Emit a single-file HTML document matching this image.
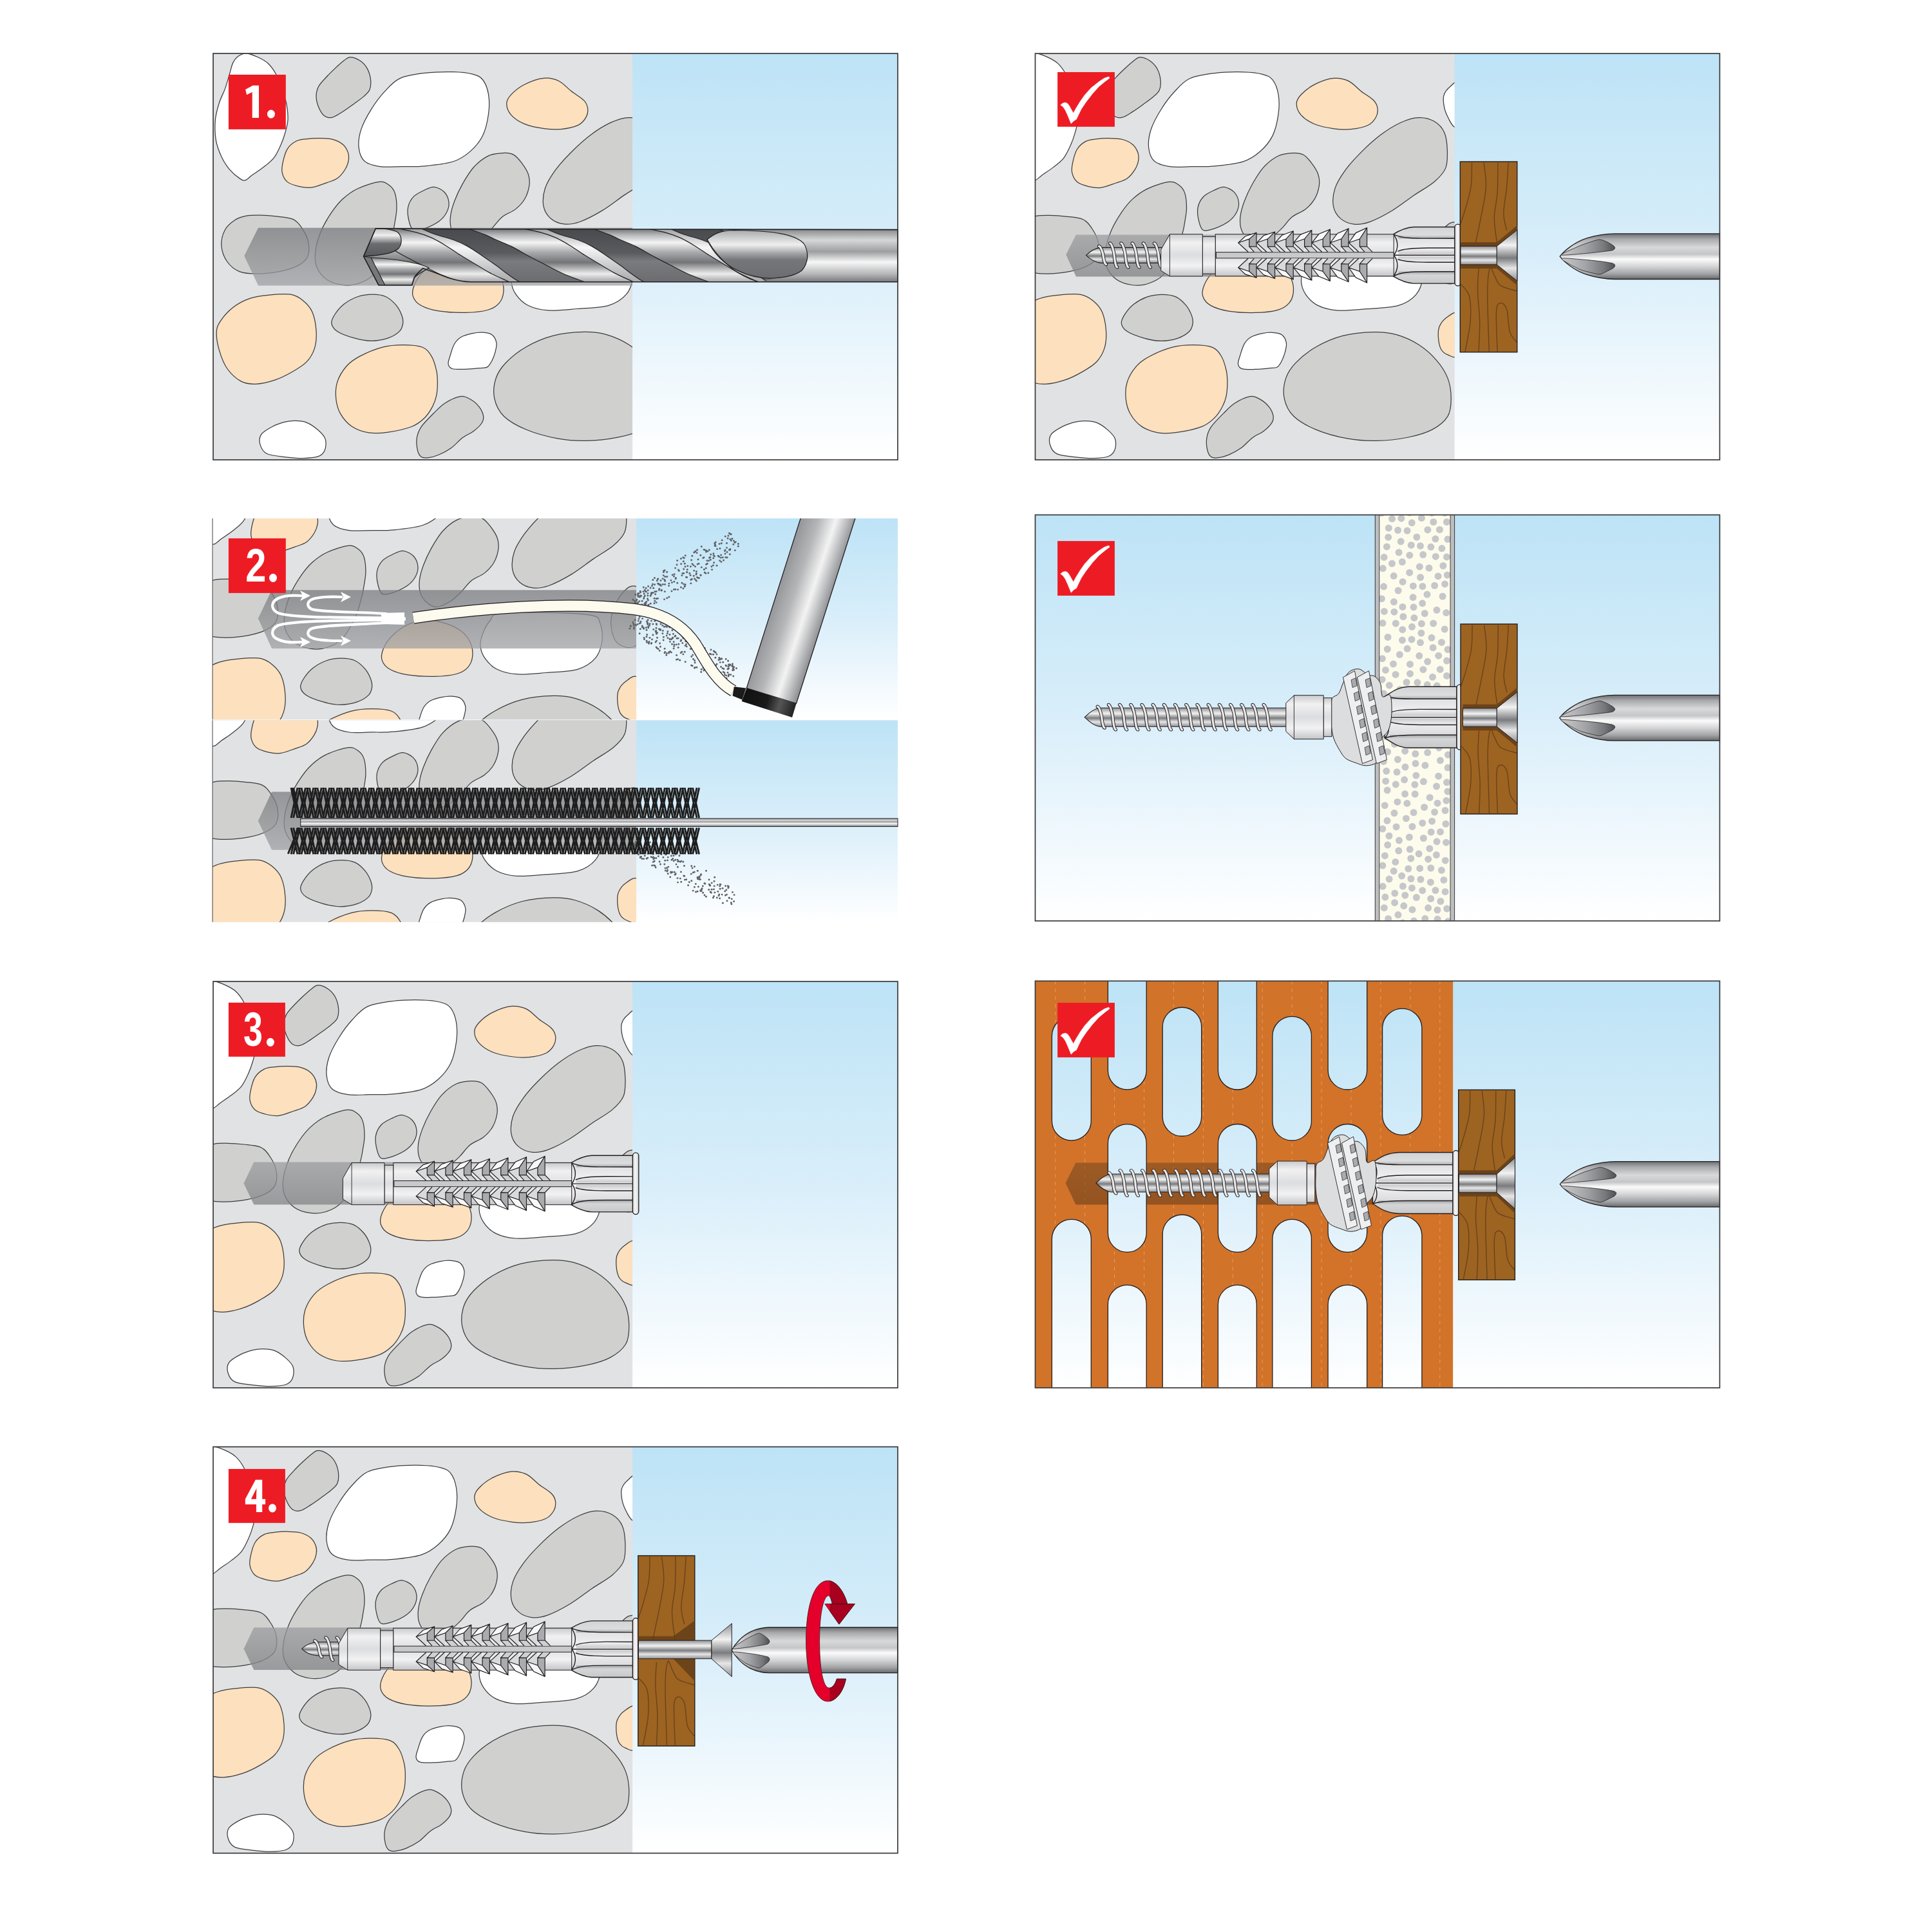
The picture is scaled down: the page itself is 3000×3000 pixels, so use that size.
<!DOCTYPE html><html><head><meta charset="utf-8"><style>html,body{margin:0;padding:0;background:#fff;width:3000px;height:3000px;overflow:hidden}svg{display:block}</style></head><body><svg width="3000" height="3000" viewBox="0 0 3000 3000"><defs><linearGradient id="sky" x1="0" y1="0" x2="0" y2="1">
<stop offset="0" stop-color="#bde3f6"/><stop offset="0.5" stop-color="#d9eefa"/><stop offset="1" stop-color="#ffffff"/></linearGradient>
<linearGradient id="hole" x1="0" y1="0" x2="0" y2="1">
<stop offset="0" stop-color="#7c7d81" stop-opacity="0.75"/><stop offset="1" stop-color="#a0a1a4" stop-opacity="0.75"/></linearGradient>
<linearGradient id="holeB" x1="0" y1="0" x2="0" y2="1">
<stop offset="0" stop-color="#9c9da0" stop-opacity="0.75"/><stop offset="1" stop-color="#828386" stop-opacity="0.75"/></linearGradient>
<linearGradient id="holeBr" x1="0" y1="0" x2="0" y2="1">
<stop offset="0" stop-color="#7a4a22" stop-opacity="0.6"/><stop offset="1" stop-color="#6a3e1a" stop-opacity="0.6"/></linearGradient>
<linearGradient id="metal" x1="0" y1="0" x2="0" y2="1">
<stop offset="0" stop-color="#6f7073"/><stop offset="0.12" stop-color="#b9babc"/><stop offset="0.25" stop-color="#f4f4f4"/><stop offset="0.42" stop-color="#a9aaac"/><stop offset="0.6" stop-color="#747578"/><stop offset="0.8" stop-color="#ececec"/><stop offset="1" stop-color="#88898b"/></linearGradient>
<linearGradient id="metal2" x1="0" y1="0" x2="0" y2="1">
<stop offset="0" stop-color="#8a8b8d"/><stop offset="0.2" stop-color="#d6d7d8"/><stop offset="0.42" stop-color="#9d9ea0"/><stop offset="0.62" stop-color="#f7f7f7"/><stop offset="0.85" stop-color="#b4b5b7"/><stop offset="1" stop-color="#77787b"/></linearGradient>
<linearGradient id="dark" x1="0" y1="0" x2="0" y2="1">
<stop offset="0" stop-color="#48494c"/><stop offset="0.45" stop-color="#5a5b5e"/><stop offset="0.6" stop-color="#7a7b7e"/><stop offset="1" stop-color="#6a6b6e"/></linearGradient>
<linearGradient id="hilite" x1="0" y1="0" x2="0" y2="1">
<stop offset="0" stop-color="#9c9da0"/><stop offset="0.35" stop-color="#f6f6f6"/><stop offset="0.6" stop-color="#d5d6d8"/><stop offset="1" stop-color="#a5a6a9"/></linearGradient>
<linearGradient id="tipg" x1="0" y1="0" x2="0" y2="1">
<stop offset="0" stop-color="#bdbec0"/><stop offset="0.25" stop-color="#eeeeee"/><stop offset="0.55" stop-color="#6b6c6f"/><stop offset="1" stop-color="#58595c"/></linearGradient>
<linearGradient id="shadeDn" x1="0" y1="0" x2="0" y2="1"><stop offset="0" stop-color="#9a9b9e" stop-opacity="0"/><stop offset="1" stop-color="#9a9b9e" stop-opacity="0.85"/></linearGradient>
<linearGradient id="shadeUp" x1="0" y1="0" x2="0" y2="1"><stop offset="0" stop-color="#9a9b9e" stop-opacity="0.85"/><stop offset="1" stop-color="#9a9b9e" stop-opacity="0"/></linearGradient>
<linearGradient id="flg" x1="0" y1="0" x2="1" y2="0"><stop offset="0" stop-color="#d8d9db"/><stop offset="0.5" stop-color="#f7f7f8"/><stop offset="1" stop-color="#c9cacc"/></linearGradient>
<linearGradient id="tongueg" x1="0" y1="0" x2="0" y2="1"><stop offset="0" stop-color="#a9aaac"/><stop offset="0.3" stop-color="#efefef"/><stop offset="0.5" stop-color="#9c9d9f"/><stop offset="0.62" stop-color="#757679"/><stop offset="1" stop-color="#6c6d70"/></linearGradient>
<linearGradient id="flute" x1="0" y1="0" x2="1" y2="0"><stop offset="0" stop-color="#c8c9cb"/><stop offset="0.45" stop-color="#a3a4a7"/><stop offset="0.8" stop-color="#77787b"/><stop offset="1" stop-color="#4e4f52"/></linearGradient>
<linearGradient id="plast" x1="0" y1="0" x2="0" y2="1">
<stop offset="0" stop-color="#c9cacc"/><stop offset="0.2" stop-color="#f1f1f2"/><stop offset="0.5" stop-color="#dcdde0"/><stop offset="0.75" stop-color="#f2f2f3"/><stop offset="1" stop-color="#c4c5c8"/></linearGradient>
<linearGradient id="plastH" x1="0" y1="0" x2="0" y2="1">
<stop offset="0" stop-color="#d2d3d5"/><stop offset="0.5" stop-color="#f6f6f7"/><stop offset="1" stop-color="#c7c8ca"/></linearGradient>
<linearGradient id="bitg" x1="0" y1="0" x2="0" y2="1">
<stop offset="0" stop-color="#6e6f72"/><stop offset="0.12" stop-color="#a9aaac"/><stop offset="0.3" stop-color="#d9d9db"/><stop offset="0.45" stop-color="#c5c6c8"/><stop offset="0.56" stop-color="#fbfbfb"/><stop offset="0.72" stop-color="#d4d5d7"/><stop offset="0.88" stop-color="#a3a4a6"/><stop offset="1" stop-color="#68696c"/></linearGradient>
<linearGradient id="screwg" x1="0" y1="0" x2="0" y2="1">
<stop offset="0" stop-color="#8e8f92"/><stop offset="0.3" stop-color="#f2f2f2"/><stop offset="0.55" stop-color="#7b7c7f"/><stop offset="0.75" stop-color="#e6e6e7"/><stop offset="1" stop-color="#909194"/></linearGradient>
<linearGradient id="pumpg" gradientUnits="userSpaceOnUse" x1="1246.3" y1="805.4" x2="1322.7" y2="830.7">
<stop offset="0" stop-color="#98999c"/><stop offset="0.3" stop-color="#b5b6b8"/><stop offset="0.62" stop-color="#f3f3f3"/><stop offset="0.8" stop-color="#c3c4c6"/><stop offset="1" stop-color="#8d8e91"/></linearGradient>
<linearGradient id="capg" gradientUnits="userSpaceOnUse" x1="1159.3" y1="1068.5" x2="1236.5" y2="1092.4">
<stop offset="0" stop-color="#111"/><stop offset="0.45" stop-color="#1a1a1a"/><stop offset="0.7" stop-color="#555"/><stop offset="1" stop-color="#222"/></linearGradient>
<g id="stones" stroke="#3d3d3f" stroke-width="3.6"><path d="M152.3,8.0 C166.7,8.8 186.9,17.9 203.0,25.4 C219.1,32.9 235.2,40.6 248.7,53.3 C262.2,66.0 274.0,82.5 284.2,101.5 C294.4,120.5 302.0,146.3 309.6,167.5 C317.2,188.7 325.2,205.6 329.9,228.4 C334.5,251.2 338.4,281.7 337.5,304.5 C336.6,327.3 330.3,345.9 324.8,365.4 C319.3,384.8 312.9,402.6 304.5,421.2 C296.1,439.8 286.8,461.0 274.1,477.1 C261.4,493.2 244.5,505.0 228.4,517.7 C212.3,530.4 191.1,543.5 177.6,553.2 C164.1,562.9 156.5,573.6 147.2,576.1 C137.9,578.6 133.7,576.5 121.8,568.4 C110.0,560.3 89.6,543.9 76.1,527.8 C62.6,511.7 50.8,494.0 40.6,472.0 C30.5,450.0 19.9,423.8 15.2,395.9 C10.5,368.0 10.1,332.4 12.7,304.5 C15.2,276.6 23.3,251.2 30.5,228.4 C37.7,205.6 48.2,188.7 55.8,167.5 C63.4,146.3 70.2,121.0 76.1,101.5 C82.0,82.0 84.6,64.3 91.4,50.8 C98.2,37.3 106.5,27.4 116.7,20.3 C126.9,13.2 137.9,7.2 152.3,8.0Z" fill="#ffffff"/><path d="M616.6,25.4 C628.5,25.4 647.1,32.2 659.8,40.6 C672.5,49.0 684.7,61.7 692.7,76.1 C700.7,90.5 706.3,110.8 708.0,126.9 C709.7,143.0 708.4,159.9 702.9,172.6 C697.4,185.3 686.4,192.8 675.0,203.0 C663.6,213.2 649.6,222.5 634.4,233.5 C619.2,244.5 599.7,258.9 583.6,269.0 C567.5,279.1 551.5,291.0 538.0,294.4 C524.5,297.8 512.5,296.1 502.4,289.3 C492.2,282.5 483.4,268.2 477.1,253.8 C470.8,239.4 464.8,219.1 464.4,203.0 C464.0,186.9 467.3,171.7 474.5,157.3 C481.7,142.9 495.2,130.2 507.5,116.7 C519.8,103.2 534.6,88.8 548.1,76.1 C561.6,63.4 577.3,49.0 588.7,40.6 C600.1,32.2 604.8,25.4 616.6,25.4Z" fill="#d0d0cf"/><path d="M951.6,96.4 C991.4,91.6 1043.0,90.6 1078.5,91.4 C1114.0,92.2 1142.8,95.6 1164.8,101.5 C1186.8,107.4 1198.6,111.7 1210.4,126.9 C1222.2,142.1 1231.6,167.5 1235.8,192.9 C1240.0,218.3 1240.0,248.7 1235.8,279.1 C1231.6,309.6 1223.9,347.7 1210.4,375.6 C1196.9,403.5 1176.6,427.2 1154.6,446.6 C1132.6,466.1 1112.3,481.3 1078.5,492.3 C1044.7,503.3 989.7,508.8 951.6,512.6 C913.5,516.4 883.6,514.6 850.0,515.0 C816.4,515.4 778.3,519.2 750.0,515.0 C721.7,510.8 695.8,504.2 680.0,490.0 C664.2,475.8 657.5,453.3 655.0,430.0 C652.5,406.7 655.8,378.3 665.0,350.0 C674.2,321.7 692.5,288.3 710.0,260.0 C727.5,231.7 748.3,203.3 770.0,180.0 C791.7,156.7 809.7,133.9 840.0,120.0 C870.3,106.1 911.9,101.2 951.6,96.4Z" fill="#ffffff"/><path d="M1484.5,119.3 C1509.9,116.8 1530.2,122.3 1550.5,132.0 C1570.8,141.7 1587.7,163.2 1606.3,177.6 C1624.9,192.0 1649.8,205.5 1662.1,218.2 C1674.4,230.9 1678.2,241.1 1679.9,253.8 C1681.6,266.5 1679.5,281.7 1672.3,294.4 C1665.1,307.1 1655.3,321.0 1636.7,329.9 C1618.1,338.8 1586.0,345.1 1560.6,347.6 C1535.2,350.1 1511.6,348.9 1484.5,345.1 C1457.4,341.3 1422.7,335.0 1398.2,324.8 C1373.7,314.6 1350.8,299.4 1337.3,284.2 C1323.8,269.0 1317.0,248.7 1317.0,233.5 C1317.0,218.3 1323.8,207.3 1337.3,192.9 C1350.8,178.5 1373.7,159.5 1398.2,147.2 C1422.7,134.9 1459.1,121.8 1484.5,119.3Z" fill="#fde0bd"/><path d="M477.1,388.2 C495.7,388.6 520.2,388.6 538.0,393.3 C555.8,398.0 572.2,406.5 583.6,416.2 C595.0,425.9 602.3,439.9 606.5,451.7 C610.7,463.5 611.1,474.5 609.0,487.2 C606.9,499.9 602.2,514.3 593.8,527.8 C585.3,541.3 572.7,558.2 558.3,568.4 C543.9,578.5 527.0,581.9 507.5,588.7 C488.0,595.5 461.8,606.5 441.5,609.0 C421.2,611.5 403.4,608.1 385.7,603.9 C367.9,599.7 347.3,593.8 335.0,583.6 C322.7,573.5 315.5,557.4 312.1,543.0 C308.7,528.6 310.9,515.1 314.7,497.4 C318.5,479.6 324.9,452.6 335.0,436.5 C345.1,420.4 360.4,408.5 375.6,400.9 C390.8,393.3 409.4,392.9 426.3,390.8 C443.2,388.7 458.5,387.8 477.1,388.2Z" fill="#fde0bd"/><path d="M1301.8,454.2 C1320.4,453.4 1334.0,454.6 1347.5,461.8 C1361.0,469.0 1372.0,483.0 1383.0,497.4 C1394.0,511.8 1407.5,531.2 1413.4,548.1 C1419.3,565.0 1421.0,580.3 1418.5,598.9 C1416.0,617.5 1408.4,642.0 1398.2,659.8 C1388.0,677.5 1374.5,691.9 1357.6,705.4 C1340.7,718.9 1314.5,726.6 1296.7,741.0 C1278.9,755.4 1267.1,776.0 1251.0,791.7 C1234.9,807.4 1218.5,824.0 1200.0,835.0 C1181.5,846.0 1157.5,858.0 1140.0,858.0 C1122.5,858.0 1107.0,846.0 1095.0,835.0 C1083.0,824.0 1073.2,808.2 1068.3,791.7 C1063.4,775.2 1063.3,756.2 1065.8,735.9 C1068.3,715.6 1074.6,693.6 1083.5,669.9 C1092.4,646.2 1104.7,619.2 1119.1,593.8 C1133.5,568.4 1150.3,538.9 1169.8,517.7 C1189.2,496.6 1213.8,477.5 1235.8,466.9 C1257.8,456.3 1283.2,455.0 1301.8,454.2Z" fill="#d0d0cf"/><path d="M1864.2,295.7 C1889.2,294.9 1915.0,301.5 1934.2,312.7 C1953.4,323.9 1969.5,341.0 1979.2,362.7 C1988.9,384.4 1991.4,416.0 1992.2,442.7 C1993.0,469.4 1993.9,499.4 1984.2,522.7 C1974.5,546.0 1957.5,562.7 1934.2,582.7 C1910.9,602.7 1875.9,621.0 1844.2,642.7 C1812.5,664.4 1777.5,692.7 1744.2,712.7 C1710.9,732.7 1672.5,752.7 1644.2,762.7 C1615.9,772.7 1595.9,775.2 1574.2,772.7 C1552.5,770.2 1529.5,761.0 1514.2,747.7 C1498.9,734.4 1486.4,715.2 1482.2,692.7 C1478.0,670.2 1480.5,639.4 1489.2,612.7 C1497.9,586.0 1515.0,559.4 1534.2,532.7 C1553.4,506.0 1577.5,479.4 1604.2,452.7 C1630.9,426.0 1664.2,395.2 1694.2,372.7 C1724.2,350.2 1755.9,330.5 1784.2,317.7 C1812.5,304.9 1839.2,296.5 1864.2,295.7Z" fill="#d0d0cf"/><path d="M746.0,583.6 C769.7,581.1 779.9,590.4 791.7,598.9 C803.5,607.4 811.5,617.5 817.0,634.4 C822.5,651.3 824.7,679.2 824.7,700.4 C824.7,721.5 820.0,742.7 817.0,761.3 C814.0,779.9 813.1,788.9 806.9,812.0 C800.7,835.1 794.5,868.7 780.0,900.0 C765.5,931.3 741.7,976.7 720.0,1000.0 C698.3,1023.3 673.3,1032.5 650.0,1040.0 C626.7,1047.5 603.3,1048.3 580.0,1045.0 C556.7,1041.7 529.2,1034.2 510.0,1020.0 C490.8,1005.8 473.0,982.0 465.0,960.0 C457.0,938.0 458.1,914.5 461.8,888.1 C465.5,861.8 475.4,829.8 487.2,801.9 C499.0,774.0 516.8,744.4 532.9,720.7 C549.0,697.0 564.1,677.6 583.6,659.8 C603.1,642.0 622.5,626.8 649.6,614.1 C676.7,601.4 722.3,586.1 746.0,583.6Z" fill="#d0d0cf"/><path d="M992.2,606.5 C1006.9,608.0 1026.9,617.9 1037.9,629.3 C1048.9,640.7 1056.5,659.8 1058.2,675.0 C1059.9,690.2 1055.6,706.3 1048.0,720.7 C1040.4,735.1 1028.6,749.5 1012.5,761.3 C996.4,773.1 970.4,785.2 951.6,791.7 C932.9,798.2 911.9,805.3 900.0,800.0 C888.1,794.7 884.2,776.7 880.0,760.0 C875.8,743.3 871.7,718.3 875.0,700.0 C878.3,681.7 887.5,663.3 900.0,650.0 C912.5,636.7 934.6,627.2 950.0,620.0 C965.4,612.8 977.6,605.0 992.2,606.5Z" fill="#d0d0cf"/><path d="M152.0,736.0 C170.8,732.3 191.0,732.7 213.0,733.0 C235.0,733.3 259.5,735.0 284.0,738.0 C308.5,741.0 340.5,742.0 360.0,751.0 C379.5,760.0 389.5,775.0 401.0,792.0 C412.5,809.0 425.0,831.7 429.0,853.0 C433.0,874.3 433.2,902.2 425.0,920.0 C416.8,937.8 400.8,949.2 380.0,960.0 C359.2,970.8 330.0,979.2 300.0,985.0 C270.0,990.8 230.0,995.0 200.0,995.0 C170.0,995.0 142.5,994.2 120.0,985.0 C97.5,975.8 78.3,959.2 65.0,940.0 C51.7,920.8 41.7,893.3 40.0,870.0 C38.3,846.7 45.0,819.2 55.0,800.0 C65.0,780.8 83.8,765.7 100.0,755.0 C116.2,744.3 133.2,739.7 152.0,736.0Z" fill="#d0d0cf"/><path d="M1093.0,917.0 C1121.3,916.2 1156.3,923.7 1183.0,932.0 C1209.7,940.3 1234.7,952.8 1253.0,967.0 C1271.3,981.2 1284.7,998.7 1293.0,1017.0 C1301.3,1035.3 1304.7,1058.7 1303.0,1077.0 C1301.3,1095.3 1294.7,1113.7 1283.0,1127.0 C1271.3,1140.3 1258.0,1150.0 1233.0,1157.0 C1208.0,1164.0 1169.7,1168.2 1133.0,1169.0 C1096.3,1169.8 1046.3,1167.3 1013.0,1162.0 C979.7,1156.7 952.2,1147.8 933.0,1137.0 C913.8,1126.2 903.0,1112.0 898.0,1097.0 C893.0,1082.0 895.5,1065.3 903.0,1047.0 C910.5,1028.7 924.7,1005.3 943.0,987.0 C961.3,968.7 988.0,948.7 1013.0,937.0 C1038.0,925.3 1064.7,917.8 1093.0,917.0Z" fill="#fde0bd"/><path d="M1423.0,887.0 C1464.7,881.3 1564.7,881.7 1633.0,883.0 C1701.3,884.3 1793.0,887.7 1833.0,895.0 C1873.0,902.3 1864.7,908.3 1873.0,927.0 C1881.3,945.7 1886.3,980.3 1883.0,1007.0 C1879.7,1033.7 1871.3,1065.3 1853.0,1087.0 C1834.7,1108.7 1809.7,1126.2 1773.0,1137.0 C1736.3,1147.8 1678.0,1148.3 1633.0,1152.0 C1588.0,1155.7 1539.7,1161.5 1503.0,1159.0 C1466.3,1156.5 1437.2,1149.0 1413.0,1137.0 C1388.8,1125.0 1370.5,1105.3 1358.0,1087.0 C1345.5,1068.7 1338.8,1047.0 1338.0,1027.0 C1337.2,1007.0 1345.5,985.3 1353.0,967.0 C1360.5,948.7 1371.3,930.3 1383.0,917.0 C1394.7,903.7 1381.3,892.7 1423.0,887.0Z" fill="#ffffff"/><path d="M350.2,1087.7 C375.6,1091.9 389.9,1102.6 406.0,1115.7 C422.1,1128.8 436.9,1143.6 446.6,1166.4 C456.3,1189.2 462.7,1225.6 464.4,1252.7 C466.1,1279.8 464.0,1306.0 456.8,1328.8 C449.6,1351.6 438.1,1371.9 421.2,1389.7 C404.3,1407.5 379.0,1421.9 355.3,1435.4 C331.6,1448.9 306.2,1462.0 279.1,1470.9 C252.0,1479.8 218.3,1487.9 192.9,1488.7 C167.5,1489.5 148.1,1487.4 126.9,1476.0 C105.8,1464.6 82.1,1443.0 66.0,1420.2 C49.9,1397.4 38.5,1366.1 30.5,1339.0 C22.5,1311.9 17.0,1279.8 17.8,1257.8 C18.6,1235.8 23.2,1225.6 35.5,1207.0 C47.8,1188.4 69.4,1163.0 91.4,1146.1 C113.4,1129.2 140.4,1114.8 167.5,1105.5 C194.6,1096.2 223.4,1093.3 253.8,1090.3 C284.2,1087.3 324.8,1083.5 350.2,1087.7Z" fill="#fde0bd"/><path d="M715.6,1087.7 C736.8,1087.7 758.7,1089.9 776.5,1097.9 C794.3,1106.0 810.4,1122.0 822.2,1136.0 C834.0,1150.0 842.4,1168.1 847.5,1181.6 C852.6,1195.1 854.3,1205.3 852.6,1217.2 C850.9,1229.1 848.4,1241.7 837.4,1252.7 C826.4,1263.7 807.8,1275.9 786.6,1283.1 C765.5,1290.3 735.9,1295.8 710.5,1295.8 C685.1,1295.8 659.8,1290.3 634.4,1283.1 C609.0,1275.9 575.2,1263.7 558.3,1252.7 C541.4,1241.7 534.6,1229.9 532.9,1217.2 C531.2,1204.5 538.8,1191.0 548.1,1176.6 C557.4,1162.2 571.8,1144.0 588.7,1130.9 C605.6,1117.8 628.5,1105.1 649.6,1097.9 C670.8,1090.7 694.5,1087.7 715.6,1087.7Z" fill="#d0d0cf"/><path d="M1210.4,1257.8 C1224.8,1258.8 1240.8,1260.3 1251.0,1267.9 C1261.2,1275.5 1268.8,1290.7 1271.3,1303.4 C1273.8,1316.1 1269.6,1330.5 1266.2,1344.0 C1262.8,1357.5 1256.9,1373.2 1251.0,1384.6 C1245.1,1396.0 1240.0,1407.0 1230.7,1412.5 C1221.4,1418.0 1212.1,1415.9 1195.2,1417.6 C1178.3,1419.3 1149.5,1422.3 1129.2,1422.7 C1108.9,1423.1 1085.7,1423.9 1073.4,1420.1 C1061.1,1416.3 1057.3,1409.2 1055.6,1399.9 C1053.9,1390.6 1058.6,1379.5 1063.3,1364.3 C1068.0,1349.1 1075.0,1322.9 1083.5,1308.5 C1092.0,1294.1 1100.5,1285.9 1114.0,1278.1 C1127.5,1270.3 1148.7,1265.2 1164.8,1261.8 C1180.9,1258.4 1196.0,1256.8 1210.4,1257.8Z" fill="#ffffff"/><path d="M852.6,1313.6 C882.2,1313.6 917.6,1315.2 938.9,1323.7 C960.2,1332.2 969.8,1346.6 980.5,1364.3 C991.2,1382.0 998.5,1409.9 1003.0,1430.0 C1007.5,1450.1 1007.5,1466.4 1007.4,1485.0 C1007.3,1503.6 1006.1,1524.3 1002.4,1541.8 C998.7,1559.3 993.7,1573.6 985.0,1590.0 C976.3,1606.4 965.3,1625.2 950.0,1640.0 C934.7,1654.8 920.4,1668.3 893.2,1679.0 C866.0,1689.7 818.7,1699.8 786.6,1704.4 C754.5,1709.1 727.5,1711.1 700.4,1706.9 C673.3,1702.7 645.4,1693.0 624.2,1679.0 C603.1,1665.0 585.3,1643.5 573.5,1623.2 C561.7,1602.9 555.7,1580.9 553.2,1557.2 C550.7,1533.5 550.7,1505.6 558.3,1481.1 C565.9,1456.6 582.0,1429.5 598.9,1410.0 C615.8,1390.5 632.7,1378.7 659.8,1364.3 C686.9,1349.9 729.2,1332.2 761.3,1323.7 C793.4,1315.2 823.0,1313.6 852.6,1313.6Z" fill="#fde0bd"/><path d="M1664.2,1255.7 C1704.2,1254.9 1730.9,1258.2 1764.2,1267.7 C1797.5,1277.2 1834.2,1293.5 1864.2,1312.7 C1894.2,1331.9 1922.5,1357.7 1944.2,1382.7 C1965.9,1407.7 1983.4,1434.4 1994.2,1462.7 C2005.0,1491.0 2009.2,1524.4 2009.2,1552.7 C2009.2,1581.0 2008.4,1609.4 1994.2,1632.7 C1980.0,1656.0 1954.2,1676.9 1924.2,1692.7 C1894.2,1708.5 1855.9,1719.4 1814.2,1727.7 C1772.5,1736.0 1719.2,1741.9 1674.2,1742.7 C1629.2,1743.5 1589.2,1741.0 1544.2,1732.7 C1499.2,1724.4 1444.2,1709.4 1404.2,1692.7 C1364.2,1676.0 1327.9,1656.0 1304.2,1632.7 C1280.5,1609.4 1268.0,1581.0 1262.2,1552.7 C1256.4,1524.4 1260.5,1489.4 1269.2,1462.7 C1277.9,1436.0 1291.7,1416.0 1314.2,1392.7 C1336.7,1369.4 1369.2,1342.7 1404.2,1322.7 C1439.2,1302.7 1480.9,1283.9 1524.2,1272.7 C1567.5,1261.5 1624.2,1256.5 1664.2,1255.7Z" fill="#d0d0cf"/><path d="M1108.9,1544.5 C1128.0,1541.5 1140.2,1549.2 1154.6,1557.2 C1169.0,1565.2 1185.5,1580.0 1195.2,1592.7 C1204.9,1605.4 1211.3,1621.5 1213.0,1633.3 C1214.7,1645.1 1212.5,1652.8 1205.3,1663.8 C1198.1,1674.8 1184.2,1688.3 1169.8,1699.3 C1155.4,1710.3 1136.0,1717.0 1119.1,1729.7 C1102.2,1742.4 1086.1,1762.7 1068.3,1775.4 C1050.5,1788.1 1029.4,1798.7 1012.5,1805.9 C995.6,1813.1 979.7,1817.0 966.8,1818.5 C953.9,1820.0 943.1,1820.6 935.0,1815.0 C926.9,1809.4 921.3,1799.2 918.0,1785.0 C914.7,1770.8 912.2,1747.5 915.0,1730.0 C917.8,1712.5 922.5,1698.3 935.0,1680.0 C947.5,1661.7 972.5,1637.5 990.0,1620.0 C1007.5,1602.5 1020.2,1587.6 1040.0,1575.0 C1059.8,1562.4 1089.8,1547.5 1108.9,1544.5Z" fill="#d0d0cf"/><path d="M370.5,1653.6 C386.6,1654.0 404.3,1654.4 421.2,1661.2 C438.1,1668.0 458.0,1681.9 472.0,1694.2 C486.0,1706.5 499.9,1719.6 505.0,1734.8 C510.1,1750.0 507.9,1772.4 502.4,1785.5 C496.9,1798.6 488.1,1807.6 472.0,1813.5 C455.9,1819.4 429.7,1820.7 406.0,1821.1 C382.3,1821.5 357.0,1819.4 329.9,1816.0 C302.8,1812.6 263.1,1810.1 243.6,1800.8 C224.2,1791.5 217.4,1774.6 213.2,1760.2 C209.0,1745.8 208.9,1728.0 218.2,1714.5 C227.5,1701.0 251.2,1688.3 269.0,1679.0 C286.8,1669.7 307.9,1662.9 324.8,1658.7 C341.7,1654.5 354.4,1653.2 370.5,1653.6Z" fill="#ffffff"/><path d="M2044.2,142.7 C2027.5,126.9 2015.5,148.5 2004.2,157.7 C1992.9,166.9 1980.4,181.9 1976.2,197.7 C1972.0,213.5 1975.4,235.2 1979.2,252.7 C1983.0,270.2 1991.7,288.5 1999.2,302.7 C2006.7,316.9 2013.4,331.0 2024.2,337.7 C2035.0,344.4 2050.9,356.9 2064.2,342.7 C2077.5,328.5 2107.5,286.0 2104.2,252.7 C2100.9,219.4 2060.9,158.5 2044.2,142.7Z" fill="#ffffff"/><path d="M2044.2,1172.7 C2025.0,1159.0 2003.9,1180.7 1989.2,1190.7 C1974.5,1200.7 1962.4,1217.4 1956.2,1232.7 C1950.0,1248.0 1950.9,1266.0 1952.2,1282.7 C1953.5,1299.4 1957.2,1320.2 1964.2,1332.7 C1971.2,1345.2 1980.9,1352.7 1994.2,1357.7 C2007.5,1362.7 2025.9,1376.9 2044.2,1362.7 C2062.5,1348.5 2104.2,1304.4 2104.2,1272.7 C2104.2,1241.0 2063.4,1186.4 2044.2,1172.7Z" fill="#fde0bd"/><path d="M2013.0,765.0 C2026.3,761.7 2039.7,763.3 2053.0,777.0 C2066.3,790.7 2088.0,818.7 2093.0,847.0 C2098.0,875.3 2092.2,917.0 2083.0,947.0 C2073.8,977.0 2053.0,1011.7 2038.0,1027.0 C2023.0,1042.3 2008.8,1042.0 1993.0,1039.0 C1977.2,1036.0 1954.7,1026.0 1943.0,1009.0 C1931.3,992.0 1924.7,960.7 1923.0,937.0 C1921.3,913.3 1924.7,890.3 1933.0,867.0 C1941.3,843.7 1959.7,814.0 1973.0,797.0 C1986.3,780.0 1999.7,768.3 2013.0,765.0Z" fill="#d0d0cf"/></g><clipPath id="c1"><rect x="331" y="83" width="651.1" height="631"/></clipPath><clipPath id="drillclip"><path d="M564.6,398 L583.3,354.7 L700,355.6 L1394,356.6 L1394,437.8 L730.8,437.8 C715,437.5 705,434 696.6,431.5 C685,427 673.9,422.4 656.8,416.7 C650,422.4 645,428 643.1,431.5 L639.7,442.7 L587.9,442.7 Z"/></clipPath><clipPath id="c20"><rect x="330" y="805" width="658" height="312.29999999999995"/></clipPath><clipPath id="c21"><rect x="330" y="1118.4" width="658" height="313.29999999999995"/></clipPath><clipPath id="p2top"><rect x="330" y="805" width="1064" height="320"/></clipPath><clipPath id="c3"><rect x="331" y="1524" width="651.1" height="631"/></clipPath><clipPath id="c4"><rect x="331" y="2246.6" width="651.1" height="631.0"/></clipPath><clipPath id="arrowR"><rect x="1288.5" y="2440" width="60" height="220"/></clipPath><clipPath id="cr1"><rect x="1607.5" y="83.1" width="651.0999999999999" height="630.9"/></clipPath><clipPath id="insclip"><rect x="2141.8" y="800" width="110.29999999999973" height="629.5"/></clipPath><clipPath id="brickclip"><rect x="1607.5" y="1523.3" width="648.9000000000001" height="631.7"/></clipPath></defs><rect x="331" y="83" width="1063" height="631" fill="url(#sky)"/><rect x="331" y="83" width="651.1" height="631" fill="#e1e2e4"/><g clip-path="url(#c1)"><use href="#stones" transform="translate(330,80) scale(0.346789)"/></g><path d="M379.3,397.3 L401.0,353.8 L982.1,353.8 L982.1,443.5 L401.0,443.5Z" fill="url(#hole)"/><path d="M564.6,398 L583.3,354.7 L700,355.6 L1394,356.6 L1394,437.8 L730.8,437.8 C715,437.5 705,434 696.6,431.5 C685,427 673.9,422.4 656.8,416.7 C650,422.4 645,428 643.1,431.5 L639.7,442.7 L587.9,442.7 Z" fill="url(#metal)"/><g clip-path="url(#drillclip)"><path d="M652.0,354.0 C655.9,355.6 666.6,360.8 675.2,363.8 C683.8,366.9 695.1,369.2 703.6,372.3 C712.1,375.4 718.8,378.4 726.4,382.6 C734.0,386.8 741.6,392.3 749.2,397.4 C756.8,402.5 765.7,408.8 772.0,413.3 C778.3,417.9 782.0,421.1 787.0,424.7 C792.0,428.3 797.8,432.4 802.0,435.0 C806.2,437.6 810.3,439.2 812.0,440.0 L915.0,440.0 C911.9,439.0 903.5,436.4 896.6,433.8 C889.8,431.2 881.5,428.1 873.9,424.7 C866.3,421.3 859.6,417.7 851.1,413.3 C842.6,408.9 832.1,403.6 822.6,398.5 C813.1,393.4 803.0,387.0 794.2,382.6 C785.4,378.2 776.9,375.3 770.0,372.3 C763.1,369.3 760.5,367.4 752.9,364.4 C745.3,361.3 729.1,355.7 724.4,354.0Z" fill="url(#dark)" /><path d="M615.0,354.0 C620.3,355.1 637.6,358.4 646.7,360.9 C655.8,363.4 661.9,365.5 669.5,368.9 C677.1,372.3 684.7,376.8 692.3,381.4 C699.9,385.9 707.4,391.4 715.0,396.2 C722.6,400.9 730.2,405.3 737.8,409.9 C745.4,414.5 752.4,419.2 760.6,423.6 C768.8,428.0 781.3,433.4 787.0,436.1 C792.7,438.8 793.7,439.4 795.0,440.0 L812.0,440.0 C810.3,439.2 806.2,437.6 802.0,435.0 C797.8,432.4 792.0,428.3 787.0,424.7 C782.0,421.1 778.3,417.9 772.0,413.3 C765.7,408.8 756.8,402.5 749.2,397.4 C741.6,392.3 734.0,386.8 726.4,382.6 C718.8,378.4 712.1,375.4 703.6,372.3 C695.1,369.2 683.8,366.9 675.2,363.8 C666.6,360.8 655.9,355.6 652.0,354.0Z" fill="url(#hilite)" /><path d="M845.0,354.0 C848.9,355.6 859.6,360.8 868.2,363.8 C876.8,366.9 888.1,369.2 896.6,372.3 C905.1,375.4 911.8,378.4 919.4,382.6 C927.0,386.8 934.6,392.3 942.2,397.4 C949.8,402.5 958.7,408.8 965.0,413.3 C971.3,417.9 975.0,421.1 980.0,424.7 C985.0,428.3 990.8,432.4 995.0,435.0 C999.2,437.6 1003.3,439.2 1005.0,440.0 L1108.0,440.0 C1104.9,439.0 1096.4,436.4 1089.6,433.8 C1082.8,431.2 1074.5,428.1 1066.9,424.7 C1059.3,421.3 1052.6,417.7 1044.1,413.3 C1035.5,408.9 1025.1,403.6 1015.6,398.5 C1006.1,393.4 996.0,387.0 987.2,382.6 C978.4,378.2 969.9,375.3 963.0,372.3 C956.1,369.3 953.5,367.4 945.9,364.4 C938.3,361.3 922.1,355.7 917.4,354.0Z" fill="url(#dark)" /><path d="M808.0,354.0 C813.3,355.1 830.6,358.4 839.7,360.9 C848.8,363.4 854.9,365.5 862.5,368.9 C870.1,372.3 877.7,376.8 885.3,381.4 C892.9,385.9 900.4,391.4 908.0,396.2 C915.6,400.9 923.2,405.3 930.8,409.9 C938.4,414.5 945.4,419.2 953.6,423.6 C961.8,428.0 974.3,433.4 980.0,436.1 C985.7,438.8 986.7,439.4 988.0,440.0 L1005.0,440.0 C1003.3,439.2 999.2,437.6 995.0,435.0 C990.8,432.4 985.0,428.3 980.0,424.7 C975.0,421.1 971.3,417.9 965.0,413.3 C958.7,408.8 949.8,402.5 942.2,397.4 C934.6,392.3 927.0,386.8 919.4,382.6 C911.8,378.4 905.1,375.4 896.6,372.3 C888.1,369.2 876.8,366.9 868.2,363.8 C859.6,360.8 848.9,355.6 845.0,354.0Z" fill="url(#hilite)" /><path d="M1038.0,354.0 C1041.9,355.6 1052.6,360.8 1061.2,363.8 C1069.8,366.9 1081.1,369.2 1089.6,372.3 C1098.1,375.4 1104.8,378.4 1112.4,382.6 C1120.0,386.8 1127.6,392.3 1135.2,397.4 C1142.8,402.5 1151.7,408.8 1158.0,413.3 C1164.3,417.9 1168.0,421.1 1173.0,424.7 C1178.0,428.3 1183.8,432.4 1188.0,435.0 C1192.2,437.6 1196.3,439.2 1198.0,440.0 L1301.0,440.0 C1297.9,439.0 1289.4,436.4 1282.6,433.8 C1275.8,431.2 1267.5,428.1 1259.9,424.7 C1252.3,421.3 1245.6,417.7 1237.1,413.3 C1228.5,408.9 1218.1,403.6 1208.6,398.5 C1199.1,393.4 1189.0,387.0 1180.2,382.6 C1171.4,378.2 1162.9,375.3 1156.0,372.3 C1149.1,369.3 1146.5,367.4 1138.9,364.4 C1131.3,361.3 1115.2,355.7 1110.4,354.0Z" fill="url(#dark)" /><path d="M1001.0,354.0 C1006.3,355.1 1023.6,358.4 1032.7,360.9 C1041.8,363.4 1047.9,365.5 1055.5,368.9 C1063.1,372.3 1070.7,376.8 1078.3,381.4 C1085.9,385.9 1093.4,391.4 1101.0,396.2 C1108.6,400.9 1116.2,405.3 1123.8,409.9 C1131.4,414.5 1138.4,419.2 1146.6,423.6 C1154.8,428.0 1167.3,433.4 1173.0,436.1 C1178.7,438.8 1179.7,439.4 1181.0,440.0 L1198.0,440.0 C1196.3,439.2 1192.2,437.6 1188.0,435.0 C1183.8,432.4 1178.0,428.3 1173.0,424.7 C1168.0,421.1 1164.3,417.9 1158.0,413.3 C1151.7,408.8 1142.8,402.5 1135.2,397.4 C1127.6,392.3 1120.0,386.8 1112.4,382.6 C1104.8,378.4 1098.1,375.4 1089.6,372.3 C1081.1,369.2 1069.8,366.9 1061.2,363.8 C1052.6,360.8 1041.9,355.6 1038.0,354.0Z" fill="url(#hilite)" /><path d="M531.4,354.0 C536.1,355.7 552.3,361.3 559.9,364.4 C567.5,367.4 570.1,369.3 577.0,372.3 C583.9,375.3 592.4,378.2 601.2,382.6 C610.0,387.0 620.1,393.4 629.6,398.5 C639.1,403.6 649.6,408.9 658.1,413.3 C666.6,417.7 673.3,421.3 680.9,424.7 C688.5,428.1 696.8,431.2 703.6,433.8 C710.5,436.4 718.9,439.0 722.0,440.0" fill="none" stroke="#231f20" stroke-width="1.2"/><path d="M615.0,354.0 C620.3,355.1 637.6,358.4 646.7,360.9 C655.8,363.4 661.9,365.5 669.5,368.9 C677.1,372.3 684.7,376.8 692.3,381.4 C699.9,385.9 707.4,391.4 715.0,396.2 C722.6,400.9 730.2,405.3 737.8,409.9 C745.4,414.5 752.4,419.2 760.6,423.6 C768.8,428.0 781.3,433.4 787.0,436.1 C792.7,438.8 793.7,439.4 795.0,440.0" fill="none" stroke="#231f20" stroke-width="1.2"/><path d="M652.0,354.0 C655.9,355.6 666.6,360.8 675.2,363.8 C683.8,366.9 695.1,369.2 703.6,372.3 C712.1,375.4 718.8,378.4 726.4,382.6 C734.0,386.8 741.6,392.3 749.2,397.4 C756.8,402.5 765.7,408.8 772.0,413.3 C778.3,417.9 782.0,421.1 787.0,424.7 C792.0,428.3 797.8,432.4 802.0,435.0 C806.2,437.6 810.3,439.2 812.0,440.0" fill="none" stroke="#231f20" stroke-width="1.2"/><path d="M724.4,354.0 C729.1,355.7 745.3,361.3 752.9,364.4 C760.5,367.4 763.1,369.3 770.0,372.3 C776.9,375.3 785.4,378.2 794.2,382.6 C803.0,387.0 813.1,393.4 822.6,398.5 C832.1,403.6 842.6,408.9 851.1,413.3 C859.6,417.7 866.3,421.3 873.9,424.7 C881.5,428.1 889.8,431.2 896.6,433.8 C903.5,436.4 911.9,439.0 915.0,440.0" fill="none" stroke="#231f20" stroke-width="1.2"/><path d="M808.0,354.0 C813.3,355.1 830.6,358.4 839.7,360.9 C848.8,363.4 854.9,365.5 862.5,368.9 C870.1,372.3 877.7,376.8 885.3,381.4 C892.9,385.9 900.4,391.4 908.0,396.2 C915.6,400.9 923.2,405.3 930.8,409.9 C938.4,414.5 945.4,419.2 953.6,423.6 C961.8,428.0 974.3,433.4 980.0,436.1 C985.7,438.8 986.7,439.4 988.0,440.0" fill="none" stroke="#231f20" stroke-width="1.2"/><path d="M845.0,354.0 C848.9,355.6 859.6,360.8 868.2,363.8 C876.8,366.9 888.1,369.2 896.6,372.3 C905.1,375.4 911.8,378.4 919.4,382.6 C927.0,386.8 934.6,392.3 942.2,397.4 C949.8,402.5 958.7,408.8 965.0,413.3 C971.3,417.9 975.0,421.1 980.0,424.7 C985.0,428.3 990.8,432.4 995.0,435.0 C999.2,437.6 1003.3,439.2 1005.0,440.0" fill="none" stroke="#231f20" stroke-width="1.2"/><path d="M917.4,354.0 C922.1,355.7 938.3,361.3 945.9,364.4 C953.5,367.4 956.1,369.3 963.0,372.3 C969.9,375.3 978.4,378.2 987.2,382.6 C996.0,387.0 1006.1,393.4 1015.6,398.5 C1025.1,403.6 1035.5,408.9 1044.1,413.3 C1052.6,417.7 1059.3,421.3 1066.9,424.7 C1074.5,428.1 1082.8,431.2 1089.6,433.8 C1096.4,436.4 1104.9,439.0 1108.0,440.0" fill="none" stroke="#231f20" stroke-width="1.2"/><path d="M1001.0,354.0 C1006.3,355.1 1023.6,358.4 1032.7,360.9 C1041.8,363.4 1047.9,365.5 1055.5,368.9 C1063.1,372.3 1070.7,376.8 1078.3,381.4 C1085.9,385.9 1093.4,391.4 1101.0,396.2 C1108.6,400.9 1116.2,405.3 1123.8,409.9 C1131.4,414.5 1138.4,419.2 1146.6,423.6 C1154.8,428.0 1167.3,433.4 1173.0,436.1 C1178.7,438.8 1179.7,439.4 1181.0,440.0" fill="none" stroke="#231f20" stroke-width="1.2"/><path d="M1038.0,354.0 C1041.9,355.6 1052.6,360.8 1061.2,363.8 C1069.8,366.9 1081.1,369.2 1089.6,372.3 C1098.1,375.4 1104.8,378.4 1112.4,382.6 C1120.0,386.8 1127.6,392.3 1135.2,397.4 C1142.8,402.5 1151.7,408.8 1158.0,413.3 C1164.3,417.9 1168.0,421.1 1173.0,424.7 C1178.0,428.3 1183.8,432.4 1188.0,435.0 C1192.2,437.6 1196.3,439.2 1198.0,440.0" fill="none" stroke="#231f20" stroke-width="1.2"/><path d="M1110.4,354.0 C1115.2,355.7 1131.3,361.3 1138.9,364.4 C1146.5,367.4 1149.1,369.3 1156.0,372.3 C1162.9,375.3 1171.4,378.2 1180.2,382.6 C1189.0,387.0 1199.1,393.4 1208.6,398.5 C1218.1,403.6 1228.5,408.9 1237.1,413.3 C1245.6,417.7 1252.3,421.3 1259.9,424.7 C1267.5,428.1 1275.8,431.2 1282.6,433.8 C1289.4,436.4 1297.9,439.0 1301.0,440.0" fill="none" stroke="#231f20" stroke-width="1.2"/><path d="M1178.6,437.9 L1394,437.9 L1394,356.6 L1120,356.6 C1135,357.5 1200,358 1230,366 C1250,375 1256,390 1254.8,398 C1253,415 1235,428 1211.8,431 C1195,434 1185,437 1178.6,437.9Z" fill="url(#metal2)"/><path d="M1098,372 C1110,362 1120,358 1140,357.5 C1200,358 1235,364 1248,378 C1256,390 1256,408 1245,420 C1235,428 1220,431 1200,432 C1170,433 1120,420 1098,372Z" fill="url(#tongueg)" stroke="#231f20" stroke-width="1.2"/><path d="M1178.6,437.9 C1150,430 1120,410 1098,372" fill="none" stroke="#231f20" stroke-width="1.2"/></g><path d="M564.6,398 L583.3,354.7 C600,355 612,357 618,361 C624,367 625,378 619.5,385 C612,393 595,396.5 564.6,398Z" fill="url(#tipg)" stroke="#231f20" stroke-width="1.2"/><path d="M576,400 C600,401 625,404 650,410 C660,413 665,415 666,416 C660,420 650,424 643.1,431.5 L639.7,442.7 L597.6,442.7 Z" fill="url(#metal)" stroke="#231f20" stroke-width="1.1"/><path d="M564.6,398 L576,400 L597.6,442.7 L587.9,442.7 Z" fill="#77787b" stroke="#231f20" stroke-width="1"/><path d="M564.6,398 L583.3,354.7 L700,355.6 L1394,356.6 L1394,437.8 L730.8,437.8 C715,437.5 705,434 696.6,431.5 C685,427 673.9,422.4 656.8,416.7 C650,422.4 645,428 643.1,431.5 L639.7,442.7 L587.9,442.7 Z" fill="none" stroke="#231f20" stroke-width="1.6"/><rect x="330" y="805" width="1064" height="312.29999999999995" fill="url(#sky)"/><rect x="330" y="805" width="658" height="312.29999999999995" fill="#e1e2e4"/><g clip-path="url(#c20)"><use href="#stones" transform="translate(281.9,645.0) scale(0.346789)"/></g><path d="M330,805 V1117.3" stroke="#444" stroke-width="1"/><rect x="330" y="1118.4" width="1064" height="313.29999999999995" fill="url(#sky)"/><rect x="330" y="1118.4" width="658" height="313.29999999999995" fill="#e1e2e4"/><g clip-path="url(#c21)"><use href="#stones" transform="translate(281.9,958.4) scale(0.346789)"/></g><path d="M330,1118.4 V1431.7" stroke="#444" stroke-width="1"/><path d="M400.8,960.2 L422.0,916.2 L988.0,916.2 L988.0,1007.0 L422.0,1007.0Z" fill="url(#hole)"/><path d="M400.8,1274.7 L422.0,1229.6 L988.0,1229.6 L988.0,1319.8 L422.0,1319.8Z" fill="url(#hole)"/><path d="M628,960 C560,958 460,961 432,952 C420,946 420,935 432,929 C440,925 455,924 468,925" fill="none" stroke="#fff" stroke-width="4.2" stroke-linecap="round"/><path d="M628,962 C560,964 460,962 432,971 C420,977 420,988 432,993 C440,997 455,998 468,997" fill="none" stroke="#fff" stroke-width="4.2" stroke-linecap="round"/><path d="M600,953 C560,950 500,951 484,946 C476,942 476,934 486,930 C495,927 515,926 530,927" fill="none" stroke="#fff" stroke-width="4.2" stroke-linecap="round"/><path d="M600,967 C560,970 500,970 484,976 C476,980 476,988 486,991 C495,995 515,995 530,995" fill="none" stroke="#fff" stroke-width="4.2" stroke-linecap="round"/><path d="M466,917 L482,925 L466,933 L470,925Z" fill="#fff"/><path d="M529,919 L545,927 L529,935 L533,927Z" fill="#fff"/><path d="M466,989 L482,997 L466,1005 L470,997Z" fill="#fff"/><path d="M529,987 L545,995 L529,1003 L533,995Z" fill="#fff"/><path d="M592,952 L628,951 L628,970 L592,969Z" fill="#fff"/><g fill="#606163"><circle cx="1030.2" cy="893.6" r="1.45"/><circle cx="1078.9" cy="857.0" r="1.45"/><circle cx="1067.8" cy="878.9" r="1.45"/><circle cx="997.1" cy="933.2" r="1.45"/><circle cx="992.8" cy="933.6" r="1.45"/><circle cx="992.0" cy="921.5" r="1.45"/><circle cx="1061.7" cy="907.1" r="1.45"/><circle cx="1002.1" cy="918.6" r="1.45"/><circle cx="1095.8" cy="890.3" r="1.45"/><circle cx="1075.0" cy="875.8" r="1.45"/><circle cx="1132.4" cy="828.0" r="1.45"/><circle cx="1117.1" cy="844.6" r="1.45"/><circle cx="1003.1" cy="913.3" r="1.45"/><circle cx="1043.0" cy="918.0" r="1.45"/><circle cx="1017.6" cy="922.8" r="1.45"/><circle cx="1084.0" cy="868.7" r="1.45"/><circle cx="1062.3" cy="866.6" r="1.45"/><circle cx="992.4" cy="925.6" r="1.45"/><circle cx="1091.8" cy="866.4" r="1.45"/><circle cx="1038.6" cy="909.6" r="1.45"/><circle cx="1053.4" cy="885.0" r="1.45"/><circle cx="1115.2" cy="863.3" r="1.45"/><circle cx="1027.4" cy="916.3" r="1.45"/><circle cx="1078.5" cy="898.6" r="1.45"/><circle cx="1096.4" cy="856.9" r="1.45"/><circle cx="1134.1" cy="829.3" r="1.45"/><circle cx="1059.0" cy="905.2" r="1.45"/><circle cx="1011.3" cy="923.0" r="1.45"/><circle cx="996.7" cy="939.0" r="1.45"/><circle cx="1108.1" cy="862.6" r="1.45"/><circle cx="1120.3" cy="843.7" r="1.45"/><circle cx="1097.9" cy="870.6" r="1.45"/><circle cx="1076.8" cy="877.7" r="1.45"/><circle cx="1126.8" cy="865.4" r="1.45"/><circle cx="1065.5" cy="896.2" r="1.45"/><circle cx="1000.7" cy="937.7" r="1.45"/><circle cx="1099.8" cy="889.7" r="1.45"/><circle cx="1111.1" cy="847.9" r="1.45"/><circle cx="1051.8" cy="905.3" r="1.45"/><circle cx="990.9" cy="935.8" r="1.45"/><circle cx="1006.6" cy="910.4" r="1.45"/><circle cx="1001.5" cy="939.5" r="1.45"/><circle cx="1003.4" cy="918.7" r="1.45"/><circle cx="1057.4" cy="912.0" r="1.45"/><circle cx="999.6" cy="929.4" r="1.45"/><circle cx="1082.5" cy="896.4" r="1.45"/><circle cx="1122.2" cy="865.5" r="1.45"/><circle cx="1029.3" cy="907.5" r="1.45"/><circle cx="1052.6" cy="915.6" r="1.45"/><circle cx="1130.9" cy="832.0" r="1.45"/><circle cx="1010.0" cy="912.9" r="1.45"/><circle cx="1023.8" cy="914.5" r="1.45"/><circle cx="1073.6" cy="869.8" r="1.45"/><circle cx="987.4" cy="936.8" r="1.45"/><circle cx="1046.8" cy="903.3" r="1.45"/><circle cx="1138.8" cy="845.4" r="1.45"/><circle cx="1070.8" cy="890.2" r="1.45"/><circle cx="1082.6" cy="854.0" r="1.45"/><circle cx="1132.4" cy="853.8" r="1.45"/><circle cx="1129.0" cy="857.2" r="1.45"/><circle cx="1046.4" cy="895.0" r="1.45"/><circle cx="1006.4" cy="931.9" r="1.45"/><circle cx="990.5" cy="921.8" r="1.45"/><circle cx="1013.4" cy="907.1" r="1.45"/><circle cx="1030.4" cy="888.4" r="1.45"/><circle cx="982.9" cy="931.3" r="1.45"/><circle cx="1001.3" cy="924.9" r="1.45"/><circle cx="997.7" cy="945.0" r="1.45"/><circle cx="1074.8" cy="863.2" r="1.45"/><circle cx="1023.8" cy="908.1" r="1.45"/><circle cx="1035.6" cy="888.2" r="1.45"/><circle cx="1129.0" cy="865.7" r="1.45"/><circle cx="1059.8" cy="890.4" r="1.45"/><circle cx="994.5" cy="919.9" r="1.45"/><circle cx="1035.7" cy="895.5" r="1.45"/><circle cx="1109.8" cy="843.6" r="1.45"/><circle cx="998.5" cy="947.0" r="1.45"/><circle cx="1061.3" cy="871.7" r="1.45"/><circle cx="1060.7" cy="865.8" r="1.45"/><circle cx="1081.5" cy="902.1" r="1.45"/><circle cx="1125.5" cy="855.6" r="1.45"/><circle cx="1025.6" cy="907.7" r="1.45"/><circle cx="1019.2" cy="929.8" r="1.45"/><circle cx="1077.3" cy="894.3" r="1.45"/><circle cx="1032.7" cy="895.5" r="1.45"/><circle cx="1123.5" cy="870.0" r="1.45"/><circle cx="1126.0" cy="859.9" r="1.45"/><circle cx="1119.6" cy="861.9" r="1.45"/><circle cx="1023.5" cy="916.2" r="1.45"/><circle cx="1032.1" cy="885.8" r="1.45"/><circle cx="988.9" cy="931.0" r="1.45"/><circle cx="1032.3" cy="918.6" r="1.45"/><circle cx="1135.4" cy="839.2" r="1.45"/><circle cx="1141.3" cy="854.6" r="1.45"/><circle cx="1133.9" cy="837.4" r="1.45"/><circle cx="1016.5" cy="907.7" r="1.45"/><circle cx="1012.5" cy="909.7" r="1.45"/><circle cx="1094.2" cy="889.0" r="1.45"/><circle cx="1117.9" cy="851.8" r="1.45"/><circle cx="1096.2" cy="882.2" r="1.45"/><circle cx="1003.9" cy="934.4" r="1.45"/><circle cx="1133.9" cy="852.7" r="1.45"/><circle cx="1103.8" cy="861.0" r="1.45"/><circle cx="1021.4" cy="929.2" r="1.45"/><circle cx="1046.5" cy="915.2" r="1.45"/><circle cx="1137.0" cy="836.5" r="1.45"/><circle cx="1060.9" cy="913.7" r="1.45"/><circle cx="1093.1" cy="853.4" r="1.45"/><circle cx="1001.3" cy="916.3" r="1.45"/><circle cx="1133.6" cy="853.9" r="1.45"/><circle cx="1016.8" cy="933.2" r="1.45"/><circle cx="1142.3" cy="841.6" r="1.45"/><circle cx="1043.4" cy="904.6" r="1.45"/><circle cx="999.3" cy="912.0" r="1.45"/><circle cx="1140.8" cy="842.5" r="1.45"/><circle cx="1080.2" cy="900.6" r="1.45"/><circle cx="1064.2" cy="907.8" r="1.45"/><circle cx="1110.4" cy="845.4" r="1.45"/><circle cx="1022.6" cy="906.4" r="1.45"/><circle cx="1027.1" cy="917.0" r="1.45"/><circle cx="1026.4" cy="909.6" r="1.45"/><circle cx="1015.9" cy="936.9" r="1.45"/><circle cx="1041.9" cy="901.1" r="1.45"/><circle cx="1088.1" cy="893.5" r="1.45"/><circle cx="1063.2" cy="910.8" r="1.45"/><circle cx="1066.5" cy="888.5" r="1.45"/><circle cx="1057.4" cy="867.5" r="1.45"/><circle cx="1048.6" cy="882.1" r="1.45"/><circle cx="993.0" cy="945.2" r="1.45"/><circle cx="1014.2" cy="920.5" r="1.45"/><circle cx="1101.6" cy="866.2" r="1.45"/><circle cx="1038.9" cy="906.1" r="1.45"/><circle cx="1081.0" cy="892.1" r="1.45"/><circle cx="1005.5" cy="929.7" r="1.45"/><circle cx="1021.7" cy="906.2" r="1.45"/><circle cx="1107.9" cy="859.7" r="1.45"/><circle cx="1081.4" cy="890.6" r="1.45"/><circle cx="1128.5" cy="843.5" r="1.45"/><circle cx="1083.1" cy="876.1" r="1.45"/><circle cx="1072.1" cy="893.3" r="1.45"/><circle cx="1058.9" cy="893.6" r="1.45"/><circle cx="1072.8" cy="905.9" r="1.45"/><circle cx="1104.9" cy="879.7" r="1.45"/><circle cx="1130.1" cy="836.0" r="1.45"/><circle cx="1085.4" cy="897.5" r="1.45"/><circle cx="1111.2" cy="841.9" r="1.45"/><circle cx="1005.8" cy="924.9" r="1.45"/><circle cx="994.9" cy="925.0" r="1.45"/><circle cx="1002.2" cy="935.8" r="1.45"/><circle cx="1117.7" cy="870.6" r="1.45"/><circle cx="1016.1" cy="929.3" r="1.45"/><circle cx="1082.1" cy="858.6" r="1.45"/><circle cx="1133.3" cy="860.8" r="1.45"/><circle cx="1031.5" cy="930.6" r="1.45"/><circle cx="1049.4" cy="897.5" r="1.45"/><circle cx="1146.4" cy="844.5" r="1.45"/><circle cx="1011.7" cy="920.4" r="1.45"/><circle cx="1064.0" cy="880.0" r="1.45"/><circle cx="1014.7" cy="913.3" r="1.45"/><circle cx="1089.3" cy="848.7" r="1.45"/><circle cx="1072.4" cy="879.8" r="1.45"/><circle cx="988.2" cy="933.3" r="1.45"/><circle cx="1085.0" cy="875.2" r="1.45"/><circle cx="1006.0" cy="944.5" r="1.45"/><circle cx="1119.9" cy="872.4" r="1.45"/><circle cx="1000.1" cy="921.9" r="1.45"/><circle cx="998.5" cy="941.6" r="1.45"/><circle cx="1021.8" cy="898.9" r="1.45"/><circle cx="1063.3" cy="910.4" r="1.45"/><circle cx="1110.1" cy="847.4" r="1.45"/><circle cx="1019.1" cy="935.6" r="1.45"/><circle cx="1081.3" cy="887.5" r="1.45"/><circle cx="994.2" cy="918.3" r="1.45"/><circle cx="1093.0" cy="865.6" r="1.45"/><circle cx="1006.6" cy="942.6" r="1.45"/><circle cx="1093.4" cy="884.3" r="1.45"/><circle cx="1007.1" cy="939.6" r="1.45"/><circle cx="1004.4" cy="941.2" r="1.45"/><circle cx="1054.4" cy="886.4" r="1.45"/><circle cx="1084.1" cy="897.6" r="1.45"/><circle cx="1021.4" cy="899.2" r="1.45"/><circle cx="1063.3" cy="875.2" r="1.45"/><circle cx="998.9" cy="918.6" r="1.45"/><circle cx="991.0" cy="926.6" r="1.45"/><circle cx="1031.9" cy="900.2" r="1.45"/><circle cx="1101.3" cy="854.0" r="1.45"/><circle cx="1057.7" cy="875.7" r="1.45"/><circle cx="1030.6" cy="886.4" r="1.45"/><circle cx="1016.4" cy="897.5" r="1.45"/><circle cx="1102.7" cy="865.2" r="1.45"/><circle cx="1016.9" cy="918.7" r="1.45"/><circle cx="1126.3" cy="832.9" r="1.45"/><circle cx="1113.6" cy="852.6" r="1.45"/><circle cx="1072.9" cy="900.3" r="1.45"/><circle cx="1049.1" cy="898.8" r="1.45"/><circle cx="1105.6" cy="884.6" r="1.45"/><circle cx="1048.8" cy="915.3" r="1.45"/><circle cx="1100.6" cy="870.8" r="1.45"/><circle cx="1047.1" cy="891.8" r="1.45"/><circle cx="990.4" cy="924.3" r="1.45"/><circle cx="1003.0" cy="937.8" r="1.45"/><circle cx="1020.3" cy="901.7" r="1.45"/><circle cx="1007.0" cy="939.1" r="1.45"/><circle cx="1126.1" cy="854.1" r="1.45"/><circle cx="1026.0" cy="901.4" r="1.45"/><circle cx="1032.5" cy="907.5" r="1.45"/><circle cx="1011.4" cy="921.2" r="1.45"/><circle cx="1038.9" cy="927.0" r="1.45"/><circle cx="1139.5" cy="839.9" r="1.45"/><circle cx="1035.8" cy="928.8" r="1.45"/><circle cx="1032.7" cy="902.2" r="1.45"/><circle cx="986.4" cy="936.3" r="1.45"/><circle cx="1061.6" cy="890.2" r="1.45"/><circle cx="1019.2" cy="918.4" r="1.45"/><circle cx="985.3" cy="933.3" r="1.45"/><circle cx="1000.2" cy="927.1" r="1.45"/><circle cx="986.9" cy="923.3" r="1.45"/><circle cx="1029.1" cy="898.6" r="1.45"/><circle cx="1079.5" cy="879.7" r="1.45"/><circle cx="1107.7" cy="866.8" r="1.45"/><circle cx="1107.4" cy="877.9" r="1.45"/><circle cx="1044.2" cy="892.7" r="1.45"/><circle cx="1135.3" cy="829.6" r="1.45"/><circle cx="1103.4" cy="869.2" r="1.45"/><circle cx="1000.1" cy="942.5" r="1.45"/><circle cx="1128.5" cy="850.6" r="1.45"/><circle cx="1108.6" cy="873.7" r="1.45"/><circle cx="1010.0" cy="925.3" r="1.45"/><circle cx="1074.3" cy="899.3" r="1.45"/><circle cx="1119.3" cy="866.1" r="1.45"/><circle cx="1088.0" cy="893.0" r="1.45"/><circle cx="1098.3" cy="875.3" r="1.45"/><circle cx="1013.8" cy="900.5" r="1.45"/><circle cx="1006.0" cy="921.4" r="1.45"/><circle cx="1010.2" cy="937.2" r="1.45"/><circle cx="1077.7" cy="886.1" r="1.45"/><circle cx="1089.3" cy="880.9" r="1.45"/><circle cx="1051.7" cy="870.4" r="1.45"/><circle cx="1116.7" cy="864.5" r="1.45"/><circle cx="1066.8" cy="888.5" r="1.45"/><circle cx="1080.1" cy="856.0" r="1.45"/><circle cx="1096.8" cy="855.0" r="1.45"/><circle cx="995.6" cy="925.4" r="1.45"/><circle cx="1094.6" cy="854.1" r="1.45"/><circle cx="1113.0" cy="878.3" r="1.45"/><circle cx="1061.7" cy="883.8" r="1.45"/><circle cx="1066.7" cy="896.4" r="1.45"/><circle cx="1109.4" cy="863.7" r="1.45"/><circle cx="1077.7" cy="857.9" r="1.45"/><circle cx="1006.2" cy="916.8" r="1.45"/><circle cx="1099.0" cy="856.1" r="1.45"/><circle cx="1064.2" cy="862.8" r="1.45"/><circle cx="993.6" cy="927.0" r="1.45"/><circle cx="1096.6" cy="876.4" r="1.45"/><circle cx="1087.9" cy="862.2" r="1.45"/><circle cx="1067.2" cy="884.5" r="1.45"/><circle cx="1051.0" cy="877.0" r="1.45"/><circle cx="1121.2" cy="838.9" r="1.45"/><circle cx="1146.3" cy="848.3" r="1.45"/><circle cx="990.1" cy="936.3" r="1.45"/></g><g fill="#606163"><circle cx="1103.8" cy="1048.1" r="1.45"/><circle cx="1057.7" cy="993.9" r="1.45"/><circle cx="1007.5" cy="997.9" r="1.45"/><circle cx="1013.9" cy="986.0" r="1.45"/><circle cx="1004.0" cy="978.3" r="1.45"/><circle cx="1137.4" cy="1034.7" r="1.45"/><circle cx="1111.5" cy="1033.5" r="1.45"/><circle cx="1119.1" cy="1044.6" r="1.45"/><circle cx="1011.6" cy="998.4" r="1.45"/><circle cx="1068.4" cy="987.3" r="1.45"/><circle cx="982.7" cy="966.1" r="1.45"/><circle cx="1057.2" cy="995.3" r="1.45"/><circle cx="1006.7" cy="972.8" r="1.45"/><circle cx="1025.5" cy="1004.3" r="1.45"/><circle cx="979.2" cy="972.0" r="1.45"/><circle cx="1120.7" cy="1023.0" r="1.45"/><circle cx="1125.4" cy="1047.7" r="1.45"/><circle cx="1127.5" cy="1034.0" r="1.45"/><circle cx="1042.9" cy="992.5" r="1.45"/><circle cx="1138.7" cy="1050.0" r="1.45"/><circle cx="1040.4" cy="992.9" r="1.45"/><circle cx="1033.8" cy="972.6" r="1.45"/><circle cx="993.1" cy="983.8" r="1.45"/><circle cx="1019.1" cy="1004.9" r="1.45"/><circle cx="1025.6" cy="978.4" r="1.45"/><circle cx="1069.0" cy="995.8" r="1.45"/><circle cx="1032.0" cy="1013.9" r="1.45"/><circle cx="1117.0" cy="1047.6" r="1.45"/><circle cx="1073.6" cy="1033.3" r="1.45"/><circle cx="1130.0" cy="1044.4" r="1.45"/><circle cx="1104.0" cy="1009.0" r="1.45"/><circle cx="1098.6" cy="1024.3" r="1.45"/><circle cx="1098.3" cy="1032.7" r="1.45"/><circle cx="1035.6" cy="973.4" r="1.45"/><circle cx="1133.7" cy="1031.9" r="1.45"/><circle cx="1059.8" cy="998.6" r="1.45"/><circle cx="1024.6" cy="999.0" r="1.45"/><circle cx="1139.3" cy="1040.2" r="1.45"/><circle cx="1089.5" cy="1012.4" r="1.45"/><circle cx="1072.2" cy="1007.6" r="1.45"/><circle cx="1013.9" cy="969.1" r="1.45"/><circle cx="1007.9" cy="996.4" r="1.45"/><circle cx="1066.2" cy="995.8" r="1.45"/><circle cx="1118.0" cy="1054.2" r="1.45"/><circle cx="1060.4" cy="988.9" r="1.45"/><circle cx="1019.3" cy="968.6" r="1.45"/><circle cx="1043.9" cy="978.8" r="1.45"/><circle cx="1024.1" cy="977.4" r="1.45"/><circle cx="1064.2" cy="1027.7" r="1.45"/><circle cx="1102.0" cy="1024.5" r="1.45"/><circle cx="1046.9" cy="1000.9" r="1.45"/><circle cx="1044.7" cy="990.8" r="1.45"/><circle cx="994.9" cy="965.2" r="1.45"/><circle cx="1139.8" cy="1036.0" r="1.45"/><circle cx="1058.9" cy="1012.3" r="1.45"/><circle cx="1122.7" cy="1028.2" r="1.45"/><circle cx="1029.4" cy="979.4" r="1.45"/><circle cx="1046.2" cy="996.7" r="1.45"/><circle cx="1128.1" cy="1053.2" r="1.45"/><circle cx="1127.2" cy="1023.5" r="1.45"/><circle cx="984.4" cy="973.9" r="1.45"/><circle cx="1123.9" cy="1038.7" r="1.45"/><circle cx="1084.8" cy="994.9" r="1.45"/><circle cx="1035.4" cy="1014.4" r="1.45"/><circle cx="1106.6" cy="1044.9" r="1.45"/><circle cx="1138.9" cy="1039.5" r="1.45"/><circle cx="1004.4" cy="965.0" r="1.45"/><circle cx="1060.8" cy="1015.9" r="1.45"/><circle cx="1127.7" cy="1049.0" r="1.45"/><circle cx="1079.1" cy="1029.0" r="1.45"/><circle cx="1053.2" cy="1005.5" r="1.45"/><circle cx="984.5" cy="976.4" r="1.45"/><circle cx="1011.4" cy="999.3" r="1.45"/><circle cx="1087.8" cy="1011.6" r="1.45"/><circle cx="1006.0" cy="969.2" r="1.45"/><circle cx="1078.7" cy="1025.7" r="1.45"/><circle cx="1006.1" cy="962.8" r="1.45"/><circle cx="1063.2" cy="1012.2" r="1.45"/><circle cx="1048.8" cy="987.3" r="1.45"/><circle cx="1086.7" cy="996.6" r="1.45"/><circle cx="1030.4" cy="989.3" r="1.45"/><circle cx="1131.6" cy="1048.3" r="1.45"/><circle cx="1122.0" cy="1037.8" r="1.45"/><circle cx="1023.5" cy="976.7" r="1.45"/><circle cx="1131.1" cy="1050.0" r="1.45"/><circle cx="1039.6" cy="973.9" r="1.45"/><circle cx="1057.2" cy="1013.7" r="1.45"/><circle cx="1053.2" cy="991.1" r="1.45"/><circle cx="1079.3" cy="1036.4" r="1.45"/><circle cx="1026.0" cy="968.9" r="1.45"/><circle cx="1036.9" cy="990.8" r="1.45"/><circle cx="1095.6" cy="1010.9" r="1.45"/><circle cx="1103.9" cy="1039.2" r="1.45"/><circle cx="1067.7" cy="995.9" r="1.45"/><circle cx="1137.7" cy="1040.8" r="1.45"/><circle cx="1116.0" cy="1024.7" r="1.45"/><circle cx="1012.5" cy="992.9" r="1.45"/><circle cx="1020.2" cy="1006.4" r="1.45"/><circle cx="1066.7" cy="994.4" r="1.45"/><circle cx="1018.7" cy="981.5" r="1.45"/><circle cx="1078.5" cy="1037.2" r="1.45"/><circle cx="1006.8" cy="974.8" r="1.45"/><circle cx="1007.5" cy="999.2" r="1.45"/><circle cx="1011.4" cy="964.1" r="1.45"/><circle cx="993.0" cy="968.1" r="1.45"/><circle cx="1118.3" cy="1050.5" r="1.45"/><circle cx="1088.7" cy="1043.5" r="1.45"/><circle cx="1131.6" cy="1037.8" r="1.45"/><circle cx="1004.1" cy="995.2" r="1.45"/><circle cx="1108.3" cy="1011.0" r="1.45"/><circle cx="1089.3" cy="1016.0" r="1.45"/><circle cx="1044.4" cy="990.3" r="1.45"/><circle cx="1016.8" cy="964.3" r="1.45"/><circle cx="1028.9" cy="983.7" r="1.45"/><circle cx="1138.0" cy="1034.7" r="1.45"/><circle cx="1138.2" cy="1037.7" r="1.45"/><circle cx="1032.1" cy="1007.3" r="1.45"/><circle cx="1113.0" cy="1031.3" r="1.45"/><circle cx="990.1" cy="969.4" r="1.45"/><circle cx="1032.7" cy="1012.4" r="1.45"/><circle cx="1014.8" cy="977.4" r="1.45"/><circle cx="1130.6" cy="1026.2" r="1.45"/><circle cx="1040.7" cy="1011.7" r="1.45"/><circle cx="1111.2" cy="1013.3" r="1.45"/><circle cx="993.2" cy="957.9" r="1.45"/><circle cx="1130.8" cy="1034.8" r="1.45"/><circle cx="1092.9" cy="1041.1" r="1.45"/><circle cx="1040.0" cy="985.4" r="1.45"/><circle cx="1131.8" cy="1047.5" r="1.45"/><circle cx="1019.5" cy="995.1" r="1.45"/><circle cx="1036.3" cy="983.8" r="1.45"/><circle cx="979.5" cy="972.3" r="1.45"/><circle cx="1124.9" cy="1044.8" r="1.45"/><circle cx="1137.5" cy="1030.9" r="1.45"/><circle cx="1019.4" cy="984.3" r="1.45"/><circle cx="1127.2" cy="1056.1" r="1.45"/><circle cx="1048.0" cy="988.2" r="1.45"/><circle cx="1050.1" cy="1001.0" r="1.45"/><circle cx="1133.1" cy="1033.6" r="1.45"/><circle cx="1104.8" cy="1039.6" r="1.45"/><circle cx="1107.5" cy="1042.1" r="1.45"/><circle cx="1081.4" cy="1009.2" r="1.45"/><circle cx="1035.1" cy="987.1" r="1.45"/><circle cx="1112.9" cy="1016.1" r="1.45"/><circle cx="1008.9" cy="990.4" r="1.45"/><circle cx="1028.8" cy="971.3" r="1.45"/><circle cx="986.7" cy="970.1" r="1.45"/><circle cx="1024.3" cy="1010.4" r="1.45"/><circle cx="1114.2" cy="1052.6" r="1.45"/><circle cx="1031.4" cy="973.2" r="1.45"/><circle cx="997.3" cy="973.9" r="1.45"/><circle cx="1095.1" cy="1022.3" r="1.45"/><circle cx="1020.5" cy="982.4" r="1.45"/><circle cx="1076.6" cy="1023.5" r="1.45"/><circle cx="1094.0" cy="1039.3" r="1.45"/><circle cx="1094.3" cy="1006.5" r="1.45"/><circle cx="1118.2" cy="1028.6" r="1.45"/><circle cx="1074.1" cy="1007.6" r="1.45"/><circle cx="1104.1" cy="1016.0" r="1.45"/><circle cx="1025.6" cy="977.5" r="1.45"/><circle cx="1000.1" cy="990.4" r="1.45"/><circle cx="1076.8" cy="1006.7" r="1.45"/><circle cx="1034.8" cy="1017.3" r="1.45"/><circle cx="1067.6" cy="997.1" r="1.45"/><circle cx="1107.2" cy="1037.2" r="1.45"/><circle cx="1143.5" cy="1037.8" r="1.45"/><circle cx="1050.6" cy="1017.4" r="1.45"/><circle cx="1108.2" cy="1047.7" r="1.45"/><circle cx="991.1" cy="964.1" r="1.45"/><circle cx="1005.5" cy="966.7" r="1.45"/><circle cx="1134.7" cy="1047.8" r="1.45"/><circle cx="1130.7" cy="1038.8" r="1.45"/><circle cx="1119.6" cy="1035.5" r="1.45"/><circle cx="1018.1" cy="997.0" r="1.45"/><circle cx="1136.8" cy="1033.3" r="1.45"/><circle cx="1073.8" cy="1019.5" r="1.45"/><circle cx="1018.7" cy="979.5" r="1.45"/><circle cx="1009.0" cy="968.7" r="1.45"/><circle cx="1020.5" cy="990.3" r="1.45"/><circle cx="1090.7" cy="1008.4" r="1.45"/><circle cx="985.9" cy="962.8" r="1.45"/><circle cx="1095.2" cy="1010.1" r="1.45"/><circle cx="1036.9" cy="980.8" r="1.45"/><circle cx="1106.8" cy="1032.8" r="1.45"/><circle cx="997.5" cy="960.6" r="1.45"/><circle cx="1043.5" cy="1000.3" r="1.45"/><circle cx="1091.0" cy="1003.0" r="1.45"/><circle cx="1004.7" cy="985.5" r="1.45"/><circle cx="1051.1" cy="991.3" r="1.45"/><circle cx="1022.1" cy="1007.7" r="1.45"/><circle cx="1030.1" cy="994.0" r="1.45"/><circle cx="1040.1" cy="992.2" r="1.45"/><circle cx="1110.8" cy="1051.7" r="1.45"/><circle cx="1045.4" cy="984.4" r="1.45"/><circle cx="1102.4" cy="1015.3" r="1.45"/><circle cx="978.0" cy="976.0" r="1.45"/><circle cx="1042.5" cy="1013.1" r="1.45"/><circle cx="1038.6" cy="1014.0" r="1.45"/><circle cx="1061.6" cy="990.7" r="1.45"/><circle cx="983.7" cy="968.5" r="1.45"/><circle cx="1075.2" cy="1033.9" r="1.45"/><circle cx="994.3" cy="976.7" r="1.45"/><circle cx="1040.5" cy="996.6" r="1.45"/><circle cx="1008.5" cy="971.4" r="1.45"/><circle cx="1055.7" cy="1025.3" r="1.45"/><circle cx="999.3" cy="974.6" r="1.45"/><circle cx="1101.3" cy="1047.1" r="1.45"/><circle cx="1019.5" cy="970.0" r="1.45"/><circle cx="1124.5" cy="1055.8" r="1.45"/><circle cx="1067.3" cy="988.2" r="1.45"/><circle cx="1129.9" cy="1038.9" r="1.45"/><circle cx="1123.1" cy="1043.5" r="1.45"/><circle cx="1117.9" cy="1022.9" r="1.45"/><circle cx="1110.9" cy="1021.2" r="1.45"/><circle cx="1039.0" cy="1012.5" r="1.45"/><circle cx="1118.2" cy="1024.0" r="1.45"/><circle cx="1018.2" cy="980.5" r="1.45"/><circle cx="1066.2" cy="1003.9" r="1.45"/><circle cx="1005.3" cy="968.7" r="1.45"/><circle cx="1089.2" cy="1039.5" r="1.45"/><circle cx="987.7" cy="971.0" r="1.45"/><circle cx="1109.9" cy="1012.3" r="1.45"/><circle cx="1120.6" cy="1022.9" r="1.45"/><circle cx="1075.7" cy="1017.1" r="1.45"/><circle cx="1084.9" cy="1010.1" r="1.45"/><circle cx="1046.7" cy="1003.6" r="1.45"/><circle cx="1046.1" cy="1007.0" r="1.45"/><circle cx="1053.8" cy="1000.2" r="1.45"/><circle cx="984.2" cy="970.8" r="1.45"/><circle cx="1064.7" cy="995.8" r="1.45"/><circle cx="1097.7" cy="1038.1" r="1.45"/><circle cx="1060.9" cy="991.1" r="1.45"/><circle cx="1064.7" cy="989.5" r="1.45"/><circle cx="1003.4" cy="974.5" r="1.45"/><circle cx="997.3" cy="971.9" r="1.45"/><circle cx="1071.9" cy="989.9" r="1.45"/><circle cx="1090.7" cy="1002.5" r="1.45"/><circle cx="1092.8" cy="1035.9" r="1.45"/><circle cx="1071.8" cy="990.5" r="1.45"/><circle cx="1064.1" cy="1002.6" r="1.45"/><circle cx="1137.1" cy="1034.6" r="1.45"/><circle cx="1109.6" cy="1051.3" r="1.45"/><circle cx="1091.9" cy="1037.1" r="1.45"/><circle cx="1004.5" cy="997.5" r="1.45"/><circle cx="1050.5" cy="1024.2" r="1.45"/><circle cx="1131.5" cy="1031.9" r="1.45"/><circle cx="1099.2" cy="1044.9" r="1.45"/><circle cx="994.4" cy="967.4" r="1.45"/><circle cx="1107.5" cy="1016.3" r="1.45"/><circle cx="1127.0" cy="1033.1" r="1.45"/><circle cx="1116.8" cy="1021.5" r="1.45"/><circle cx="1052.8" cy="1023.6" r="1.45"/><circle cx="1019.0" cy="975.3" r="1.45"/><circle cx="1065.6" cy="1000.4" r="1.45"/><circle cx="992.0" cy="961.0" r="1.45"/><circle cx="1000.5" cy="992.8" r="1.45"/><circle cx="1081.9" cy="1036.2" r="1.45"/><circle cx="1004.0" cy="988.8" r="1.45"/><circle cx="999.7" cy="976.3" r="1.45"/><circle cx="1085.3" cy="1012.9" r="1.45"/></g><path d="M641.8,959.5 C740,945 880,933 985,946 C1030,952 1060,970 1080,1000 C1097,1028 1112,1058 1138.7,1072.8" fill="none" stroke="#231f20" stroke-width="18.5"/><path d="M641.8,959.5 C740,945 880,933 985,946 C1030,952 1060,970 1080,1000 C1097,1028 1112,1058 1138.7,1072.8" fill="none" stroke="#fdfaee" stroke-width="16"/><g clip-path="url(#p2top)"><path d="M1246.3,795.0 L1331.1,795.0 L1236.5,1092.4 L1159.3,1068.5Z" fill="url(#pumpg)" stroke="#231f20" stroke-width="1.3"/></g><path d="M1159.3,1068.5 L1236.5,1092.4 L1230.0,1114.1 L1151.7,1089.1Z" fill="url(#capg)"/><path d="M1139.8,1066.3 L1158.5,1068.5 L1152.5,1086.5 L1137.6,1080.4Z" fill="#1b1b1b"/><g fill="#606163"><circle cx="1121.2" cy="1389.1" r="1.45"/><circle cx="1068.6" cy="1374.8" r="1.45"/><circle cx="994.3" cy="1331.8" r="1.45"/><circle cx="1085.9" cy="1362.5" r="1.45"/><circle cx="1114.1" cy="1374.1" r="1.45"/><circle cx="1139.6" cy="1399.8" r="1.45"/><circle cx="1036.5" cy="1350.9" r="1.45"/><circle cx="1060.8" cy="1338.2" r="1.45"/><circle cx="1109.7" cy="1362.2" r="1.45"/><circle cx="1117.7" cy="1376.0" r="1.45"/><circle cx="1076.2" cy="1383.1" r="1.45"/><circle cx="1073.8" cy="1367.8" r="1.45"/><circle cx="1043.3" cy="1321.7" r="1.45"/><circle cx="994.7" cy="1305.2" r="1.45"/><circle cx="1083.0" cy="1362.5" r="1.45"/><circle cx="1057.7" cy="1369.4" r="1.45"/><circle cx="1009.8" cy="1314.5" r="1.45"/><circle cx="1096.5" cy="1352.3" r="1.45"/><circle cx="987.1" cy="1307.2" r="1.45"/><circle cx="1003.8" cy="1315.8" r="1.45"/><circle cx="1018.8" cy="1332.5" r="1.45"/><circle cx="1083.2" cy="1352.3" r="1.45"/><circle cx="1083.4" cy="1364.7" r="1.45"/><circle cx="999.6" cy="1333.6" r="1.45"/><circle cx="1029.3" cy="1321.0" r="1.45"/><circle cx="998.1" cy="1322.0" r="1.45"/><circle cx="1117.6" cy="1395.0" r="1.45"/><circle cx="1052.7" cy="1337.7" r="1.45"/><circle cx="985.0" cy="1314.1" r="1.45"/><circle cx="1076.2" cy="1354.9" r="1.45"/><circle cx="1087.4" cy="1365.6" r="1.45"/><circle cx="1129.0" cy="1398.9" r="1.45"/><circle cx="1017.0" cy="1344.5" r="1.45"/><circle cx="991.5" cy="1314.6" r="1.45"/><circle cx="1053.8" cy="1337.2" r="1.45"/><circle cx="990.5" cy="1321.7" r="1.45"/><circle cx="986.3" cy="1312.2" r="1.45"/><circle cx="1137.5" cy="1385.4" r="1.45"/><circle cx="1014.5" cy="1330.9" r="1.45"/><circle cx="1061.8" cy="1360.0" r="1.45"/><circle cx="1118.0" cy="1373.1" r="1.45"/><circle cx="1037.2" cy="1331.1" r="1.45"/><circle cx="987.5" cy="1323.3" r="1.45"/><circle cx="1104.3" cy="1386.1" r="1.45"/><circle cx="981.9" cy="1317.9" r="1.45"/><circle cx="1102.6" cy="1375.2" r="1.45"/><circle cx="1102.3" cy="1374.5" r="1.45"/><circle cx="1027.2" cy="1318.3" r="1.45"/><circle cx="1029.4" cy="1316.8" r="1.45"/><circle cx="1033.0" cy="1348.1" r="1.45"/><circle cx="1087.8" cy="1383.0" r="1.45"/><circle cx="1101.0" cy="1365.9" r="1.45"/><circle cx="1073.2" cy="1357.1" r="1.45"/><circle cx="1108.4" cy="1380.9" r="1.45"/><circle cx="1024.1" cy="1338.0" r="1.45"/><circle cx="1140.1" cy="1389.6" r="1.45"/><circle cx="1130.3" cy="1375.7" r="1.45"/><circle cx="1030.5" cy="1325.0" r="1.45"/><circle cx="1094.0" cy="1390.0" r="1.45"/><circle cx="1105.2" cy="1371.1" r="1.45"/><circle cx="1125.7" cy="1383.9" r="1.45"/><circle cx="1015.5" cy="1343.7" r="1.45"/><circle cx="1080.3" cy="1372.6" r="1.45"/><circle cx="1080.5" cy="1385.0" r="1.45"/><circle cx="1052.0" cy="1363.6" r="1.45"/><circle cx="1088.0" cy="1383.6" r="1.45"/><circle cx="1049.2" cy="1356.7" r="1.45"/><circle cx="1078.3" cy="1354.1" r="1.45"/><circle cx="1016.2" cy="1332.5" r="1.45"/><circle cx="991.6" cy="1326.9" r="1.45"/><circle cx="1014.9" cy="1310.1" r="1.45"/><circle cx="995.6" cy="1330.4" r="1.45"/><circle cx="1045.9" cy="1328.8" r="1.45"/><circle cx="995.3" cy="1302.4" r="1.45"/><circle cx="1091.3" cy="1376.0" r="1.45"/><circle cx="1090.1" cy="1379.7" r="1.45"/><circle cx="994.1" cy="1318.0" r="1.45"/><circle cx="1036.0" cy="1353.0" r="1.45"/><circle cx="1107.4" cy="1394.0" r="1.45"/><circle cx="990.4" cy="1324.6" r="1.45"/><circle cx="1122.4" cy="1402.3" r="1.45"/><circle cx="1006.1" cy="1312.0" r="1.45"/><circle cx="1009.4" cy="1308.0" r="1.45"/><circle cx="1113.3" cy="1394.0" r="1.45"/><circle cx="1078.4" cy="1377.4" r="1.45"/><circle cx="1088.2" cy="1359.1" r="1.45"/><circle cx="1006.4" cy="1308.8" r="1.45"/><circle cx="1109.0" cy="1368.4" r="1.45"/><circle cx="1036.5" cy="1335.9" r="1.45"/><circle cx="991.3" cy="1306.6" r="1.45"/><circle cx="1025.5" cy="1342.0" r="1.45"/><circle cx="1046.2" cy="1336.7" r="1.45"/><circle cx="1136.3" cy="1395.9" r="1.45"/><circle cx="1116.8" cy="1389.0" r="1.45"/><circle cx="991.0" cy="1310.8" r="1.45"/><circle cx="1048.2" cy="1358.3" r="1.45"/><circle cx="1035.6" cy="1347.7" r="1.45"/><circle cx="1075.0" cy="1348.0" r="1.45"/><circle cx="1126.6" cy="1375.8" r="1.45"/><circle cx="1119.0" cy="1373.6" r="1.45"/><circle cx="988.7" cy="1303.9" r="1.45"/><circle cx="1096.4" cy="1392.3" r="1.45"/><circle cx="985.8" cy="1310.2" r="1.45"/><circle cx="1056.3" cy="1364.1" r="1.45"/><circle cx="1014.1" cy="1326.3" r="1.45"/><circle cx="1033.3" cy="1351.9" r="1.45"/><circle cx="1018.1" cy="1347.0" r="1.45"/><circle cx="1034.7" cy="1326.2" r="1.45"/><circle cx="1094.8" cy="1372.2" r="1.45"/><circle cx="1000.3" cy="1323.3" r="1.45"/><circle cx="993.7" cy="1324.2" r="1.45"/><circle cx="1089.2" cy="1381.3" r="1.45"/><circle cx="1086.3" cy="1361.0" r="1.45"/><circle cx="1050.0" cy="1342.1" r="1.45"/><circle cx="1130.8" cy="1378.7" r="1.45"/><circle cx="1131.4" cy="1376.9" r="1.45"/><circle cx="1021.3" cy="1321.4" r="1.45"/><circle cx="1126.5" cy="1390.2" r="1.45"/><circle cx="1037.2" cy="1356.7" r="1.45"/><circle cx="1022.3" cy="1329.6" r="1.45"/><circle cx="1063.4" cy="1366.1" r="1.45"/><circle cx="1100.7" cy="1381.5" r="1.45"/><circle cx="1043.0" cy="1335.3" r="1.45"/><circle cx="1004.1" cy="1333.2" r="1.45"/><circle cx="1084.4" cy="1376.9" r="1.45"/><circle cx="1012.6" cy="1323.4" r="1.45"/><circle cx="1105.1" cy="1381.2" r="1.45"/><circle cx="1005.4" cy="1320.2" r="1.45"/><circle cx="1127.8" cy="1382.0" r="1.45"/><circle cx="1018.3" cy="1321.3" r="1.45"/><circle cx="1089.2" cy="1383.6" r="1.45"/><circle cx="1014.6" cy="1314.3" r="1.45"/><circle cx="1026.9" cy="1326.7" r="1.45"/><circle cx="1073.7" cy="1344.7" r="1.45"/><circle cx="1042.3" cy="1329.0" r="1.45"/><circle cx="1135.3" cy="1401.8" r="1.45"/><circle cx="994.4" cy="1330.7" r="1.45"/><circle cx="1002.6" cy="1316.1" r="1.45"/><circle cx="1135.9" cy="1403.9" r="1.45"/><circle cx="1101.3" cy="1373.2" r="1.45"/><circle cx="1013.5" cy="1331.5" r="1.45"/><circle cx="1006.0" cy="1312.0" r="1.45"/><circle cx="1054.9" cy="1328.7" r="1.45"/><circle cx="1042.0" cy="1355.4" r="1.45"/><circle cx="1093.9" cy="1371.7" r="1.45"/><circle cx="1085.0" cy="1365.0" r="1.45"/><circle cx="1005.7" cy="1325.4" r="1.45"/><circle cx="1043.9" cy="1354.3" r="1.45"/><circle cx="1128.5" cy="1389.1" r="1.45"/><circle cx="1070.3" cy="1369.7" r="1.45"/><circle cx="1056.4" cy="1338.2" r="1.45"/><circle cx="1091.6" cy="1386.3" r="1.45"/><circle cx="1103.1" cy="1384.9" r="1.45"/><circle cx="1116.1" cy="1390.7" r="1.45"/><circle cx="1086.6" cy="1365.6" r="1.45"/><circle cx="1031.8" cy="1342.0" r="1.45"/><circle cx="1001.5" cy="1316.7" r="1.45"/><circle cx="1104.2" cy="1386.0" r="1.45"/><circle cx="1088.6" cy="1357.6" r="1.45"/><circle cx="1052.4" cy="1346.2" r="1.45"/><circle cx="1084.3" cy="1362.3" r="1.45"/><circle cx="1083.0" cy="1384.2" r="1.45"/><circle cx="1011.2" cy="1330.7" r="1.45"/><circle cx="1109.1" cy="1375.9" r="1.45"/><circle cx="1052.5" cy="1370.1" r="1.45"/><circle cx="990.4" cy="1314.4" r="1.45"/><circle cx="1005.8" cy="1332.1" r="1.45"/><circle cx="1132.4" cy="1394.2" r="1.45"/><circle cx="999.8" cy="1320.9" r="1.45"/><circle cx="1065.7" cy="1365.7" r="1.45"/><circle cx="1062.7" cy="1360.4" r="1.45"/><circle cx="1114.8" cy="1384.4" r="1.45"/><circle cx="1040.7" cy="1361.9" r="1.45"/><circle cx="1014.9" cy="1334.1" r="1.45"/><circle cx="1041.6" cy="1353.9" r="1.45"/><circle cx="997.0" cy="1333.5" r="1.45"/><circle cx="1049.2" cy="1326.8" r="1.45"/><circle cx="1029.9" cy="1331.3" r="1.45"/><circle cx="988.1" cy="1309.4" r="1.45"/><circle cx="1047.2" cy="1354.2" r="1.45"/><circle cx="1044.7" cy="1333.5" r="1.45"/><circle cx="1016.1" cy="1337.2" r="1.45"/><circle cx="1132.2" cy="1394.3" r="1.45"/><circle cx="1014.3" cy="1338.4" r="1.45"/><circle cx="1052.1" cy="1335.1" r="1.45"/><circle cx="1001.2" cy="1328.8" r="1.45"/><circle cx="1109.9" cy="1385.9" r="1.45"/><circle cx="1057.4" cy="1353.9" r="1.45"/><circle cx="1012.6" cy="1344.0" r="1.45"/><circle cx="1037.8" cy="1346.1" r="1.45"/><circle cx="1108.5" cy="1391.8" r="1.45"/><circle cx="1062.5" cy="1344.5" r="1.45"/><circle cx="1078.4" cy="1345.8" r="1.45"/><circle cx="1118.2" cy="1380.2" r="1.45"/><circle cx="1122.1" cy="1379.4" r="1.45"/><circle cx="1048.8" cy="1335.2" r="1.45"/><circle cx="1058.0" cy="1337.1" r="1.45"/><circle cx="982.8" cy="1314.9" r="1.45"/><circle cx="1033.7" cy="1327.0" r="1.45"/><circle cx="1032.8" cy="1336.2" r="1.45"/></g><path d="M452.0,1223.3 L462.0,1270 M462.0,1223.3 L452.0,1270 M455.6,1223.3 L465.6,1270 M465.6,1223.3 L455.6,1270 M452.0,1285.4 L462.0,1326.3 M462.0,1285.4 L452.0,1326.3 M455.6,1285.4 L465.6,1326.3 M465.6,1285.4 L455.6,1326.3 M464.4,1223.3 L474.4,1270 M474.4,1223.3 L464.4,1270 M468.0,1223.3 L478.0,1270 M478.0,1223.3 L468.0,1270 M464.4,1285.4 L474.4,1326.3 M474.4,1285.4 L464.4,1326.3 M468.0,1285.4 L478.0,1326.3 M478.0,1285.4 L468.0,1326.3 M476.8,1223.3 L486.8,1270 M486.8,1223.3 L476.8,1270 M480.4,1223.3 L490.4,1270 M490.4,1223.3 L480.4,1270 M476.8,1285.4 L486.8,1326.3 M486.8,1285.4 L476.8,1326.3 M480.4,1285.4 L490.4,1326.3 M490.4,1285.4 L480.4,1326.3 M489.2,1223.3 L499.2,1270 M499.2,1223.3 L489.2,1270 M492.8,1223.3 L502.8,1270 M502.8,1223.3 L492.8,1270 M489.2,1285.4 L499.2,1326.3 M499.2,1285.4 L489.2,1326.3 M492.8,1285.4 L502.8,1326.3 M502.8,1285.4 L492.8,1326.3 M501.6,1223.3 L511.6,1270 M511.6,1223.3 L501.6,1270 M505.2,1223.3 L515.2,1270 M515.2,1223.3 L505.2,1270 M501.6,1285.4 L511.6,1326.3 M511.6,1285.4 L501.6,1326.3 M505.2,1285.4 L515.2,1326.3 M515.2,1285.4 L505.2,1326.3 M514.0,1223.3 L524.0,1270 M524.0,1223.3 L514.0,1270 M517.6,1223.3 L527.6,1270 M527.6,1223.3 L517.6,1270 M514.0,1285.4 L524.0,1326.3 M524.0,1285.4 L514.0,1326.3 M517.6,1285.4 L527.6,1326.3 M527.6,1285.4 L517.6,1326.3 M526.4,1223.3 L536.4,1270 M536.4,1223.3 L526.4,1270 M530.0,1223.3 L540.0,1270 M540.0,1223.3 L530.0,1270 M526.4,1285.4 L536.4,1326.3 M536.4,1285.4 L526.4,1326.3 M530.0,1285.4 L540.0,1326.3 M540.0,1285.4 L530.0,1326.3 M538.8,1223.3 L548.8,1270 M548.8,1223.3 L538.8,1270 M542.4,1223.3 L552.4,1270 M552.4,1223.3 L542.4,1270 M538.8,1285.4 L548.8,1326.3 M548.8,1285.4 L538.8,1326.3 M542.4,1285.4 L552.4,1326.3 M552.4,1285.4 L542.4,1326.3 M551.2,1223.3 L561.2,1270 M561.2,1223.3 L551.2,1270 M554.8,1223.3 L564.8,1270 M564.8,1223.3 L554.8,1270 M551.2,1285.4 L561.2,1326.3 M561.2,1285.4 L551.2,1326.3 M554.8,1285.4 L564.8,1326.3 M564.8,1285.4 L554.8,1326.3 M563.6,1223.3 L573.6,1270 M573.6,1223.3 L563.6,1270 M567.2,1223.3 L577.2,1270 M577.2,1223.3 L567.2,1270 M563.6,1285.4 L573.6,1326.3 M573.6,1285.4 L563.6,1326.3 M567.2,1285.4 L577.2,1326.3 M577.2,1285.4 L567.2,1326.3 M576.0,1223.3 L586.0,1270 M586.0,1223.3 L576.0,1270 M579.6,1223.3 L589.6,1270 M589.6,1223.3 L579.6,1270 M576.0,1285.4 L586.0,1326.3 M586.0,1285.4 L576.0,1326.3 M579.6,1285.4 L589.6,1326.3 M589.6,1285.4 L579.6,1326.3 M588.4,1223.3 L598.4,1270 M598.4,1223.3 L588.4,1270 M592.0,1223.3 L602.0,1270 M602.0,1223.3 L592.0,1270 M588.4,1285.4 L598.4,1326.3 M598.4,1285.4 L588.4,1326.3 M592.0,1285.4 L602.0,1326.3 M602.0,1285.4 L592.0,1326.3 M600.8,1223.3 L610.8,1270 M610.8,1223.3 L600.8,1270 M604.4,1223.3 L614.4,1270 M614.4,1223.3 L604.4,1270 M600.8,1285.4 L610.8,1326.3 M610.8,1285.4 L600.8,1326.3 M604.4,1285.4 L614.4,1326.3 M614.4,1285.4 L604.4,1326.3 M613.2,1223.3 L623.2,1270 M623.2,1223.3 L613.2,1270 M616.8,1223.3 L626.8,1270 M626.8,1223.3 L616.8,1270 M613.2,1285.4 L623.2,1326.3 M623.2,1285.4 L613.2,1326.3 M616.8,1285.4 L626.8,1326.3 M626.8,1285.4 L616.8,1326.3 M625.6,1223.3 L635.6,1270 M635.6,1223.3 L625.6,1270 M629.2,1223.3 L639.2,1270 M639.2,1223.3 L629.2,1270 M625.6,1285.4 L635.6,1326.3 M635.6,1285.4 L625.6,1326.3 M629.2,1285.4 L639.2,1326.3 M639.2,1285.4 L629.2,1326.3 M638.0,1223.3 L648.0,1270 M648.0,1223.3 L638.0,1270 M641.6,1223.3 L651.6,1270 M651.6,1223.3 L641.6,1270 M638.0,1285.4 L648.0,1326.3 M648.0,1285.4 L638.0,1326.3 M641.6,1285.4 L651.6,1326.3 M651.6,1285.4 L641.6,1326.3 M650.4,1223.3 L660.4,1270 M660.4,1223.3 L650.4,1270 M654.0,1223.3 L664.0,1270 M664.0,1223.3 L654.0,1270 M650.4,1285.4 L660.4,1326.3 M660.4,1285.4 L650.4,1326.3 M654.0,1285.4 L664.0,1326.3 M664.0,1285.4 L654.0,1326.3 M662.8,1223.3 L672.8,1270 M672.8,1223.3 L662.8,1270 M666.4,1223.3 L676.4,1270 M676.4,1223.3 L666.4,1270 M662.8,1285.4 L672.8,1326.3 M672.8,1285.4 L662.8,1326.3 M666.4,1285.4 L676.4,1326.3 M676.4,1285.4 L666.4,1326.3 M675.2,1223.3 L685.2,1270 M685.2,1223.3 L675.2,1270 M678.8,1223.3 L688.8,1270 M688.8,1223.3 L678.8,1270 M675.2,1285.4 L685.2,1326.3 M685.2,1285.4 L675.2,1326.3 M678.8,1285.4 L688.8,1326.3 M688.8,1285.4 L678.8,1326.3 M687.6,1223.3 L697.6,1270 M697.6,1223.3 L687.6,1270 M691.2,1223.3 L701.2,1270 M701.2,1223.3 L691.2,1270 M687.6,1285.4 L697.6,1326.3 M697.6,1285.4 L687.6,1326.3 M691.2,1285.4 L701.2,1326.3 M701.2,1285.4 L691.2,1326.3 M700.0,1223.3 L710.0,1270 M710.0,1223.3 L700.0,1270 M703.6,1223.3 L713.6,1270 M713.6,1223.3 L703.6,1270 M700.0,1285.4 L710.0,1326.3 M710.0,1285.4 L700.0,1326.3 M703.6,1285.4 L713.6,1326.3 M713.6,1285.4 L703.6,1326.3 M712.4,1223.3 L722.4,1270 M722.4,1223.3 L712.4,1270 M716.0,1223.3 L726.0,1270 M726.0,1223.3 L716.0,1270 M712.4,1285.4 L722.4,1326.3 M722.4,1285.4 L712.4,1326.3 M716.0,1285.4 L726.0,1326.3 M726.0,1285.4 L716.0,1326.3 M724.8,1223.3 L734.8,1270 M734.8,1223.3 L724.8,1270 M728.4,1223.3 L738.4,1270 M738.4,1223.3 L728.4,1270 M724.8,1285.4 L734.8,1326.3 M734.8,1285.4 L724.8,1326.3 M728.4,1285.4 L738.4,1326.3 M738.4,1285.4 L728.4,1326.3 M737.2,1223.3 L747.2,1270 M747.2,1223.3 L737.2,1270 M740.8,1223.3 L750.8,1270 M750.8,1223.3 L740.8,1270 M737.2,1285.4 L747.2,1326.3 M747.2,1285.4 L737.2,1326.3 M740.8,1285.4 L750.8,1326.3 M750.8,1285.4 L740.8,1326.3 M749.6,1223.3 L759.6,1270 M759.6,1223.3 L749.6,1270 M753.2,1223.3 L763.2,1270 M763.2,1223.3 L753.2,1270 M749.6,1285.4 L759.6,1326.3 M759.6,1285.4 L749.6,1326.3 M753.2,1285.4 L763.2,1326.3 M763.2,1285.4 L753.2,1326.3 M762.0,1223.3 L772.0,1270 M772.0,1223.3 L762.0,1270 M765.6,1223.3 L775.6,1270 M775.6,1223.3 L765.6,1270 M762.0,1285.4 L772.0,1326.3 M772.0,1285.4 L762.0,1326.3 M765.6,1285.4 L775.6,1326.3 M775.6,1285.4 L765.6,1326.3 M774.4,1223.3 L784.4,1270 M784.4,1223.3 L774.4,1270 M778.0,1223.3 L788.0,1270 M788.0,1223.3 L778.0,1270 M774.4,1285.4 L784.4,1326.3 M784.4,1285.4 L774.4,1326.3 M778.0,1285.4 L788.0,1326.3 M788.0,1285.4 L778.0,1326.3 M786.8,1223.3 L796.8,1270 M796.8,1223.3 L786.8,1270 M790.4,1223.3 L800.4,1270 M800.4,1223.3 L790.4,1270 M786.8,1285.4 L796.8,1326.3 M796.8,1285.4 L786.8,1326.3 M790.4,1285.4 L800.4,1326.3 M800.4,1285.4 L790.4,1326.3 M799.2,1223.3 L809.2,1270 M809.2,1223.3 L799.2,1270 M802.8,1223.3 L812.8,1270 M812.8,1223.3 L802.8,1270 M799.2,1285.4 L809.2,1326.3 M809.2,1285.4 L799.2,1326.3 M802.8,1285.4 L812.8,1326.3 M812.8,1285.4 L802.8,1326.3 M811.6,1223.3 L821.6,1270 M821.6,1223.3 L811.6,1270 M815.2,1223.3 L825.2,1270 M825.2,1223.3 L815.2,1270 M811.6,1285.4 L821.6,1326.3 M821.6,1285.4 L811.6,1326.3 M815.2,1285.4 L825.2,1326.3 M825.2,1285.4 L815.2,1326.3 M824.0,1223.3 L834.0,1270 M834.0,1223.3 L824.0,1270 M827.6,1223.3 L837.6,1270 M837.6,1223.3 L827.6,1270 M824.0,1285.4 L834.0,1326.3 M834.0,1285.4 L824.0,1326.3 M827.6,1285.4 L837.6,1326.3 M837.6,1285.4 L827.6,1326.3 M836.4,1223.3 L846.4,1270 M846.4,1223.3 L836.4,1270 M840.0,1223.3 L850.0,1270 M850.0,1223.3 L840.0,1270 M836.4,1285.4 L846.4,1326.3 M846.4,1285.4 L836.4,1326.3 M840.0,1285.4 L850.0,1326.3 M850.0,1285.4 L840.0,1326.3 M848.8,1223.3 L858.8,1270 M858.8,1223.3 L848.8,1270 M852.4,1223.3 L862.4,1270 M862.4,1223.3 L852.4,1270 M848.8,1285.4 L858.8,1326.3 M858.8,1285.4 L848.8,1326.3 M852.4,1285.4 L862.4,1326.3 M862.4,1285.4 L852.4,1326.3 M861.2,1223.3 L871.2,1270 M871.2,1223.3 L861.2,1270 M864.8,1223.3 L874.8,1270 M874.8,1223.3 L864.8,1270 M861.2,1285.4 L871.2,1326.3 M871.2,1285.4 L861.2,1326.3 M864.8,1285.4 L874.8,1326.3 M874.8,1285.4 L864.8,1326.3 M873.6,1223.3 L883.6,1270 M883.6,1223.3 L873.6,1270 M877.2,1223.3 L887.2,1270 M887.2,1223.3 L877.2,1270 M873.6,1285.4 L883.6,1326.3 M883.6,1285.4 L873.6,1326.3 M877.2,1285.4 L887.2,1326.3 M887.2,1285.4 L877.2,1326.3 M886.0,1223.3 L896.0,1270 M896.0,1223.3 L886.0,1270 M889.6,1223.3 L899.6,1270 M899.6,1223.3 L889.6,1270 M886.0,1285.4 L896.0,1326.3 M896.0,1285.4 L886.0,1326.3 M889.6,1285.4 L899.6,1326.3 M899.6,1285.4 L889.6,1326.3 M898.4,1223.3 L908.4,1270 M908.4,1223.3 L898.4,1270 M902.0,1223.3 L912.0,1270 M912.0,1223.3 L902.0,1270 M898.4,1285.4 L908.4,1326.3 M908.4,1285.4 L898.4,1326.3 M902.0,1285.4 L912.0,1326.3 M912.0,1285.4 L902.0,1326.3 M910.8,1223.3 L920.8,1270 M920.8,1223.3 L910.8,1270 M914.4,1223.3 L924.4,1270 M924.4,1223.3 L914.4,1270 M910.8,1285.4 L920.8,1326.3 M920.8,1285.4 L910.8,1326.3 M914.4,1285.4 L924.4,1326.3 M924.4,1285.4 L914.4,1326.3 M923.2,1223.3 L933.2,1270 M933.2,1223.3 L923.2,1270 M926.8,1223.3 L936.8,1270 M936.8,1223.3 L926.8,1270 M923.2,1285.4 L933.2,1326.3 M933.2,1285.4 L923.2,1326.3 M926.8,1285.4 L936.8,1326.3 M936.8,1285.4 L926.8,1326.3 M935.6,1223.3 L945.6,1270 M945.6,1223.3 L935.6,1270 M939.2,1223.3 L949.2,1270 M949.2,1223.3 L939.2,1270 M935.6,1285.4 L945.6,1326.3 M945.6,1285.4 L935.6,1326.3 M939.2,1285.4 L949.2,1326.3 M949.2,1285.4 L939.2,1326.3 M948.0,1223.3 L958.0,1270 M958.0,1223.3 L948.0,1270 M951.6,1223.3 L961.6,1270 M961.6,1223.3 L951.6,1270 M948.0,1285.4 L958.0,1326.3 M958.0,1285.4 L948.0,1326.3 M951.6,1285.4 L961.6,1326.3 M961.6,1285.4 L951.6,1326.3 M960.4,1223.3 L970.4,1270 M970.4,1223.3 L960.4,1270 M964.0,1223.3 L974.0,1270 M974.0,1223.3 L964.0,1270 M960.4,1285.4 L970.4,1326.3 M970.4,1285.4 L960.4,1326.3 M964.0,1285.4 L974.0,1326.3 M974.0,1285.4 L964.0,1326.3 M972.8,1223.3 L982.8,1270 M982.8,1223.3 L972.8,1270 M976.4,1223.3 L986.4,1270 M986.4,1223.3 L976.4,1270 M972.8,1285.4 L982.8,1326.3 M982.8,1285.4 L972.8,1326.3 M976.4,1285.4 L986.4,1326.3 M986.4,1285.4 L976.4,1326.3 M985.2,1223.3 L995.2,1270 M995.2,1223.3 L985.2,1270 M988.8,1223.3 L998.8,1270 M998.8,1223.3 L988.8,1270 M985.2,1285.4 L995.2,1326.3 M995.2,1285.4 L985.2,1326.3 M988.8,1285.4 L998.8,1326.3 M998.8,1285.4 L988.8,1326.3 M997.6,1223.3 L1007.6,1270 M1007.6,1223.3 L997.6,1270 M1001.2,1223.3 L1011.2,1270 M1011.2,1223.3 L1001.2,1270 M997.6,1285.4 L1007.6,1326.3 M1007.6,1285.4 L997.6,1326.3 M1001.2,1285.4 L1011.2,1326.3 M1011.2,1285.4 L1001.2,1326.3 M1010.0,1223.3 L1020.0,1270 M1020.0,1223.3 L1010.0,1270 M1013.6,1223.3 L1023.6,1270 M1023.6,1223.3 L1013.6,1270 M1010.0,1285.4 L1020.0,1326.3 M1020.0,1285.4 L1010.0,1326.3 M1013.6,1285.4 L1023.6,1326.3 M1023.6,1285.4 L1013.6,1326.3 M1022.4,1223.3 L1032.4,1270 M1032.4,1223.3 L1022.4,1270 M1026.0,1223.3 L1036.0,1270 M1036.0,1223.3 L1026.0,1270 M1022.4,1285.4 L1032.4,1326.3 M1032.4,1285.4 L1022.4,1326.3 M1026.0,1285.4 L1036.0,1326.3 M1036.0,1285.4 L1026.0,1326.3 M1034.8,1223.3 L1044.8,1270 M1044.8,1223.3 L1034.8,1270 M1038.4,1223.3 L1048.4,1270 M1048.4,1223.3 L1038.4,1270 M1034.8,1285.4 L1044.8,1326.3 M1044.8,1285.4 L1034.8,1326.3 M1038.4,1285.4 L1048.4,1326.3 M1048.4,1285.4 L1038.4,1326.3 M1047.2,1223.3 L1057.2,1270 M1057.2,1223.3 L1047.2,1270 M1050.8,1223.3 L1060.8,1270 M1060.8,1223.3 L1050.8,1270 M1047.2,1285.4 L1057.2,1326.3 M1057.2,1285.4 L1047.2,1326.3 M1050.8,1285.4 L1060.8,1326.3 M1060.8,1285.4 L1050.8,1326.3 M1059.6,1223.3 L1069.6,1270 M1069.6,1223.3 L1059.6,1270 M1063.2,1223.3 L1073.2,1270 M1073.2,1223.3 L1063.2,1270 M1059.6,1285.4 L1069.6,1326.3 M1069.6,1285.4 L1059.6,1326.3 M1063.2,1285.4 L1073.2,1326.3 M1073.2,1285.4 L1063.2,1326.3 M1072.0,1223.3 L1082.0,1270 M1082.0,1223.3 L1072.0,1270 M1075.6,1223.3 L1085.6,1270 M1085.6,1223.3 L1075.6,1270 M1072.0,1285.4 L1082.0,1326.3 M1082.0,1285.4 L1072.0,1326.3 M1075.6,1285.4 L1085.6,1326.3 M1085.6,1285.4 L1075.6,1326.3 M453.5,1223.3 L466,1270 M447.3,1325.7 L464,1285.4" stroke="#1e1e1e" stroke-width="2.9" fill="none"/><rect x="466.7" y="1271" width="927.3" height="12.4" fill="url(#metal2)" stroke="#231f20" stroke-width="1"/><rect x="331" y="1524" width="1063" height="631" fill="url(#sky)"/><rect x="331" y="1524" width="651.1" height="631" fill="#e1e2e4"/><g clip-path="url(#c3)"><use href="#stones" transform="translate(280,1521.07) scale(0.346789)"/></g><g transform="translate(331,1524)"><path d="M47.5,313.6 L63.2,280.6 L651.1,280.6 L651.1,346.5 L63.2,346.5Z" fill="url(#holeB)"/><path d="M555.8,281.6 C564.8,276.1 574.8,271.1 587.5,270.3 L651.5,270.3 L651.5,357.9 L587.5,357.9 C574.8,357.1 564.8,352.1 555.8,346.6 Z" fill="url(#plastH)"/><rect x="563.8" y="282.6" width="87.7" height="5.7" fill="url(#shadeDn)"/><rect x="563.8" y="339.6" width="87.7" height="5.7" fill="url(#shadeUp)"/><rect x="563.8" y="304.5" width="87.7" height="7.9" fill="url(#shadeDn)" opacity="0.6"/><rect x="563.8" y="315.9" width="87.7" height="7.9" fill="url(#shadeUp)" opacity="0.6"/><path d="M556.8,281.6 C564.8,286.1 579.8,287.9 599.8,287.9 L651.5,288.0 M562.8,308.1 C569.8,304.6 584.8,302.9 609.8,302.8 L651.5,302.9 M556.8,314.1 L651.5,314.1 M562.8,320.1 C569.8,323.6 584.8,324.9 609.8,325.0 L651.5,325.0 M556.8,346.6 C564.8,341.1 579.8,339.5 609.8,339.5 L651.5,339.5 M555.8,281.6 C563.8,290.1 564.8,304.1 556.8,314.1 C564.8,324.1 563.8,338.1 555.8,346.6" fill="none" stroke="#231f20" stroke-width="1.4"/><path d="M555.8,281.6 C564.8,276.1 574.8,271.1 587.5,270.3 L651.5,270.3 L651.5,357.9 L587.5,357.9 C574.8,357.1 564.8,352.1 555.8,346.6 Z" fill="none" stroke="#231f20" stroke-width="1.4"/><rect x="279.7" y="281.6" width="277.0" height="65.1" fill="url(#plast)" stroke="#231f20" stroke-width="1"/><rect x="280.9" y="309.5" width="275.8" height="9.2" fill="#c8c9cb" stroke="#231f20" stroke-width="1"/><path d="M315.2,294.8 L332.3,288.9 L332.3,300.7 L330.7,309.1Z" fill="#d9dadc"/><path d="M315.2,294.8 L326.2,284.6 L343.5,279.2 L332.3,288.9Z" fill="#f7f7f7"/><path d="M332.3,288.9 L343.5,279.2 L343.5,300.4 L332.3,300.7Z" fill="#a9abae"/><path d="M332.3,300.7 L343.5,300.4 L352.0,309.1 L340.0,309.1Z" fill="#cfd0d2"/><path d="M330.7,309.1 L315.2,294.8 L326.2,284.6 L343.5,279.2 L343.5,300.4 L352.0,309.1 M315.2,294.8 L332.3,288.9 L343.5,279.2 M332.3,288.9 L332.3,300.7 L343.5,300.4 M332.3,300.7 L340.0,309.1" fill="none" stroke="#231f20" stroke-width="1.2"/><path d="M315.2,333.4 L332.3,339.3 L332.3,327.6 L330.7,319.1Z" fill="#d9dadc"/><path d="M315.2,333.4 L326.2,343.7 L343.5,349.1 L332.3,339.3Z" fill="#f7f7f7"/><path d="M332.3,339.3 L343.5,349.1 L343.5,327.8 L332.3,327.6Z" fill="#a9abae"/><path d="M332.3,327.6 L343.5,327.8 L352.0,319.1 L340.0,319.1Z" fill="#cfd0d2"/><path d="M330.7,319.1 L315.2,333.4 L326.2,343.7 L343.5,349.1 L343.5,327.8 L352.0,319.1 M315.2,333.4 L332.3,339.3 L343.5,349.1 M332.3,339.3 L332.3,327.6 L343.5,327.8 M332.3,327.6 L340.0,319.1" fill="none" stroke="#231f20" stroke-width="1.2"/><path d="M343.8,294.8 L360.9,288.9 L360.9,300.7 L359.3,309.1Z" fill="#d9dadc"/><path d="M343.8,294.8 L354.8,283.7 L372.1,277.9 L360.9,288.9Z" fill="#f7f7f7"/><path d="M360.9,288.9 L372.1,277.9 L372.1,300.4 L360.9,300.7Z" fill="#a9abae"/><path d="M360.9,300.7 L372.1,300.4 L380.6,309.1 L368.6,309.1Z" fill="#cfd0d2"/><path d="M359.3,309.1 L343.8,294.8 L354.8,283.7 L372.1,277.9 L372.1,300.4 L380.6,309.1 M343.8,294.8 L360.9,288.9 L372.1,277.9 M360.9,288.9 L360.9,300.7 L372.1,300.4 M360.9,300.7 L368.6,309.1" fill="none" stroke="#231f20" stroke-width="1.2"/><path d="M343.8,333.4 L360.9,339.3 L360.9,327.6 L359.3,319.1Z" fill="#d9dadc"/><path d="M343.8,333.4 L354.8,344.6 L372.1,350.3 L360.9,339.3Z" fill="#f7f7f7"/><path d="M360.9,339.3 L372.1,350.3 L372.1,327.8 L360.9,327.6Z" fill="#a9abae"/><path d="M360.9,327.6 L372.1,327.8 L380.6,319.1 L368.6,319.1Z" fill="#cfd0d2"/><path d="M359.3,319.1 L343.8,333.4 L354.8,344.6 L372.1,350.3 L372.1,327.8 L380.6,319.1 M343.8,333.4 L360.9,339.3 L372.1,350.3 M360.9,339.3 L360.9,327.6 L372.1,327.8 M360.9,327.6 L368.6,319.1" fill="none" stroke="#231f20" stroke-width="1.2"/><path d="M372.4,294.8 L389.5,288.9 L389.5,300.7 L387.9,309.1Z" fill="#d9dadc"/><path d="M372.4,294.8 L383.4,282.8 L400.7,276.6 L389.5,288.9Z" fill="#f7f7f7"/><path d="M389.5,288.9 L400.7,276.6 L400.7,300.4 L389.5,300.7Z" fill="#a9abae"/><path d="M389.5,300.7 L400.7,300.4 L409.2,309.1 L397.2,309.1Z" fill="#cfd0d2"/><path d="M387.9,309.1 L372.4,294.8 L383.4,282.8 L400.7,276.6 L400.7,300.4 L409.2,309.1 M372.4,294.8 L389.5,288.9 L400.7,276.6 M389.5,288.9 L389.5,300.7 L400.7,300.4 M389.5,300.7 L397.2,309.1" fill="none" stroke="#231f20" stroke-width="1.2"/><path d="M372.4,333.4 L389.5,339.3 L389.5,327.6 L387.9,319.1Z" fill="#d9dadc"/><path d="M372.4,333.4 L383.4,345.5 L400.7,351.6 L389.5,339.3Z" fill="#f7f7f7"/><path d="M389.5,339.3 L400.7,351.6 L400.7,327.8 L389.5,327.6Z" fill="#a9abae"/><path d="M389.5,327.6 L400.7,327.8 L409.2,319.1 L397.2,319.1Z" fill="#cfd0d2"/><path d="M387.9,319.1 L372.4,333.4 L383.4,345.5 L400.7,351.6 L400.7,327.8 L409.2,319.1 M372.4,333.4 L389.5,339.3 L400.7,351.6 M389.5,339.3 L389.5,327.6 L400.7,327.8 M389.5,327.6 L397.2,319.1" fill="none" stroke="#231f20" stroke-width="1.2"/><path d="M401.0,294.8 L418.1,288.9 L418.1,300.7 L416.5,309.1Z" fill="#d9dadc"/><path d="M401.0,294.8 L412.0,282.0 L429.3,275.3 L418.1,288.9Z" fill="#f7f7f7"/><path d="M418.1,288.9 L429.3,275.3 L429.3,300.4 L418.1,300.7Z" fill="#a9abae"/><path d="M418.1,300.7 L429.3,300.4 L437.8,309.1 L425.8,309.1Z" fill="#cfd0d2"/><path d="M416.5,309.1 L401.0,294.8 L412.0,282.0 L429.3,275.3 L429.3,300.4 L437.8,309.1 M401.0,294.8 L418.1,288.9 L429.3,275.3 M418.1,288.9 L418.1,300.7 L429.3,300.4 M418.1,300.7 L425.8,309.1" fill="none" stroke="#231f20" stroke-width="1.2"/><path d="M401.0,333.4 L418.1,339.3 L418.1,327.6 L416.5,319.1Z" fill="#d9dadc"/><path d="M401.0,333.4 L412.0,346.3 L429.3,352.9 L418.1,339.3Z" fill="#f7f7f7"/><path d="M418.1,339.3 L429.3,352.9 L429.3,327.8 L418.1,327.6Z" fill="#a9abae"/><path d="M418.1,327.6 L429.3,327.8 L437.8,319.1 L425.8,319.1Z" fill="#cfd0d2"/><path d="M416.5,319.1 L401.0,333.4 L412.0,346.3 L429.3,352.9 L429.3,327.8 L437.8,319.1 M401.0,333.4 L418.1,339.3 L429.3,352.9 M418.1,339.3 L418.1,327.6 L429.3,327.8 M418.1,327.6 L425.8,319.1" fill="none" stroke="#231f20" stroke-width="1.2"/><path d="M429.6,294.8 L446.7,288.9 L446.7,300.7 L445.1,309.1Z" fill="#d9dadc"/><path d="M429.6,294.8 L440.6,281.1 L457.9,274.0 L446.7,288.9Z" fill="#f7f7f7"/><path d="M446.7,288.9 L457.9,274.0 L457.9,300.4 L446.7,300.7Z" fill="#a9abae"/><path d="M446.7,300.7 L457.9,300.4 L466.4,309.1 L454.4,309.1Z" fill="#cfd0d2"/><path d="M445.1,309.1 L429.6,294.8 L440.6,281.1 L457.9,274.0 L457.9,300.4 L466.4,309.1 M429.6,294.8 L446.7,288.9 L457.9,274.0 M446.7,288.9 L446.7,300.7 L457.9,300.4 M446.7,300.7 L454.4,309.1" fill="none" stroke="#231f20" stroke-width="1.2"/><path d="M429.6,333.4 L446.7,339.3 L446.7,327.6 L445.1,319.1Z" fill="#d9dadc"/><path d="M429.6,333.4 L440.6,347.2 L457.9,354.2 L446.7,339.3Z" fill="#f7f7f7"/><path d="M446.7,339.3 L457.9,354.2 L457.9,327.8 L446.7,327.6Z" fill="#a9abae"/><path d="M446.7,327.6 L457.9,327.8 L466.4,319.1 L454.4,319.1Z" fill="#cfd0d2"/><path d="M445.1,319.1 L429.6,333.4 L440.6,347.2 L457.9,354.2 L457.9,327.8 L466.4,319.1 M429.6,333.4 L446.7,339.3 L457.9,354.2 M446.7,339.3 L446.7,327.6 L457.9,327.8 M446.7,327.6 L454.4,319.1" fill="none" stroke="#231f20" stroke-width="1.2"/><path d="M458.2,294.8 L475.3,288.9 L475.3,300.7 L473.7,309.1Z" fill="#d9dadc"/><path d="M458.2,294.8 L469.2,280.3 L486.5,272.7 L475.3,288.9Z" fill="#f7f7f7"/><path d="M475.3,288.9 L486.5,272.7 L486.5,300.4 L475.3,300.7Z" fill="#a9abae"/><path d="M475.3,300.7 L486.5,300.4 L495.0,309.1 L483.0,309.1Z" fill="#cfd0d2"/><path d="M473.7,309.1 L458.2,294.8 L469.2,280.3 L486.5,272.7 L486.5,300.4 L495.0,309.1 M458.2,294.8 L475.3,288.9 L486.5,272.7 M475.3,288.9 L475.3,300.7 L486.5,300.4 M475.3,300.7 L483.0,309.1" fill="none" stroke="#231f20" stroke-width="1.2"/><path d="M458.2,333.4 L475.3,339.3 L475.3,327.6 L473.7,319.1Z" fill="#d9dadc"/><path d="M458.2,333.4 L469.2,348.0 L486.5,355.6 L475.3,339.3Z" fill="#f7f7f7"/><path d="M475.3,339.3 L486.5,355.6 L486.5,327.8 L475.3,327.6Z" fill="#a9abae"/><path d="M475.3,327.6 L486.5,327.8 L495.0,319.1 L483.0,319.1Z" fill="#cfd0d2"/><path d="M473.7,319.1 L458.2,333.4 L469.2,348.0 L486.5,355.6 L486.5,327.8 L495.0,319.1 M458.2,333.4 L475.3,339.3 L486.5,355.6 M475.3,339.3 L475.3,327.6 L486.5,327.8 M475.3,327.6 L483.0,319.1" fill="none" stroke="#231f20" stroke-width="1.2"/><path d="M486.8,294.8 L503.9,288.9 L503.9,300.7 L502.3,309.1Z" fill="#d9dadc"/><path d="M486.8,294.8 L497.8,279.4 L515.1,271.4 L503.9,288.9Z" fill="#f7f7f7"/><path d="M503.9,288.9 L515.1,271.4 L515.1,300.4 L503.9,300.7Z" fill="#a9abae"/><path d="M503.9,300.7 L515.1,300.4 L523.6,309.1 L511.6,309.1Z" fill="#cfd0d2"/><path d="M502.3,309.1 L486.8,294.8 L497.8,279.4 L515.1,271.4 L515.1,300.4 L523.6,309.1 M486.8,294.8 L503.9,288.9 L515.1,271.4 M503.9,288.9 L503.9,300.7 L515.1,300.4 M503.9,300.7 L511.6,309.1" fill="none" stroke="#231f20" stroke-width="1.2"/><path d="M486.8,333.4 L503.9,339.3 L503.9,327.6 L502.3,319.1Z" fill="#d9dadc"/><path d="M486.8,333.4 L497.8,348.9 L515.1,356.8 L503.9,339.3Z" fill="#f7f7f7"/><path d="M503.9,339.3 L515.1,356.8 L515.1,327.8 L503.9,327.6Z" fill="#a9abae"/><path d="M503.9,327.6 L515.1,327.8 L523.6,319.1 L511.6,319.1Z" fill="#cfd0d2"/><path d="M502.3,319.1 L486.8,333.4 L497.8,348.9 L515.1,356.8 L515.1,327.8 L523.6,319.1 M486.8,333.4 L503.9,339.3 L515.1,356.8 M503.9,339.3 L503.9,327.6 L515.1,327.8 M503.9,327.6 L511.6,319.1" fill="none" stroke="#231f20" stroke-width="1.2"/><rect x="266.0" y="285.3" width="13.7" height="57.7" fill="url(#plast)" stroke="#231f20" stroke-width="1"/><path d="M201.4,305.6 L215.1,281.6 L266.0,281.6 L266.0,346.7 L215.1,346.7 L201.4,338.1Z" fill="url(#plast)" stroke="#231f20" stroke-width="1"/><path d="M215.1,281.6 L215.1,346.7" stroke="#231f20" stroke-width="0.9"/><rect x="651.5" y="265.9" width="9.3" height="95.7" rx="4.6" fill="url(#flg)" stroke="#231f20" stroke-width="1.3"/></g><rect x="331" y="2246.6" width="1063" height="631.0" fill="url(#sky)"/><rect x="331" y="2246.6" width="651.1" height="631.0" fill="#e1e2e4"/><g clip-path="url(#c4)"><use href="#stones" transform="translate(280,2243.6) scale(0.346789)"/></g><g transform="translate(331,2246.6)"><path d="M47.5,313.6 L63.2,280.6 L651.1,280.6 L651.1,346.5 L63.2,346.5Z" fill="url(#holeB)"/><path d="M137.7,313.7 C143.7,307.7 152.7,304.2 160.7,303.2 L200.0,303.2 L200.0,324.2 L160.7,324.2 C152.7,323.2 143.7,319.7 137.7,313.7Z" fill="url(#screwg)" stroke="#231f20" stroke-width="1.1"/><path d="M157.7,301.2 C160.2,301.2 163.7,309.9 164.2,313.7 C164.7,318.7 166.7,326.2 168.7,326.2" fill="none" stroke="#231f20" stroke-width="5.2" stroke-linecap="round"/><path d="M157.7,301.2 C160.2,301.2 163.7,309.9 164.2,313.7 C164.7,318.7 166.7,326.2 168.7,326.2" fill="none" stroke="#e9e9ea" stroke-width="3.3" stroke-linecap="round"/><path d="M174.9,296.2 C177.4,296.2 180.9,308.4 181.4,313.7 C181.9,320.7 183.9,331.2 185.9,331.2" fill="none" stroke="#231f20" stroke-width="5.2" stroke-linecap="round"/><path d="M174.9,296.2 C177.4,296.2 180.9,308.4 181.4,313.7 C181.9,320.7 183.9,331.2 185.9,331.2" fill="none" stroke="#e9e9ea" stroke-width="3.3" stroke-linecap="round"/><path d="M192.1,296.2 C194.6,296.2 198.1,308.4 198.6,313.7 C199.1,320.7 201.1,331.2 203.1,331.2" fill="none" stroke="#231f20" stroke-width="5.2" stroke-linecap="round"/><path d="M192.1,296.2 C194.6,296.2 198.1,308.4 198.6,313.7 C199.1,320.7 201.1,331.2 203.1,331.2" fill="none" stroke="#e9e9ea" stroke-width="3.3" stroke-linecap="round"/><path d="M555.8,281.6 C564.8,276.1 574.8,271.1 587.5,270.3 L651.5,270.3 L651.5,357.9 L587.5,357.9 C574.8,357.1 564.8,352.1 555.8,346.6 Z" fill="url(#plastH)"/><rect x="563.8" y="282.6" width="87.7" height="5.7" fill="url(#shadeDn)"/><rect x="563.8" y="339.6" width="87.7" height="5.7" fill="url(#shadeUp)"/><rect x="563.8" y="304.5" width="87.7" height="7.9" fill="url(#shadeDn)" opacity="0.6"/><rect x="563.8" y="315.9" width="87.7" height="7.9" fill="url(#shadeUp)" opacity="0.6"/><path d="M556.8,281.6 C564.8,286.1 579.8,287.9 599.8,287.9 L651.5,288.0 M562.8,308.1 C569.8,304.6 584.8,302.9 609.8,302.8 L651.5,302.9 M556.8,314.1 L651.5,314.1 M562.8,320.1 C569.8,323.6 584.8,324.9 609.8,325.0 L651.5,325.0 M556.8,346.6 C564.8,341.1 579.8,339.5 609.8,339.5 L651.5,339.5 M555.8,281.6 C563.8,290.1 564.8,304.1 556.8,314.1 C564.8,324.1 563.8,338.1 555.8,346.6" fill="none" stroke="#231f20" stroke-width="1.4"/><path d="M555.8,281.6 C564.8,276.1 574.8,271.1 587.5,270.3 L651.5,270.3 L651.5,357.9 L587.5,357.9 C574.8,357.1 564.8,352.1 555.8,346.6 Z" fill="none" stroke="#231f20" stroke-width="1.4"/><rect x="279.7" y="281.6" width="277.0" height="65.1" fill="url(#plast)" stroke="#231f20" stroke-width="1"/><rect x="280.9" y="309.5" width="275.8" height="9.2" fill="#c8c9cb" stroke="#231f20" stroke-width="1"/><path d="M315.2,294.8 L332.3,288.9 L332.3,300.7 L330.7,309.1Z" fill="#d9dadc"/><path d="M315.2,294.8 L326.2,284.6 L343.5,279.2 L332.3,288.9Z" fill="#f7f7f7"/><path d="M332.3,288.9 L343.5,279.2 L343.5,300.4 L332.3,300.7Z" fill="#a9abae"/><path d="M332.3,300.7 L343.5,300.4 L352.0,309.1 L340.0,309.1Z" fill="#cfd0d2"/><path d="M330.7,309.1 L315.2,294.8 L326.2,284.6 L343.5,279.2 L343.5,300.4 L352.0,309.1 M315.2,294.8 L332.3,288.9 L343.5,279.2 M332.3,288.9 L332.3,300.7 L343.5,300.4 M332.3,300.7 L340.0,309.1" fill="none" stroke="#231f20" stroke-width="1.2"/><path d="M315.2,333.4 L332.3,339.3 L332.3,327.6 L330.7,319.1Z" fill="#d9dadc"/><path d="M315.2,333.4 L326.2,343.7 L343.5,349.1 L332.3,339.3Z" fill="#f7f7f7"/><path d="M332.3,339.3 L343.5,349.1 L343.5,327.8 L332.3,327.6Z" fill="#a9abae"/><path d="M332.3,327.6 L343.5,327.8 L352.0,319.1 L340.0,319.1Z" fill="#cfd0d2"/><path d="M330.7,319.1 L315.2,333.4 L326.2,343.7 L343.5,349.1 L343.5,327.8 L352.0,319.1 M315.2,333.4 L332.3,339.3 L343.5,349.1 M332.3,339.3 L332.3,327.6 L343.5,327.8 M332.3,327.6 L340.0,319.1" fill="none" stroke="#231f20" stroke-width="1.2"/><path d="M343.8,294.8 L360.9,288.9 L360.9,300.7 L359.3,309.1Z" fill="#d9dadc"/><path d="M343.8,294.8 L354.8,283.7 L372.1,277.9 L360.9,288.9Z" fill="#f7f7f7"/><path d="M360.9,288.9 L372.1,277.9 L372.1,300.4 L360.9,300.7Z" fill="#a9abae"/><path d="M360.9,300.7 L372.1,300.4 L380.6,309.1 L368.6,309.1Z" fill="#cfd0d2"/><path d="M359.3,309.1 L343.8,294.8 L354.8,283.7 L372.1,277.9 L372.1,300.4 L380.6,309.1 M343.8,294.8 L360.9,288.9 L372.1,277.9 M360.9,288.9 L360.9,300.7 L372.1,300.4 M360.9,300.7 L368.6,309.1" fill="none" stroke="#231f20" stroke-width="1.2"/><path d="M343.8,333.4 L360.9,339.3 L360.9,327.6 L359.3,319.1Z" fill="#d9dadc"/><path d="M343.8,333.4 L354.8,344.6 L372.1,350.3 L360.9,339.3Z" fill="#f7f7f7"/><path d="M360.9,339.3 L372.1,350.3 L372.1,327.8 L360.9,327.6Z" fill="#a9abae"/><path d="M360.9,327.6 L372.1,327.8 L380.6,319.1 L368.6,319.1Z" fill="#cfd0d2"/><path d="M359.3,319.1 L343.8,333.4 L354.8,344.6 L372.1,350.3 L372.1,327.8 L380.6,319.1 M343.8,333.4 L360.9,339.3 L372.1,350.3 M360.9,339.3 L360.9,327.6 L372.1,327.8 M360.9,327.6 L368.6,319.1" fill="none" stroke="#231f20" stroke-width="1.2"/><path d="M372.4,294.8 L389.5,288.9 L389.5,300.7 L387.9,309.1Z" fill="#d9dadc"/><path d="M372.4,294.8 L383.4,282.8 L400.7,276.6 L389.5,288.9Z" fill="#f7f7f7"/><path d="M389.5,288.9 L400.7,276.6 L400.7,300.4 L389.5,300.7Z" fill="#a9abae"/><path d="M389.5,300.7 L400.7,300.4 L409.2,309.1 L397.2,309.1Z" fill="#cfd0d2"/><path d="M387.9,309.1 L372.4,294.8 L383.4,282.8 L400.7,276.6 L400.7,300.4 L409.2,309.1 M372.4,294.8 L389.5,288.9 L400.7,276.6 M389.5,288.9 L389.5,300.7 L400.7,300.4 M389.5,300.7 L397.2,309.1" fill="none" stroke="#231f20" stroke-width="1.2"/><path d="M372.4,333.4 L389.5,339.3 L389.5,327.6 L387.9,319.1Z" fill="#d9dadc"/><path d="M372.4,333.4 L383.4,345.5 L400.7,351.6 L389.5,339.3Z" fill="#f7f7f7"/><path d="M389.5,339.3 L400.7,351.6 L400.7,327.8 L389.5,327.6Z" fill="#a9abae"/><path d="M389.5,327.6 L400.7,327.8 L409.2,319.1 L397.2,319.1Z" fill="#cfd0d2"/><path d="M387.9,319.1 L372.4,333.4 L383.4,345.5 L400.7,351.6 L400.7,327.8 L409.2,319.1 M372.4,333.4 L389.5,339.3 L400.7,351.6 M389.5,339.3 L389.5,327.6 L400.7,327.8 M389.5,327.6 L397.2,319.1" fill="none" stroke="#231f20" stroke-width="1.2"/><path d="M401.0,294.8 L418.1,288.9 L418.1,300.7 L416.5,309.1Z" fill="#d9dadc"/><path d="M401.0,294.8 L412.0,282.0 L429.3,275.3 L418.1,288.9Z" fill="#f7f7f7"/><path d="M418.1,288.9 L429.3,275.3 L429.3,300.4 L418.1,300.7Z" fill="#a9abae"/><path d="M418.1,300.7 L429.3,300.4 L437.8,309.1 L425.8,309.1Z" fill="#cfd0d2"/><path d="M416.5,309.1 L401.0,294.8 L412.0,282.0 L429.3,275.3 L429.3,300.4 L437.8,309.1 M401.0,294.8 L418.1,288.9 L429.3,275.3 M418.1,288.9 L418.1,300.7 L429.3,300.4 M418.1,300.7 L425.8,309.1" fill="none" stroke="#231f20" stroke-width="1.2"/><path d="M401.0,333.4 L418.1,339.3 L418.1,327.6 L416.5,319.1Z" fill="#d9dadc"/><path d="M401.0,333.4 L412.0,346.3 L429.3,352.9 L418.1,339.3Z" fill="#f7f7f7"/><path d="M418.1,339.3 L429.3,352.9 L429.3,327.8 L418.1,327.6Z" fill="#a9abae"/><path d="M418.1,327.6 L429.3,327.8 L437.8,319.1 L425.8,319.1Z" fill="#cfd0d2"/><path d="M416.5,319.1 L401.0,333.4 L412.0,346.3 L429.3,352.9 L429.3,327.8 L437.8,319.1 M401.0,333.4 L418.1,339.3 L429.3,352.9 M418.1,339.3 L418.1,327.6 L429.3,327.8 M418.1,327.6 L425.8,319.1" fill="none" stroke="#231f20" stroke-width="1.2"/><path d="M429.6,294.8 L446.7,288.9 L446.7,300.7 L445.1,309.1Z" fill="#d9dadc"/><path d="M429.6,294.8 L440.6,281.1 L457.9,274.0 L446.7,288.9Z" fill="#f7f7f7"/><path d="M446.7,288.9 L457.9,274.0 L457.9,300.4 L446.7,300.7Z" fill="#a9abae"/><path d="M446.7,300.7 L457.9,300.4 L466.4,309.1 L454.4,309.1Z" fill="#cfd0d2"/><path d="M445.1,309.1 L429.6,294.8 L440.6,281.1 L457.9,274.0 L457.9,300.4 L466.4,309.1 M429.6,294.8 L446.7,288.9 L457.9,274.0 M446.7,288.9 L446.7,300.7 L457.9,300.4 M446.7,300.7 L454.4,309.1" fill="none" stroke="#231f20" stroke-width="1.2"/><path d="M429.6,333.4 L446.7,339.3 L446.7,327.6 L445.1,319.1Z" fill="#d9dadc"/><path d="M429.6,333.4 L440.6,347.2 L457.9,354.2 L446.7,339.3Z" fill="#f7f7f7"/><path d="M446.7,339.3 L457.9,354.2 L457.9,327.8 L446.7,327.6Z" fill="#a9abae"/><path d="M446.7,327.6 L457.9,327.8 L466.4,319.1 L454.4,319.1Z" fill="#cfd0d2"/><path d="M445.1,319.1 L429.6,333.4 L440.6,347.2 L457.9,354.2 L457.9,327.8 L466.4,319.1 M429.6,333.4 L446.7,339.3 L457.9,354.2 M446.7,339.3 L446.7,327.6 L457.9,327.8 M446.7,327.6 L454.4,319.1" fill="none" stroke="#231f20" stroke-width="1.2"/><path d="M458.2,294.8 L475.3,288.9 L475.3,300.7 L473.7,309.1Z" fill="#d9dadc"/><path d="M458.2,294.8 L469.2,280.3 L486.5,272.7 L475.3,288.9Z" fill="#f7f7f7"/><path d="M475.3,288.9 L486.5,272.7 L486.5,300.4 L475.3,300.7Z" fill="#a9abae"/><path d="M475.3,300.7 L486.5,300.4 L495.0,309.1 L483.0,309.1Z" fill="#cfd0d2"/><path d="M473.7,309.1 L458.2,294.8 L469.2,280.3 L486.5,272.7 L486.5,300.4 L495.0,309.1 M458.2,294.8 L475.3,288.9 L486.5,272.7 M475.3,288.9 L475.3,300.7 L486.5,300.4 M475.3,300.7 L483.0,309.1" fill="none" stroke="#231f20" stroke-width="1.2"/><path d="M458.2,333.4 L475.3,339.3 L475.3,327.6 L473.7,319.1Z" fill="#d9dadc"/><path d="M458.2,333.4 L469.2,348.0 L486.5,355.6 L475.3,339.3Z" fill="#f7f7f7"/><path d="M475.3,339.3 L486.5,355.6 L486.5,327.8 L475.3,327.6Z" fill="#a9abae"/><path d="M475.3,327.6 L486.5,327.8 L495.0,319.1 L483.0,319.1Z" fill="#cfd0d2"/><path d="M473.7,319.1 L458.2,333.4 L469.2,348.0 L486.5,355.6 L486.5,327.8 L495.0,319.1 M458.2,333.4 L475.3,339.3 L486.5,355.6 M475.3,339.3 L475.3,327.6 L486.5,327.8 M475.3,327.6 L483.0,319.1" fill="none" stroke="#231f20" stroke-width="1.2"/><path d="M486.8,294.8 L503.9,288.9 L503.9,300.7 L502.3,309.1Z" fill="#d9dadc"/><path d="M486.8,294.8 L497.8,279.4 L515.1,271.4 L503.9,288.9Z" fill="#f7f7f7"/><path d="M503.9,288.9 L515.1,271.4 L515.1,300.4 L503.9,300.7Z" fill="#a9abae"/><path d="M503.9,300.7 L515.1,300.4 L523.6,309.1 L511.6,309.1Z" fill="#cfd0d2"/><path d="M502.3,309.1 L486.8,294.8 L497.8,279.4 L515.1,271.4 L515.1,300.4 L523.6,309.1 M486.8,294.8 L503.9,288.9 L515.1,271.4 M503.9,288.9 L503.9,300.7 L515.1,300.4 M503.9,300.7 L511.6,309.1" fill="none" stroke="#231f20" stroke-width="1.2"/><path d="M486.8,333.4 L503.9,339.3 L503.9,327.6 L502.3,319.1Z" fill="#d9dadc"/><path d="M486.8,333.4 L497.8,348.9 L515.1,356.8 L503.9,339.3Z" fill="#f7f7f7"/><path d="M503.9,339.3 L515.1,356.8 L515.1,327.8 L503.9,327.6Z" fill="#a9abae"/><path d="M503.9,327.6 L515.1,327.8 L523.6,319.1 L511.6,319.1Z" fill="#cfd0d2"/><path d="M502.3,319.1 L486.8,333.4 L497.8,348.9 L515.1,356.8 L515.1,327.8 L523.6,319.1 M486.8,333.4 L503.9,339.3 L515.1,356.8 M503.9,339.3 L503.9,327.6 L515.1,327.8 M503.9,327.6 L511.6,319.1" fill="none" stroke="#231f20" stroke-width="1.2"/><rect x="259.6" y="285.3" width="20.1" height="57.7" fill="url(#plast)" stroke="#231f20" stroke-width="1"/><path d="M195.0,305.6 L208.7,281.6 L259.6,281.6 L259.6,346.7 L208.7,346.7 L195.0,338.1Z" fill="url(#plast)" stroke="#231f20" stroke-width="1"/><path d="M208.7,281.6 L208.7,346.7" stroke="#231f20" stroke-width="0.9"/><rect x="651.5" y="265.9" width="9.3" height="95.7" rx="4.6" fill="url(#flg)" stroke="#231f20" stroke-width="1.3"/><rect x="659.8" y="169" width="88.0" height="295.6" fill="#9d6321"/><path d="M677.9,170.5 C677.7,176.9 678.4,195.8 676.3,208.9 C674.3,222.0 668.6,239.5 665.9,249.1 C663.1,258.7 660.8,263.6 659.8,266.5" fill="none" stroke="#6a431c" stroke-width="1.4"/><path d="M696.4,170.5 C697.0,176.9 700.5,194.5 699.7,208.9 C698.9,223.3 694.4,242.1 691.6,257.1 C688.8,272.1 684.2,292.1 682.8,299.1" fill="none" stroke="#6a431c" stroke-width="1.4"/><path d="M718.1,170.5 C717.9,178.3 718.2,202.7 717.3,217.2 C716.3,231.6 712.5,243.4 712.5,257.1 C712.5,270.7 716.5,292.1 717.3,299.1" fill="none" stroke="#6a431c" stroke-width="1.4"/><path d="M734.2,170.5 C733.7,176.9 732.9,195.8 731.7,208.9 C730.5,222.0 726.9,238.0 726.9,249.1 C726.9,260.2 730.9,271.0 731.7,275.4" fill="none" stroke="#6a431c" stroke-width="1.4"/><path d="M659.8,358.2 C662.1,361.4 671.2,367.5 673.8,377.4 C676.4,387.3 676.5,402.9 675.5,417.3 C674.4,431.7 668.9,456.0 667.5,463.7" fill="none" stroke="#6a431c" stroke-width="1.4"/><path d="M688.4,334.5 C688.1,340.3 686.6,355.3 686.8,369.1 C687.1,382.9 689.7,401.5 690.0,417.3 C690.2,433.1 688.7,456.0 688.4,463.7" fill="none" stroke="#6a431c" stroke-width="1.4"/><path d="M704.4,463.7 C704.0,448.0 701.8,391.1 702.0,369.4 C702.3,347.7 704.3,337.4 706.1,333.4 C707.8,329.3 709.8,340.5 712.5,345.2 C715.2,349.8 716.2,357.0 722.1,361.1 C728.0,365.3 743.5,368.5 747.8,370.0" fill="none" stroke="#6a431c" stroke-width="1.4"/><path d="M717.3,463.7 C717.0,453.3 714.9,413.9 715.7,401.3 C716.5,388.8 719.4,388.9 722.1,388.3 C724.8,387.8 729.4,390.6 731.8,398.1 C734.2,405.6 733.9,424.6 736.5,433.3 C739.2,441.9 745.9,447.1 747.8,449.8" fill="none" stroke="#6a431c" stroke-width="1.4"/><rect x="659.8" y="169" width="88.0" height="295.6" fill="none" stroke="#231f20" stroke-width="1.4"/><path d="M659.8,294.1 L714.5,294.1 L747.8,269.7 L747.8,364.0 L714.5,329.1 L659.8,329.1Z" fill="#5e3a17" opacity="0.75"/><rect x="660.5" y="300.6" width="113.4" height="28.5" fill="url(#screwg)" stroke="#231f20" stroke-width="1"/><path d="M773.9,300.6 L805.3,274.3 L805.3,357.0 L773.9,329.1Z" fill="url(#screwg)" stroke="#231f20" stroke-width="1"/><path d="M805.3,315.7 C809.4,307.7 820.5,293.7 834.4,287.2 C845.3,282.2 855.0,280.4 863.6,280.4 L1063.0,280.4 L1063.0,351.0 L863.6,351.0 C855.0,351.0 845.3,349.2 834.4,344.2 C820.5,337.7 809.4,323.7 805.3,315.7Z" fill="url(#bitg)" stroke="#231f20" stroke-width="1.3"/><path d="M807.0,313.2 C806.4,311.8 821.5,302.2 825.9,299.5 C830.2,296.8 840.2,292.0 843.0,290.8 C845.7,289.6 847.0,289.3 848.6,289.6 C850.1,289.9 854.2,292.2 855.8,293.3 C857.5,294.4 861.3,297.8 862.3,298.9 C863.3,300.0 864.1,301.7 863.9,302.6 C863.8,303.5 863.0,305.6 861.0,306.3 C859.0,307.0 850.9,308.2 847.2,308.8 C843.5,309.4 835.0,310.8 830.1,311.3 C825.3,311.8 807.5,314.6 807.0,313.2Z" fill="url(#flute)" stroke="#231f20" stroke-width="0.8"/><path d="M807.0,319.1 C807.5,317.3 825.3,320.1 830.1,320.6 C835.0,321.1 843.5,322.4 847.2,323.1 C850.9,323.8 859.0,325.5 861.0,326.2 C863.0,326.9 863.8,328.4 863.9,329.3 C864.1,330.2 863.3,332.6 862.3,333.7 C861.3,334.8 857.5,337.4 855.8,338.6 C854.2,339.8 850.1,342.8 848.6,343.3 C847.0,343.8 845.7,343.3 843.0,342.4 C840.2,341.5 830.2,338.3 825.9,335.5 C821.5,332.7 806.4,320.9 807.0,319.1Z" fill="url(#flute)" stroke="#231f20" stroke-width="0.8"/></g><path d="M1315.7,2490.6 C1312,2475 1300,2454.5 1285.4,2454.5 C1262,2454.5 1251.6,2500 1251.6,2547.7 C1251.6,2600 1265,2642 1285.4,2642 C1296,2642 1309,2630 1313.4,2607.1 L1299.4,2607.1 C1297,2615 1293,2621.1 1287.7,2621.1 C1278,2621.1 1272.6,2590 1272.6,2547.7 C1272.6,2505 1279,2477.8 1286.6,2477.8 C1289,2477.8 1291,2484 1292.4,2490.6 Z M1280.8,2490.6 L1327.3,2490.6 L1302.9,2522.1 Z" fill="#e4002b" stroke="#3a1a1a" stroke-width="0.8"/><g clip-path="url(#arrowR)"><path d="M1315.7,2490.6 C1312,2475 1300,2454.5 1285.4,2454.5 C1262,2454.5 1251.6,2500 1251.6,2547.7 C1251.6,2600 1265,2642 1285.4,2642 C1296,2642 1309,2630 1313.4,2607.1 L1299.4,2607.1 C1297,2615 1293,2621.1 1287.7,2621.1 C1278,2621.1 1272.6,2590 1272.6,2547.7 C1272.6,2505 1279,2477.8 1286.6,2477.8 C1289,2477.8 1291,2484 1292.4,2490.6 Z M1280.8,2490.6 L1327.3,2490.6 L1302.9,2522.1 Z" fill="#a8001f" stroke="#3a1a1a" stroke-width="0.8"/></g><rect x="1607.5" y="83.1" width="1062.9" height="630.9" fill="url(#sky)"/><rect x="1607.5" y="83.1" width="651.0999999999999" height="630.9" fill="#e1e2e4"/><g clip-path="url(#cr1)"><use href="#stones" transform="translate(1556.5,80.1) scale(0.346789)"/></g><g transform="translate(1607.5,83.1)"><path d="M47.8,312.5 L63.4,281.3 L651.1,281.3 L651.1,346.5 L63.4,346.5Z" fill="url(#holeB)"/><path d="M79.0,313.3 C85.0,307.3 94.0,302.3 102.0,301.3 L200.0,301.3 L200.0,325.3 L102.0,325.3 C94.0,324.3 85.0,319.3 79.0,313.3Z" fill="url(#screwg)" stroke="#231f20" stroke-width="1.1"/><path d="M99.0,299.3 C101.5,299.3 105.0,309.1 105.5,313.3 C106.0,318.9 108.0,327.3 110.0,327.3" fill="none" stroke="#231f20" stroke-width="5.2" stroke-linecap="round"/><path d="M99.0,299.3 C101.5,299.3 105.0,309.1 105.5,313.3 C106.0,318.9 108.0,327.3 110.0,327.3" fill="none" stroke="#e9e9ea" stroke-width="3.3" stroke-linecap="round"/><path d="M116.2,294.8 C118.7,294.8 122.2,307.8 122.7,313.3 C123.2,320.7 125.2,331.8 127.2,331.8" fill="none" stroke="#231f20" stroke-width="5.2" stroke-linecap="round"/><path d="M116.2,294.8 C118.7,294.8 122.2,307.8 122.7,313.3 C123.2,320.7 125.2,331.8 127.2,331.8" fill="none" stroke="#e9e9ea" stroke-width="3.3" stroke-linecap="round"/><path d="M133.4,294.8 C135.9,294.8 139.4,307.8 139.9,313.3 C140.4,320.7 142.4,331.8 144.4,331.8" fill="none" stroke="#231f20" stroke-width="5.2" stroke-linecap="round"/><path d="M133.4,294.8 C135.9,294.8 139.4,307.8 139.9,313.3 C140.4,320.7 142.4,331.8 144.4,331.8" fill="none" stroke="#e9e9ea" stroke-width="3.3" stroke-linecap="round"/><path d="M150.6,294.8 C153.1,294.8 156.6,307.8 157.1,313.3 C157.6,320.7 159.6,331.8 161.6,331.8" fill="none" stroke="#231f20" stroke-width="5.2" stroke-linecap="round"/><path d="M150.6,294.8 C153.1,294.8 156.6,307.8 157.1,313.3 C157.6,320.7 159.6,331.8 161.6,331.8" fill="none" stroke="#e9e9ea" stroke-width="3.3" stroke-linecap="round"/><path d="M167.8,294.8 C170.3,294.8 173.8,307.8 174.3,313.3 C174.8,320.7 176.8,331.8 178.8,331.8" fill="none" stroke="#231f20" stroke-width="5.2" stroke-linecap="round"/><path d="M167.8,294.8 C170.3,294.8 173.8,307.8 174.3,313.3 C174.8,320.7 176.8,331.8 178.8,331.8" fill="none" stroke="#e9e9ea" stroke-width="3.3" stroke-linecap="round"/><path d="M185.0,294.8 C187.5,294.8 191.0,307.8 191.5,313.3 C192.0,320.7 194.0,331.8 196.0,331.8" fill="none" stroke="#231f20" stroke-width="5.2" stroke-linecap="round"/><path d="M185.0,294.8 C187.5,294.8 191.0,307.8 191.5,313.3 C192.0,320.7 194.0,331.8 196.0,331.8" fill="none" stroke="#e9e9ea" stroke-width="3.3" stroke-linecap="round"/><path d="M555.8,280.7 C564.8,275.2 574.8,270.2 587.5,269.4 L651.5,269.4 L651.5,357.0 L587.5,357.0 C574.8,356.2 564.8,351.2 555.8,345.7 Z" fill="url(#plastH)"/><rect x="563.8" y="281.7" width="87.7" height="5.7" fill="url(#shadeDn)"/><rect x="563.8" y="338.6" width="87.7" height="5.7" fill="url(#shadeUp)"/><rect x="563.8" y="303.6" width="87.7" height="7.9" fill="url(#shadeDn)" opacity="0.6"/><rect x="563.8" y="315.0" width="87.7" height="7.9" fill="url(#shadeUp)" opacity="0.6"/><path d="M556.8,280.7 C564.8,285.2 579.8,287.0 599.8,287.0 L651.5,287.1 M562.8,307.2 C569.8,303.7 584.8,302.0 609.8,301.9 L651.5,301.9 M556.8,313.2 L651.5,313.2 M562.8,319.2 C569.8,322.7 584.8,324.0 609.8,324.1 L651.5,324.1 M556.8,345.7 C564.8,340.2 579.8,338.6 609.8,338.6 L651.5,338.6 M555.8,280.7 C563.8,289.2 564.8,303.2 556.8,313.2 C564.8,323.2 563.8,337.2 555.8,345.7" fill="none" stroke="#231f20" stroke-width="1.4"/><path d="M555.8,280.7 C564.8,275.2 574.8,270.2 587.5,269.4 L651.5,269.4 L651.5,357.0 L587.5,357.0 C574.8,356.2 564.8,351.2 555.8,345.7 Z" fill="none" stroke="#231f20" stroke-width="1.4"/><rect x="279.7" y="280.6" width="277.0" height="65.1" fill="url(#plast)" stroke="#231f20" stroke-width="1"/><rect x="280.9" y="308.6" width="275.8" height="9.2" fill="#c8c9cb" stroke="#231f20" stroke-width="1"/><path d="M315.2,293.9 L332.3,288.0 L332.3,299.8 L330.7,308.2Z" fill="#d9dadc"/><path d="M315.2,293.9 L326.2,283.6 L343.5,278.3 L332.3,288.0Z" fill="#f7f7f7"/><path d="M332.3,288.0 L343.5,278.3 L343.5,299.5 L332.3,299.8Z" fill="#a9abae"/><path d="M332.3,299.8 L343.5,299.5 L352.0,308.2 L340.0,308.2Z" fill="#cfd0d2"/><path d="M330.7,308.2 L315.2,293.9 L326.2,283.6 L343.5,278.3 L343.5,299.5 L352.0,308.2 M315.2,293.9 L332.3,288.0 L343.5,278.3 M332.3,288.0 L332.3,299.8 L343.5,299.5 M332.3,299.8 L340.0,308.2" fill="none" stroke="#231f20" stroke-width="1.2"/><path d="M315.2,332.5 L332.3,338.4 L332.3,326.6 L330.7,318.2Z" fill="#d9dadc"/><path d="M315.2,332.5 L326.2,342.8 L343.5,348.1 L332.3,338.4Z" fill="#f7f7f7"/><path d="M332.3,338.4 L343.5,348.1 L343.5,326.9 L332.3,326.6Z" fill="#a9abae"/><path d="M332.3,326.6 L343.5,326.9 L352.0,318.2 L340.0,318.2Z" fill="#cfd0d2"/><path d="M330.7,318.2 L315.2,332.5 L326.2,342.8 L343.5,348.1 L343.5,326.9 L352.0,318.2 M315.2,332.5 L332.3,338.4 L343.5,348.1 M332.3,338.4 L332.3,326.6 L343.5,326.9 M332.3,326.6 L340.0,318.2" fill="none" stroke="#231f20" stroke-width="1.2"/><path d="M343.8,293.9 L360.9,288.0 L360.9,299.8 L359.3,308.2Z" fill="#d9dadc"/><path d="M343.8,293.9 L354.8,282.7 L372.1,277.0 L360.9,288.0Z" fill="#f7f7f7"/><path d="M360.9,288.0 L372.1,277.0 L372.1,299.5 L360.9,299.8Z" fill="#a9abae"/><path d="M360.9,299.8 L372.1,299.5 L380.6,308.2 L368.6,308.2Z" fill="#cfd0d2"/><path d="M359.3,308.2 L343.8,293.9 L354.8,282.7 L372.1,277.0 L372.1,299.5 L380.6,308.2 M343.8,293.9 L360.9,288.0 L372.1,277.0 M360.9,288.0 L360.9,299.8 L372.1,299.5 M360.9,299.8 L368.6,308.2" fill="none" stroke="#231f20" stroke-width="1.2"/><path d="M343.8,332.5 L360.9,338.4 L360.9,326.6 L359.3,318.2Z" fill="#d9dadc"/><path d="M343.8,332.5 L354.8,343.7 L372.1,349.4 L360.9,338.4Z" fill="#f7f7f7"/><path d="M360.9,338.4 L372.1,349.4 L372.1,326.9 L360.9,326.6Z" fill="#a9abae"/><path d="M360.9,326.6 L372.1,326.9 L380.6,318.2 L368.6,318.2Z" fill="#cfd0d2"/><path d="M359.3,318.2 L343.8,332.5 L354.8,343.7 L372.1,349.4 L372.1,326.9 L380.6,318.2 M343.8,332.5 L360.9,338.4 L372.1,349.4 M360.9,338.4 L360.9,326.6 L372.1,326.9 M360.9,326.6 L368.6,318.2" fill="none" stroke="#231f20" stroke-width="1.2"/><path d="M372.4,293.9 L389.5,288.0 L389.5,299.8 L387.9,308.2Z" fill="#d9dadc"/><path d="M372.4,293.9 L383.4,281.9 L400.7,275.7 L389.5,288.0Z" fill="#f7f7f7"/><path d="M389.5,288.0 L400.7,275.7 L400.7,299.5 L389.5,299.8Z" fill="#a9abae"/><path d="M389.5,299.8 L400.7,299.5 L409.2,308.2 L397.2,308.2Z" fill="#cfd0d2"/><path d="M387.9,308.2 L372.4,293.9 L383.4,281.9 L400.7,275.7 L400.7,299.5 L409.2,308.2 M372.4,293.9 L389.5,288.0 L400.7,275.7 M389.5,288.0 L389.5,299.8 L400.7,299.5 M389.5,299.8 L397.2,308.2" fill="none" stroke="#231f20" stroke-width="1.2"/><path d="M372.4,332.5 L389.5,338.4 L389.5,326.6 L387.9,318.2Z" fill="#d9dadc"/><path d="M372.4,332.5 L383.4,344.5 L400.7,350.7 L389.5,338.4Z" fill="#f7f7f7"/><path d="M389.5,338.4 L400.7,350.7 L400.7,326.9 L389.5,326.6Z" fill="#a9abae"/><path d="M389.5,326.6 L400.7,326.9 L409.2,318.2 L397.2,318.2Z" fill="#cfd0d2"/><path d="M387.9,318.2 L372.4,332.5 L383.4,344.5 L400.7,350.7 L400.7,326.9 L409.2,318.2 M372.4,332.5 L389.5,338.4 L400.7,350.7 M389.5,338.4 L389.5,326.6 L400.7,326.9 M389.5,326.6 L397.2,318.2" fill="none" stroke="#231f20" stroke-width="1.2"/><path d="M401.0,293.9 L418.1,288.0 L418.1,299.8 L416.5,308.2Z" fill="#d9dadc"/><path d="M401.0,293.9 L412.0,281.0 L429.3,274.4 L418.1,288.0Z" fill="#f7f7f7"/><path d="M418.1,288.0 L429.3,274.4 L429.3,299.5 L418.1,299.8Z" fill="#a9abae"/><path d="M418.1,299.8 L429.3,299.5 L437.8,308.2 L425.8,308.2Z" fill="#cfd0d2"/><path d="M416.5,308.2 L401.0,293.9 L412.0,281.0 L429.3,274.4 L429.3,299.5 L437.8,308.2 M401.0,293.9 L418.1,288.0 L429.3,274.4 M418.1,288.0 L418.1,299.8 L429.3,299.5 M418.1,299.8 L425.8,308.2" fill="none" stroke="#231f20" stroke-width="1.2"/><path d="M401.0,332.5 L418.1,338.4 L418.1,326.6 L416.5,318.2Z" fill="#d9dadc"/><path d="M401.0,332.5 L412.0,345.4 L429.3,352.0 L418.1,338.4Z" fill="#f7f7f7"/><path d="M418.1,338.4 L429.3,352.0 L429.3,326.9 L418.1,326.6Z" fill="#a9abae"/><path d="M418.1,326.6 L429.3,326.9 L437.8,318.2 L425.8,318.2Z" fill="#cfd0d2"/><path d="M416.5,318.2 L401.0,332.5 L412.0,345.4 L429.3,352.0 L429.3,326.9 L437.8,318.2 M401.0,332.5 L418.1,338.4 L429.3,352.0 M418.1,338.4 L418.1,326.6 L429.3,326.9 M418.1,326.6 L425.8,318.2" fill="none" stroke="#231f20" stroke-width="1.2"/><path d="M429.6,293.9 L446.7,288.0 L446.7,299.8 L445.1,308.2Z" fill="#d9dadc"/><path d="M429.6,293.9 L440.6,280.2 L457.9,273.1 L446.7,288.0Z" fill="#f7f7f7"/><path d="M446.7,288.0 L457.9,273.1 L457.9,299.5 L446.7,299.8Z" fill="#a9abae"/><path d="M446.7,299.8 L457.9,299.5 L466.4,308.2 L454.4,308.2Z" fill="#cfd0d2"/><path d="M445.1,308.2 L429.6,293.9 L440.6,280.2 L457.9,273.1 L457.9,299.5 L466.4,308.2 M429.6,293.9 L446.7,288.0 L457.9,273.1 M446.7,288.0 L446.7,299.8 L457.9,299.5 M446.7,299.8 L454.4,308.2" fill="none" stroke="#231f20" stroke-width="1.2"/><path d="M429.6,332.5 L446.7,338.4 L446.7,326.6 L445.1,318.2Z" fill="#d9dadc"/><path d="M429.6,332.5 L440.6,346.2 L457.9,353.3 L446.7,338.4Z" fill="#f7f7f7"/><path d="M446.7,338.4 L457.9,353.3 L457.9,326.9 L446.7,326.6Z" fill="#a9abae"/><path d="M446.7,326.6 L457.9,326.9 L466.4,318.2 L454.4,318.2Z" fill="#cfd0d2"/><path d="M445.1,318.2 L429.6,332.5 L440.6,346.2 L457.9,353.3 L457.9,326.9 L466.4,318.2 M429.6,332.5 L446.7,338.4 L457.9,353.3 M446.7,338.4 L446.7,326.6 L457.9,326.9 M446.7,326.6 L454.4,318.2" fill="none" stroke="#231f20" stroke-width="1.2"/><path d="M458.2,293.9 L475.3,288.0 L475.3,299.8 L473.7,308.2Z" fill="#d9dadc"/><path d="M458.2,293.9 L469.2,279.3 L486.5,271.8 L475.3,288.0Z" fill="#f7f7f7"/><path d="M475.3,288.0 L486.5,271.8 L486.5,299.5 L475.3,299.8Z" fill="#a9abae"/><path d="M475.3,299.8 L486.5,299.5 L495.0,308.2 L483.0,308.2Z" fill="#cfd0d2"/><path d="M473.7,308.2 L458.2,293.9 L469.2,279.3 L486.5,271.8 L486.5,299.5 L495.0,308.2 M458.2,293.9 L475.3,288.0 L486.5,271.8 M475.3,288.0 L475.3,299.8 L486.5,299.5 M475.3,299.8 L483.0,308.2" fill="none" stroke="#231f20" stroke-width="1.2"/><path d="M458.2,332.5 L475.3,338.4 L475.3,326.6 L473.7,318.2Z" fill="#d9dadc"/><path d="M458.2,332.5 L469.2,347.1 L486.5,354.6 L475.3,338.4Z" fill="#f7f7f7"/><path d="M475.3,338.4 L486.5,354.6 L486.5,326.9 L475.3,326.6Z" fill="#a9abae"/><path d="M475.3,326.6 L486.5,326.9 L495.0,318.2 L483.0,318.2Z" fill="#cfd0d2"/><path d="M473.7,318.2 L458.2,332.5 L469.2,347.1 L486.5,354.6 L486.5,326.9 L495.0,318.2 M458.2,332.5 L475.3,338.4 L486.5,354.6 M475.3,338.4 L475.3,326.6 L486.5,326.9 M475.3,326.6 L483.0,318.2" fill="none" stroke="#231f20" stroke-width="1.2"/><path d="M486.8,293.9 L503.9,288.0 L503.9,299.8 L502.3,308.2Z" fill="#d9dadc"/><path d="M486.8,293.9 L497.8,278.5 L515.1,270.5 L503.9,288.0Z" fill="#f7f7f7"/><path d="M503.9,288.0 L515.1,270.5 L515.1,299.5 L503.9,299.8Z" fill="#a9abae"/><path d="M503.9,299.8 L515.1,299.5 L523.6,308.2 L511.6,308.2Z" fill="#cfd0d2"/><path d="M502.3,308.2 L486.8,293.9 L497.8,278.5 L515.1,270.5 L515.1,299.5 L523.6,308.2 M486.8,293.9 L503.9,288.0 L515.1,270.5 M503.9,288.0 L503.9,299.8 L515.1,299.5 M503.9,299.8 L511.6,308.2" fill="none" stroke="#231f20" stroke-width="1.2"/><path d="M486.8,332.5 L503.9,338.4 L503.9,326.6 L502.3,318.2Z" fill="#d9dadc"/><path d="M486.8,332.5 L497.8,347.9 L515.1,355.9 L503.9,338.4Z" fill="#f7f7f7"/><path d="M503.9,338.4 L515.1,355.9 L515.1,326.9 L503.9,326.6Z" fill="#a9abae"/><path d="M503.9,326.6 L515.1,326.9 L523.6,318.2 L511.6,318.2Z" fill="#cfd0d2"/><path d="M502.3,318.2 L486.8,332.5 L497.8,347.9 L515.1,355.9 L515.1,326.9 L523.6,318.2 M486.8,332.5 L503.9,338.4 L515.1,355.9 M503.9,338.4 L503.9,326.6 L515.1,326.9 M503.9,326.6 L511.6,318.2" fill="none" stroke="#231f20" stroke-width="1.2"/><rect x="259.8" y="284.3" width="19.9" height="57.7" fill="url(#plast)" stroke="#231f20" stroke-width="1"/><path d="M195.2,304.7 L208.9,280.6 L259.8,280.6 L259.8,345.8 L208.9,345.8 L195.2,337.2Z" fill="url(#plast)" stroke="#231f20" stroke-width="1"/><path d="M208.9,280.6 L208.9,345.8" stroke="#231f20" stroke-width="0.9"/><rect x="651.5" y="265.0" width="9.3" height="95.7" rx="4.6" fill="url(#flg)" stroke="#231f20" stroke-width="1.3"/><rect x="659.8" y="167.9" width="88.5" height="295.79999999999995" fill="#9d6321"/><path d="M678.0,169.4 C677.8,175.8 678.5,194.7 676.4,207.8 C674.4,220.9 668.7,238.4 665.9,248.1 C663.1,257.7 660.8,262.6 659.8,265.5" fill="none" stroke="#6a431c" stroke-width="1.4"/><path d="M696.6,169.4 C697.2,175.8 700.7,193.4 699.9,207.8 C699.1,222.3 694.6,241.0 691.7,256.0 C688.9,271.1 684.4,291.1 682.9,298.1" fill="none" stroke="#6a431c" stroke-width="1.4"/><path d="M718.4,169.4 C718.3,177.2 718.5,201.7 717.6,216.1 C716.7,230.6 712.8,242.4 712.8,256.0 C712.8,269.7 716.8,291.1 717.6,298.1" fill="none" stroke="#6a431c" stroke-width="1.4"/><path d="M734.6,169.4 C734.2,175.8 733.3,194.7 732.1,207.8 C730.9,220.9 727.3,237.0 727.3,248.1 C727.3,259.2 731.3,270.0 732.1,274.4" fill="none" stroke="#6a431c" stroke-width="1.4"/><path d="M659.8,357.2 C662.1,360.4 671.2,366.6 673.9,376.4 C676.5,386.3 676.6,402.0 675.6,416.4 C674.5,430.8 668.9,455.1 667.6,462.8" fill="none" stroke="#6a431c" stroke-width="1.4"/><path d="M688.6,333.5 C688.3,339.3 686.7,354.4 687.0,368.2 C687.2,382.0 689.9,400.6 690.2,416.4 C690.4,432.1 688.8,455.1 688.6,462.8" fill="none" stroke="#6a431c" stroke-width="1.4"/><path d="M704.7,462.8 C704.3,447.1 702.0,390.2 702.3,368.5 C702.6,346.7 704.6,336.4 706.4,332.4 C708.1,328.3 710.1,339.6 712.8,344.2 C715.5,348.8 716.5,356.0 722.5,360.2 C728.4,364.3 744.0,367.6 748.3,369.0" fill="none" stroke="#6a431c" stroke-width="1.4"/><path d="M717.6,462.8 C717.3,452.4 715.2,413.0 716.0,400.4 C716.8,387.8 719.8,387.9 722.5,387.4 C725.2,386.8 729.8,389.7 732.2,397.1 C734.6,404.6 734.3,423.7 737.0,432.3 C739.7,441.0 746.4,446.1 748.3,448.9" fill="none" stroke="#6a431c" stroke-width="1.4"/><rect x="659.8" y="167.9" width="88.5" height="295.79999999999995" fill="none" stroke="#231f20" stroke-width="1.4"/><path d="M660.5,293.2 L716.8,293.2 L748.3,266.9 L748.3,360.1 L716.8,333.8 L660.5,333.8Z" fill="#6b431a"/><rect x="660.5" y="299.2" width="56.3" height="28.6" fill="url(#screwg)" stroke="#231f20" stroke-width="1"/><path d="M716.8,299.2 L748.3,273.9 L748.3,353.1 L716.8,327.8Z" fill="url(#screwg)" stroke="#231f20" stroke-width="1"/><path d="M814.7,315.1 C820.7,307.1 836.8,293.1 857.1,286.6 C873.0,281.6 887.1,279.8 899.7,279.8 L1062.9,279.8 L1062.9,350.4 L899.7,350.4 C887.1,350.4 873.0,348.6 857.1,343.6 C836.8,337.1 820.7,323.1 814.7,315.1Z" fill="url(#bitg)" stroke="#231f20" stroke-width="1.3"/><path d="M817.1,312.6 C816.4,311.2 838.4,301.6 844.7,298.9 C851.0,296.2 865.7,291.4 869.6,290.2 C873.6,289.0 875.5,288.7 877.8,289.0 C880.0,289.3 885.9,291.6 888.3,292.7 C890.7,293.8 896.4,297.2 897.8,298.3 C899.2,299.4 900.4,301.1 900.2,302.0 C900.0,302.9 898.8,305.0 895.9,305.7 C893.0,306.4 881.3,307.6 875.9,308.2 C870.5,308.8 858.0,310.2 850.9,310.7 C843.9,311.2 817.9,314.0 817.1,312.6Z" fill="url(#flute)" stroke="#231f20" stroke-width="0.8"/><path d="M817.1,318.5 C817.9,316.7 843.9,319.5 850.9,320.0 C858.0,320.5 870.5,321.8 875.9,322.5 C881.3,323.2 893.0,324.9 895.9,325.6 C898.8,326.3 900.0,327.8 900.2,328.7 C900.4,329.6 899.2,332.0 897.8,333.1 C896.4,334.2 890.7,336.8 888.3,338.0 C885.9,339.2 880.0,342.2 877.8,342.7 C875.5,343.2 873.6,342.7 869.6,341.8 C865.7,340.9 851.0,337.7 844.7,334.9 C838.4,332.1 816.4,320.3 817.1,318.5Z" fill="url(#flute)" stroke="#231f20" stroke-width="0.8"/></g><rect x="1607.5" y="799.5" width="1062.9" height="630.5" fill="url(#sky)"/><rect x="2135.3" y="800" width="123.29999999999973" height="629.5" fill="#fdfcec"/><g fill="#c6c7ca" clip-path="url(#insclip)"><circle cx="2192.0" cy="1152.9" r="5.5"/><circle cx="2240.8" cy="1092.9" r="5.5"/><circle cx="2197.8" cy="1170.5" r="5.5"/><circle cx="2164.4" cy="1122.3" r="5.5"/><circle cx="2210.4" cy="1301.5" r="5.5"/><circle cx="2155.0" cy="989.4" r="5.5"/><circle cx="2154.7" cy="1312.1" r="5.5"/><circle cx="2216.9" cy="822.7" r="5.5"/><circle cx="2246.8" cy="1411.0" r="5.5"/><circle cx="2212.9" cy="1188.4" r="5.5"/><circle cx="2161.6" cy="805.6" r="5.5"/><circle cx="2199.9" cy="834.0" r="5.5"/><circle cx="2164.9" cy="950.2" r="5.5"/><circle cx="2148.4" cy="1091.8" r="5.5"/><circle cx="2190.8" cy="1333.0" r="5.5"/><circle cx="2198.9" cy="1204.2" r="5.5"/><circle cx="2196.9" cy="1218.3" r="5.5"/><circle cx="2192.5" cy="973.3" r="5.5"/><circle cx="2248.4" cy="1430.8" r="5.5"/><circle cx="2232.1" cy="1247.2" r="5.5"/><circle cx="2177.9" cy="942.4" r="5.5"/><circle cx="2175.2" cy="840.8" r="5.5"/><circle cx="2224.5" cy="1051.3" r="5.5"/><circle cx="2244.3" cy="1336.2" r="5.5"/><circle cx="2145.4" cy="929.7" r="5.5"/><circle cx="2246.6" cy="1049.4" r="5.5"/><circle cx="2152.8" cy="1197.3" r="5.5"/><circle cx="2225.7" cy="968.0" r="5.5"/><circle cx="2154.3" cy="1008.0" r="5.5"/><circle cx="2244.9" cy="1279.3" r="5.5"/><circle cx="2155.7" cy="834.2" r="5.5"/><circle cx="2227.6" cy="909.3" r="5.5"/><circle cx="2203.1" cy="1081.2" r="5.5"/><circle cx="2165.0" cy="1262.6" r="5.5"/><circle cx="2157.3" cy="1064.2" r="5.5"/><circle cx="2167.3" cy="968.0" r="5.5"/><circle cx="2245.6" cy="1308.2" r="5.5"/><circle cx="2176.7" cy="1360.1" r="5.5"/><circle cx="2167.1" cy="1047.4" r="5.5"/><circle cx="2233.6" cy="1205.2" r="5.5"/><circle cx="2155.7" cy="1426.7" r="5.5"/><circle cx="2225.1" cy="1005.7" r="5.5"/><circle cx="2154.6" cy="1167.5" r="5.5"/><circle cx="2170.4" cy="1179.3" r="5.5"/><circle cx="2183.7" cy="1084.9" r="5.5"/><circle cx="2204.7" cy="1348.4" r="5.5"/><circle cx="2164.2" cy="894.3" r="5.5"/><circle cx="2171.1" cy="917.0" r="5.5"/><circle cx="2221.7" cy="1395.5" r="5.5"/><circle cx="2165.6" cy="1401.7" r="5.5"/><circle cx="2236.4" cy="1180.8" r="5.5"/><circle cx="2188.8" cy="862.2" r="5.5"/><circle cx="2149.3" cy="1409.7" r="5.5"/><circle cx="2169.9" cy="1245.2" r="5.5"/><circle cx="2171.8" cy="1321.1" r="5.5"/><circle cx="2206.9" cy="983.1" r="5.5"/><circle cx="2240.1" cy="926.0" r="5.5"/><circle cx="2147.0" cy="967.6" r="5.5"/><circle cx="2163.5" cy="1031.1" r="5.5"/><circle cx="2204.4" cy="879.9" r="5.5"/><circle cx="2246.6" cy="1214.8" r="5.5"/><circle cx="2216.7" cy="1168.6" r="5.5"/><circle cx="2147.1" cy="1376.3" r="5.5"/><circle cx="2217.7" cy="1409.8" r="5.5"/><circle cx="2195.1" cy="1261.7" r="5.5"/><circle cx="2178.2" cy="1433.1" r="5.5"/><circle cx="2153.1" cy="1144.1" r="5.5"/><circle cx="2221.4" cy="1369.9" r="5.5"/><circle cx="2181.6" cy="1232.8" r="5.5"/><circle cx="2238.4" cy="1351.3" r="5.5"/><circle cx="2188.4" cy="1300.0" r="5.5"/><circle cx="2234.5" cy="1161.2" r="5.5"/><circle cx="2209.9" cy="1039.7" r="5.5"/><circle cx="2154.0" cy="1274.3" r="5.5"/><circle cx="2195.0" cy="942.8" r="5.5"/><circle cx="2217.4" cy="1113.0" r="5.5"/><circle cx="2208.8" cy="1382.8" r="5.5"/><circle cx="2191.0" cy="1364.5" r="5.5"/><circle cx="2205.5" cy="997.8" r="5.5"/><circle cx="2235.5" cy="822.4" r="5.5"/><circle cx="2147.3" cy="882.6" r="5.5"/><circle cx="2192.3" cy="811.8" r="5.5"/><circle cx="2231.0" cy="947.3" r="5.5"/><circle cx="2210.4" cy="1213.6" r="5.5"/><circle cx="2216.0" cy="923.1" r="5.5"/><circle cx="2194.4" cy="909.9" r="5.5"/><circle cx="2173.4" cy="1016.4" r="5.5"/><circle cx="2217.3" cy="1127.8" r="5.5"/><circle cx="2208.8" cy="1278.1" r="5.5"/><circle cx="2238.9" cy="851.6" r="5.5"/><circle cx="2219.9" cy="1317.7" r="5.5"/><circle cx="2211.6" cy="1253.5" r="5.5"/><circle cx="2178.4" cy="1376.1" r="5.5"/><circle cx="2233.7" cy="1018.2" r="5.5"/><circle cx="2228.9" cy="836.8" r="5.5"/><circle cx="2243.0" cy="1110.0" r="5.5"/><circle cx="2166.8" cy="1338.4" r="5.5"/><circle cx="2245.3" cy="1130.2" r="5.5"/><circle cx="2200.7" cy="1116.8" r="5.5"/><circle cx="2200.9" cy="1059.8" r="5.5"/><circle cx="2244.1" cy="1384.7" r="5.5"/><circle cx="2173.1" cy="1097.6" r="5.5"/><circle cx="2240.9" cy="878.5" r="5.5"/><circle cx="2225.8" cy="810.5" r="5.5"/><circle cx="2182.0" cy="1191.1" r="5.5"/><circle cx="2184.1" cy="1059.5" r="5.5"/><circle cx="2238.5" cy="997.4" r="5.5"/><circle cx="2172.1" cy="857.8" r="5.5"/><circle cx="2231.3" cy="1064.8" r="5.5"/><circle cx="2197.2" cy="1233.1" r="5.5"/><circle cx="2156.3" cy="819.9" r="5.5"/><circle cx="2232.1" cy="1427.3" r="5.5"/><circle cx="2193.0" cy="1283.5" r="5.5"/><circle cx="2207.4" cy="804.4" r="5.5"/><circle cx="2217.7" cy="1334.2" r="5.5"/><circle cx="2164.0" cy="1085.4" r="5.5"/><circle cx="2222.2" cy="1292.0" r="5.5"/><circle cx="2146.4" cy="1022.7" r="5.5"/><circle cx="2246.5" cy="810.5" r="5.5"/><circle cx="2213.0" cy="1153.4" r="5.5"/><circle cx="2175.9" cy="804.9" r="5.5"/><circle cx="2170.6" cy="823.3" r="5.5"/><circle cx="2189.7" cy="1100.5" r="5.5"/><circle cx="2245.8" cy="951.4" r="5.5"/><circle cx="2199.4" cy="1393.5" r="5.5"/><circle cx="2220.0" cy="1094.6" r="5.5"/><circle cx="2157.1" cy="1365.1" r="5.5"/><circle cx="2171.0" cy="1420.6" r="5.5"/><circle cx="2209.7" cy="861.3" r="5.5"/><circle cx="2154.2" cy="1227.1" r="5.5"/><circle cx="2212.8" cy="1426.6" r="5.5"/><circle cx="2178.9" cy="1145.7" r="5.5"/><circle cx="2189.5" cy="1031.4" r="5.5"/><circle cx="2153.4" cy="848.9" r="5.5"/><circle cx="2167.3" cy="1218.1" r="5.5"/><circle cx="2220.2" cy="1238.4" r="5.5"/><circle cx="2241.9" cy="1366.4" r="5.5"/><circle cx="2165.4" cy="1155.4" r="5.5"/><circle cx="2227.6" cy="1140.6" r="5.5"/><circle cx="2147.6" cy="1124.7" r="5.5"/><circle cx="2212.3" cy="952.5" r="5.5"/><circle cx="2168.1" cy="1283.9" r="5.5"/><circle cx="2196.3" cy="1138.6" r="5.5"/><circle cx="2230.6" cy="1221.0" r="5.5"/><circle cx="2188.7" cy="889.2" r="5.5"/><circle cx="2149.1" cy="865.3" r="5.5"/><circle cx="2164.4" cy="934.6" r="5.5"/><circle cx="2177.5" cy="994.1" r="5.5"/><circle cx="2193.0" cy="1412.4" r="5.5"/><circle cx="2161.5" cy="875.1" r="5.5"/><circle cx="2185.2" cy="1007.3" r="5.5"/><circle cx="2180.7" cy="1210.8" r="5.5"/><circle cx="2181.7" cy="1115.0" r="5.5"/><circle cx="2148.6" cy="910.8" r="5.5"/><circle cx="2223.6" cy="1275.2" r="5.5"/><circle cx="2195.5" cy="1430.1" r="5.5"/><circle cx="2223.0" cy="990.3" r="5.5"/><circle cx="2243.5" cy="796.4" r="5.5"/><circle cx="2194.1" cy="927.6" r="5.5"/><circle cx="2219.0" cy="882.0" r="5.5"/><circle cx="2191.3" cy="846.4" r="5.5"/><circle cx="2243.6" cy="906.9" r="5.5"/><circle cx="2172.5" cy="1305.1" r="5.5"/><circle cx="2149.4" cy="949.4" r="5.5"/><circle cx="2247.9" cy="1229.0" r="5.5"/><circle cx="2216.7" cy="1027.3" r="5.5"/><circle cx="2189.5" cy="1046.2" r="5.5"/><circle cx="2151.5" cy="1040.4" r="5.5"/><circle cx="2178.9" cy="957.5" r="5.5"/><circle cx="2236.2" cy="1039.4" r="5.5"/><circle cx="2203.2" cy="1325.8" r="5.5"/><circle cx="2231.1" cy="1306.8" r="5.5"/><circle cx="2216.3" cy="1063.3" r="5.5"/><circle cx="2150.3" cy="1250.7" r="5.5"/><circle cx="2186.8" cy="1349.0" r="5.5"/><circle cx="2247.9" cy="837.3" r="5.5"/><circle cx="2189.2" cy="1318.8" r="5.5"/><circle cx="2221.9" cy="849.3" r="5.5"/><circle cx="2146.9" cy="1344.1" r="5.5"/><circle cx="2233.1" cy="894.7" r="5.5"/><circle cx="2150.4" cy="1328.7" r="5.5"/><circle cx="2146.2" cy="1055.2" r="5.5"/><circle cx="2205.6" cy="1102.3" r="5.5"/><circle cx="2165.9" cy="1137.0" r="5.5"/><circle cx="2158.9" cy="1105.1" r="5.5"/><circle cx="2150.9" cy="1393.1" r="5.5"/><circle cx="2203.8" cy="1018.3" r="5.5"/><circle cx="2146.8" cy="1287.0" r="5.5"/><circle cx="2205.6" cy="896.5" r="5.5"/><circle cx="2243.2" cy="977.1" r="5.5"/><circle cx="2208.7" cy="936.8" r="5.5"/><circle cx="2179.8" cy="1406.6" r="5.5"/><circle cx="2184.9" cy="1247.4" r="5.5"/><circle cx="2221.8" cy="1348.0" r="5.5"/><circle cx="2145.4" cy="796.6" r="5.5"/><circle cx="2178.1" cy="903.4" r="5.5"/><circle cx="2229.0" cy="1382.5" r="5.5"/><circle cx="2236.9" cy="1399.5" r="5.5"/><circle cx="2248.1" cy="1192.1" r="5.5"/><circle cx="2207.4" cy="968.4" r="5.5"/><circle cx="2248.1" cy="1008.5" r="5.5"/><circle cx="2224.5" cy="1080.6" r="5.5"/><circle cx="2230.4" cy="1327.5" r="5.5"/><circle cx="2181.7" cy="1166.2" r="5.5"/><circle cx="2148.3" cy="1182.4" r="5.5"/><circle cx="2181.8" cy="1390.2" r="5.5"/><circle cx="2205.9" cy="1365.5" r="5.5"/><circle cx="2244.1" cy="1258.5" r="5.5"/><circle cx="2246.6" cy="1026.1" r="5.5"/><circle cx="2169.1" cy="1198.8" r="5.5"/><circle cx="2248.5" cy="1172.1" r="5.5"/><circle cx="2183.4" cy="1270.9" r="5.5"/><circle cx="2243.6" cy="1149.6" r="5.5"/><circle cx="2229.3" cy="864.2" r="5.5"/><circle cx="2248.3" cy="1075.2" r="5.5"/><circle cx="2205.5" cy="847.7" r="5.5"/><circle cx="2177.4" cy="872.5" r="5.5"/><circle cx="2173.6" cy="1070.7" r="5.5"/><circle cx="2198.0" cy="1185.6" r="5.5"/><circle cx="2157.0" cy="1298.0" r="5.5"/><circle cx="2148.6" cy="1077.1" r="5.5"/><circle cx="2245.9" cy="1243.2" r="5.5"/><circle cx="2232.7" cy="1122.5" r="5.5"/><circle cx="2192.0" cy="992.9" r="5.5"/><circle cx="2165.8" cy="1387.1" r="5.5"/><circle cx="2223.2" cy="796.4" r="5.5"/><circle cx="2177.8" cy="977.7" r="5.5"/><circle cx="2246.5" cy="864.8" r="5.5"/><circle cx="2185.1" cy="824.1" r="5.5"/><circle cx="2208.9" cy="910.4" r="5.5"/><circle cx="2231.9" cy="1413.1" r="5.5"/><circle cx="2192.5" cy="1378.9" r="5.5"/><circle cx="2188.7" cy="796.1" r="5.5"/><circle cx="2151.7" cy="1212.9" r="5.5"/><circle cx="2184.5" cy="1130.0" r="5.5"/><circle cx="2227.6" cy="1261.1" r="5.5"/><circle cx="2195.9" cy="959.4" r="5.5"/><circle cx="2236.5" cy="1291.7" r="5.5"/><circle cx="2247.3" cy="892.9" r="5.5"/><circle cx="2192.3" cy="1071.4" r="5.5"/><circle cx="2164.2" cy="1352.6" r="5.5"/></g><rect x="2135.3" y="800" width="6" height="629.5" fill="#bcbec0"/><rect x="2252.6" y="800" width="6" height="629.5" fill="#bcbec0"/><path d="M2135.3,800 V1429.5 M2141.8,800 V1429.5 M2252.1,800 V1429.5 M2258.6,800 V1429.5" stroke="#231f20" stroke-width="0.9"/><rect x="1607.5" y="1523.3" width="1062.9" height="631.7" fill="url(#sky)"/><g clip-path="url(#brickclip)"><rect x="1607.5" y="1523.3" width="648.9000000000001" height="631.7" fill="#d2732a"/><path d="M1638.7,1523.3 V2155 M1684.6,1523.3 V2155 M1730.6,1523.3 V2155 M1776.5,1523.3 V2155 M1822.4,1523.3 V2155 M1868.4,1523.3 V2155 M1914.3,1523.3 V2155 M1960.2,1523.3 V2155 M2006.2,1523.3 V2155 M2052.1,1523.3 V2155 M2098.0,1523.3 V2155 M2144.0,1523.3 V2155 M2189.9,1523.3 V2155 M2235.8,1523.3 V2155" stroke="#eeb07a" stroke-width="0.9" stroke-dasharray="5,7" opacity="0.8"/><path d="M1654.6,1837.0 L1670.4,1805.4 L2256.4,1805.4 L2256.4,1870.5 L1670.4,1870.5Z" fill="url(#holeBr)"/><path d="M1633.4,1608.8 A30.4,30.4 0 0 1 1694.3,1608.8 L1694.3,1740.5 A30.4,30.4 0 0 1 1633.4,1740.5Z M1633.4,1923.8 A30.4,30.4 0 0 1 1694.3,1923.8 L1694.3,2160.0 L1633.4,2160.0Z M1720.4,1518.3 L1780.2,1518.3 L1780.2,1662.1 A29.9,29.9 0 0 1 1720.4,1662.1Z M1720.4,1775.4 A29.9,29.9 0 0 1 1780.2,1775.4 L1780.2,1914.5 A29.9,29.9 0 0 1 1720.4,1914.5Z M1720.4,2025.3 A29.9,29.9 0 0 1 1780.2,2025.3 L1780.2,2160.0 L1720.4,2160.0Z M1805.2,1594.5 A30.2,30.2 0 0 1 1865.7,1594.5 L1865.7,1734.0 A30.2,30.2 0 0 1 1805.2,1734.0Z M1805.2,1916.5 A30.2,30.2 0 0 1 1865.7,1916.5 L1865.7,2160.0 L1805.2,2160.0Z M1891.4,1518.3 L1951.3,1518.3 L1951.3,1662.1 A29.9,29.9 0 0 1 1891.4,1662.1Z M1891.4,1775.4 A29.9,29.9 0 0 1 1951.3,1775.4 L1951.3,1914.5 A29.9,29.9 0 0 1 1891.4,1914.5Z M1891.4,2025.3 A29.9,29.9 0 0 1 1951.3,2025.3 L1951.3,2160.0 L1891.4,2160.0Z M1975.9,1608.7 A30.2,30.2 0 0 1 2036.4,1608.7 L2036.4,1740.7 A30.2,30.2 0 0 1 1975.9,1740.7Z M1975.9,1923.7 A30.2,30.2 0 0 1 2036.4,1923.7 L2036.4,2160.0 L1975.9,2160.0Z M2062.1,1518.3 L2122.7,1518.3 L2122.7,1661.7 A30.3,30.3 0 0 1 2062.1,1661.7Z M2062.1,1775.8 A30.3,30.3 0 0 1 2122.7,1775.8 L2122.7,1914.1 A30.3,30.3 0 0 1 2062.1,1914.1Z M2062.1,2025.7 A30.3,30.3 0 0 1 2122.7,2025.7 L2122.7,2160.0 L2062.1,2160.0Z M2146.6,1595.0 A30.7,30.7 0 0 1 2207.9,1595.0 L2207.9,1733.5 A30.7,30.7 0 0 1 2146.6,1733.5Z M2146.6,1917.0 A30.7,30.7 0 0 1 2207.9,1917.0 L2207.9,2160.0 L2146.6,2160.0Z" fill="url(#sky)" stroke="#231f20" stroke-width="1.3"/></g><g transform="translate(1607.5,799.5)"><path d="M76.7,314.2 C82.7,308.2 91.7,300.7 99.7,299.7 L400.0,299.7 L400.0,328.7 L99.7,328.7 C91.7,327.7 82.7,320.2 76.7,314.2Z" fill="url(#screwg)" stroke="#231f20" stroke-width="1.1"/><path d="M96.7,297.7 C99.2,297.7 102.7,309.2 103.2,314.2 C103.7,320.8 105.7,330.7 107.7,330.7" fill="none" stroke="#231f20" stroke-width="5.2" stroke-linecap="round"/><path d="M96.7,297.7 C99.2,297.7 102.7,309.2 103.2,314.2 C103.7,320.8 105.7,330.7 107.7,330.7" fill="none" stroke="#e9e9ea" stroke-width="3.3" stroke-linecap="round"/><path d="M113.9,294.9 C116.4,294.9 119.9,308.4 120.4,314.2 C120.9,321.9 122.9,333.5 124.9,333.5" fill="none" stroke="#231f20" stroke-width="5.2" stroke-linecap="round"/><path d="M113.9,294.9 C116.4,294.9 119.9,308.4 120.4,314.2 C120.9,321.9 122.9,333.5 124.9,333.5" fill="none" stroke="#e9e9ea" stroke-width="3.3" stroke-linecap="round"/><path d="M131.1,294.9 C133.6,294.9 137.1,308.4 137.6,314.2 C138.1,321.9 140.1,333.5 142.1,333.5" fill="none" stroke="#231f20" stroke-width="5.2" stroke-linecap="round"/><path d="M131.1,294.9 C133.6,294.9 137.1,308.4 137.6,314.2 C138.1,321.9 140.1,333.5 142.1,333.5" fill="none" stroke="#e9e9ea" stroke-width="3.3" stroke-linecap="round"/><path d="M148.3,294.9 C150.8,294.9 154.3,308.4 154.8,314.2 C155.3,321.9 157.3,333.5 159.3,333.5" fill="none" stroke="#231f20" stroke-width="5.2" stroke-linecap="round"/><path d="M148.3,294.9 C150.8,294.9 154.3,308.4 154.8,314.2 C155.3,321.9 157.3,333.5 159.3,333.5" fill="none" stroke="#e9e9ea" stroke-width="3.3" stroke-linecap="round"/><path d="M165.5,294.9 C168.0,294.9 171.5,308.4 172.0,314.2 C172.5,321.9 174.5,333.5 176.5,333.5" fill="none" stroke="#231f20" stroke-width="5.2" stroke-linecap="round"/><path d="M165.5,294.9 C168.0,294.9 171.5,308.4 172.0,314.2 C172.5,321.9 174.5,333.5 176.5,333.5" fill="none" stroke="#e9e9ea" stroke-width="3.3" stroke-linecap="round"/><path d="M182.7,294.9 C185.2,294.9 188.7,308.4 189.2,314.2 C189.7,321.9 191.7,333.5 193.7,333.5" fill="none" stroke="#231f20" stroke-width="5.2" stroke-linecap="round"/><path d="M182.7,294.9 C185.2,294.9 188.7,308.4 189.2,314.2 C189.7,321.9 191.7,333.5 193.7,333.5" fill="none" stroke="#e9e9ea" stroke-width="3.3" stroke-linecap="round"/><path d="M199.9,294.9 C202.4,294.9 205.9,308.4 206.4,314.2 C206.9,321.9 208.9,333.5 210.9,333.5" fill="none" stroke="#231f20" stroke-width="5.2" stroke-linecap="round"/><path d="M199.9,294.9 C202.4,294.9 205.9,308.4 206.4,314.2 C206.9,321.9 208.9,333.5 210.9,333.5" fill="none" stroke="#e9e9ea" stroke-width="3.3" stroke-linecap="round"/><path d="M217.1,294.9 C219.6,294.9 223.1,308.4 223.6,314.2 C224.1,321.9 226.1,333.5 228.1,333.5" fill="none" stroke="#231f20" stroke-width="5.2" stroke-linecap="round"/><path d="M217.1,294.9 C219.6,294.9 223.1,308.4 223.6,314.2 C224.1,321.9 226.1,333.5 228.1,333.5" fill="none" stroke="#e9e9ea" stroke-width="3.3" stroke-linecap="round"/><path d="M234.3,294.9 C236.8,294.9 240.3,308.4 240.8,314.2 C241.3,321.9 243.3,333.5 245.3,333.5" fill="none" stroke="#231f20" stroke-width="5.2" stroke-linecap="round"/><path d="M234.3,294.9 C236.8,294.9 240.3,308.4 240.8,314.2 C241.3,321.9 243.3,333.5 245.3,333.5" fill="none" stroke="#e9e9ea" stroke-width="3.3" stroke-linecap="round"/><path d="M251.5,294.9 C254.0,294.9 257.5,308.4 258.0,314.2 C258.5,321.9 260.5,333.5 262.5,333.5" fill="none" stroke="#231f20" stroke-width="5.2" stroke-linecap="round"/><path d="M251.5,294.9 C254.0,294.9 257.5,308.4 258.0,314.2 C258.5,321.9 260.5,333.5 262.5,333.5" fill="none" stroke="#e9e9ea" stroke-width="3.3" stroke-linecap="round"/><path d="M268.7,294.9 C271.2,294.9 274.7,308.4 275.2,314.2 C275.7,321.9 277.7,333.5 279.7,333.5" fill="none" stroke="#231f20" stroke-width="5.2" stroke-linecap="round"/><path d="M268.7,294.9 C271.2,294.9 274.7,308.4 275.2,314.2 C275.7,321.9 277.7,333.5 279.7,333.5" fill="none" stroke="#e9e9ea" stroke-width="3.3" stroke-linecap="round"/><path d="M285.9,294.9 C288.4,294.9 291.9,308.4 292.4,314.2 C292.9,321.9 294.9,333.5 296.9,333.5" fill="none" stroke="#231f20" stroke-width="5.2" stroke-linecap="round"/><path d="M285.9,294.9 C288.4,294.9 291.9,308.4 292.4,314.2 C292.9,321.9 294.9,333.5 296.9,333.5" fill="none" stroke="#e9e9ea" stroke-width="3.3" stroke-linecap="round"/><path d="M303.1,294.9 C305.6,294.9 309.1,308.4 309.6,314.2 C310.1,321.9 312.1,333.5 314.1,333.5" fill="none" stroke="#231f20" stroke-width="5.2" stroke-linecap="round"/><path d="M303.1,294.9 C305.6,294.9 309.1,308.4 309.6,314.2 C310.1,321.9 312.1,333.5 314.1,333.5" fill="none" stroke="#e9e9ea" stroke-width="3.3" stroke-linecap="round"/><path d="M320.3,294.9 C322.8,294.9 326.3,308.4 326.8,314.2 C327.3,321.9 329.3,333.5 331.3,333.5" fill="none" stroke="#231f20" stroke-width="5.2" stroke-linecap="round"/><path d="M320.3,294.9 C322.8,294.9 326.3,308.4 326.8,314.2 C327.3,321.9 329.3,333.5 331.3,333.5" fill="none" stroke="#e9e9ea" stroke-width="3.3" stroke-linecap="round"/><path d="M337.5,294.9 C340.0,294.9 343.5,308.4 344.0,314.2 C344.5,321.9 346.5,333.5 348.5,333.5" fill="none" stroke="#231f20" stroke-width="5.2" stroke-linecap="round"/><path d="M337.5,294.9 C340.0,294.9 343.5,308.4 344.0,314.2 C344.5,321.9 346.5,333.5 348.5,333.5" fill="none" stroke="#e9e9ea" stroke-width="3.3" stroke-linecap="round"/><path d="M354.7,294.9 C357.2,294.9 360.7,308.4 361.2,314.2 C361.7,321.9 363.7,333.5 365.7,333.5" fill="none" stroke="#231f20" stroke-width="5.2" stroke-linecap="round"/><path d="M354.7,294.9 C357.2,294.9 360.7,308.4 361.2,314.2 C361.7,321.9 363.7,333.5 365.7,333.5" fill="none" stroke="#e9e9ea" stroke-width="3.3" stroke-linecap="round"/><path d="M542.5,282.2 C551.5,276.7 561.5,267.5 579.6,266.7 L654.5,266.7 L654.5,361.7 L579.6,361.7 C561.5,360.9 551.5,351.7 542.5,346.2 Z" fill="url(#plastH)"/><rect x="550.5" y="280.0" width="104.0" height="6.2" fill="url(#shadeDn)"/><rect x="550.5" y="341.8" width="104.0" height="6.2" fill="url(#shadeUp)"/><rect x="550.5" y="303.8" width="104.0" height="8.5" fill="url(#shadeDn)" opacity="0.6"/><rect x="550.5" y="316.1" width="104.0" height="8.5" fill="url(#shadeUp)" opacity="0.6"/><path d="M543.5,282.2 C551.5,283.8 566.5,285.8 586.5,285.8 L654.5,285.8 M549.5,307.7 C556.5,303.9 571.5,302.1 596.5,301.9 L654.5,302.0 M543.5,314.2 L654.5,314.2 M549.5,320.7 C556.5,324.5 571.5,325.9 596.5,326.0 L654.5,326.0 M543.5,346.2 C551.5,343.5 566.5,341.7 596.5,341.7 L654.5,341.7 M542.5,282.2 C550.5,288.2 551.5,303.4 543.5,314.2 C551.5,325.0 550.5,340.2 542.5,346.2" fill="none" stroke="#231f20" stroke-width="1.4"/><path d="M542.5,282.2 C551.5,276.7 561.5,267.5 579.6,266.7 L654.5,266.7 L654.5,361.7 L579.6,361.7 C561.5,360.9 551.5,351.7 542.5,346.2 Z" fill="none" stroke="#231f20" stroke-width="1.4"/><path d="M460.8,285.1 C462.8,280.9 468.4,281.5 471.3,277.3 C474.2,273.1 475.9,265.4 478.5,259.9 C481.1,254.4 483.1,247.5 487.1,244.1 C491.2,240.7 497.8,238.6 502.8,239.4 C507.8,240.2 513.1,247.0 517.1,248.8 C521.1,250.6 523.4,248.3 526.5,250.4 C529.6,252.5 533.9,256.2 536.0,261.5 C538.1,266.8 536.7,278.9 539.2,282.0 C541.7,285.1 548.8,275.9 551.2,280.4 C553.6,284.9 553.8,299.9 553.4,308.8 C553.0,317.8 551.2,327.5 548.6,334.1 C546.0,340.7 539.7,342.5 537.6,348.3 C535.5,354.1 537.3,362.8 536.0,368.8 C534.7,374.9 533.4,381.2 529.7,384.6 C526.0,388.0 519.2,389.3 513.9,389.4 C508.6,389.5 503.4,387.1 498.1,385.2 C492.8,383.3 486.5,381.5 482.3,378.3 C478.1,375.0 476.0,371.0 472.8,365.7 C469.6,360.4 465.6,353.6 463.4,346.7 C461.2,339.8 460.2,332.0 459.6,324.6 C459.0,317.2 459.4,309.1 459.6,302.5 C459.8,295.9 458.9,289.3 460.8,285.1Z" fill="#dcdddf" stroke="#231f20" stroke-width="1"/><path d="M478.0,252.2 L496.0,242.2 L524.0,380.2 L508.0,386.2Z" fill="#eeeff0" stroke="#231f20" stroke-width="0.9"/><path d="M490.6,256.2 L497.6,253.2 L499.6,265.2 L492.6,268.2Z" fill="#a9abae" stroke="#231f20" stroke-width="0.7"/><path d="M494.8,277.2 L501.8,274.2 L503.8,286.2 L496.8,289.2Z" fill="#a9abae" stroke="#231f20" stroke-width="0.7"/><path d="M499.0,298.2 L506.0,295.2 L508.0,307.2 L501.0,310.2Z" fill="#a9abae" stroke="#231f20" stroke-width="0.7"/><path d="M503.2,319.2 L510.2,316.2 L512.2,328.2 L505.2,331.2Z" fill="#a9abae" stroke="#231f20" stroke-width="0.7"/><path d="M507.4,340.2 L514.4,337.2 L516.4,349.2 L509.4,352.2Z" fill="#a9abae" stroke="#231f20" stroke-width="0.7"/><path d="M511.6,361.2 L518.6,358.2 L520.6,370.2 L513.6,373.2Z" fill="#a9abae" stroke="#231f20" stroke-width="0.7"/><path d="M500.0,252.2 L518.0,242.2 L546.0,380.2 L530.0,386.2Z" fill="#eeeff0" stroke="#231f20" stroke-width="0.9"/><path d="M512.6,256.2 L519.6,253.2 L521.6,265.2 L514.6,268.2Z" fill="#a9abae" stroke="#231f20" stroke-width="0.7"/><path d="M516.8,277.2 L523.8,274.2 L525.8,286.2 L518.8,289.2Z" fill="#a9abae" stroke="#231f20" stroke-width="0.7"/><path d="M521.0,298.2 L528.0,295.2 L530.0,307.2 L523.0,310.2Z" fill="#a9abae" stroke="#231f20" stroke-width="0.7"/><path d="M525.2,319.2 L532.2,316.2 L534.2,328.2 L527.2,331.2Z" fill="#a9abae" stroke="#231f20" stroke-width="0.7"/><path d="M529.4,340.2 L536.4,337.2 L538.4,349.2 L531.4,352.2Z" fill="#a9abae" stroke="#231f20" stroke-width="0.7"/><path d="M533.6,361.2 L540.6,358.2 L542.6,370.2 L535.6,373.2Z" fill="#a9abae" stroke="#231f20" stroke-width="0.7"/><rect x="447.7" y="284.2" width="12.6" height="60" fill="url(#plast)" stroke="#231f20" stroke-width="1"/><path d="M389.3,292.2 L401.9,280.2 L447.7,280.2 L447.7,348.2 L401.9,348.2 L389.3,336.2Z" fill="url(#plast)" stroke="#231f20" stroke-width="1"/><path d="M401.9,280.2 L401.9,348.2" stroke="#231f20" stroke-width="0.9"/><rect x="654.5" y="263.7" width="9.5" height="101" rx="4.7" fill="url(#flg)" stroke="#231f20" stroke-width="1.3"/><rect x="660.5" y="169.5" width="88.0" height="295.0" fill="#9d6321"/><path d="M678.6,171.0 C678.4,177.4 679.1,196.2 677.0,209.3 C675.0,222.4 669.3,239.9 666.6,249.4 C663.8,259.0 661.5,263.9 660.5,266.9" fill="none" stroke="#6a431c" stroke-width="1.4"/><path d="M697.1,171.0 C697.7,177.4 701.2,194.9 700.4,209.3 C699.6,223.7 695.1,242.4 692.3,257.4 C689.5,272.4 684.9,292.3 683.5,299.3" fill="none" stroke="#6a431c" stroke-width="1.4"/><path d="M718.8,171.0 C718.6,178.7 718.9,203.2 718.0,217.6 C717.0,232.0 713.2,243.8 713.2,257.4 C713.2,271.0 717.2,292.3 718.0,299.3" fill="none" stroke="#6a431c" stroke-width="1.4"/><path d="M734.9,171.0 C734.4,177.4 733.6,196.2 732.4,209.3 C731.2,222.4 727.6,238.4 727.6,249.4 C727.6,260.5 731.6,271.3 732.4,275.7" fill="none" stroke="#6a431c" stroke-width="1.4"/><path d="M660.5,358.3 C662.8,361.5 671.9,367.6 674.5,377.5 C677.1,387.3 677.2,402.9 676.2,417.3 C675.1,431.7 669.6,455.9 668.2,463.6" fill="none" stroke="#6a431c" stroke-width="1.4"/><path d="M689.1,334.7 C688.8,340.5 687.3,355.4 687.5,369.2 C687.8,383.0 690.4,401.6 690.7,417.3 C690.9,433.0 689.4,455.9 689.1,463.6" fill="none" stroke="#6a431c" stroke-width="1.4"/><path d="M705.1,463.6 C704.7,447.9 702.5,391.2 702.7,369.5 C703.0,347.8 705.0,337.6 706.8,333.5 C708.5,329.5 710.5,340.7 713.2,345.3 C715.9,349.9 716.9,357.1 722.8,361.2 C728.7,365.4 744.2,368.6 748.5,370.1" fill="none" stroke="#6a431c" stroke-width="1.4"/><path d="M718.0,463.6 C717.7,453.2 715.6,413.9 716.4,401.4 C717.2,388.8 720.1,388.9 722.8,388.4 C725.5,387.8 730.1,390.7 732.5,398.1 C734.9,405.6 734.6,424.6 737.2,433.2 C739.9,441.8 746.6,447.0 748.5,449.8" fill="none" stroke="#6a431c" stroke-width="1.4"/><rect x="660.5" y="169.5" width="88.0" height="295.0" fill="none" stroke="#231f20" stroke-width="1.4"/><path d="M664.0,294.2 L716.8,294.2 L748.5,267.9 L748.5,361.1 L716.8,334.8 L664.0,334.8Z" fill="#6b431a"/><rect x="664" y="300.2" width="52.8" height="28.6" fill="url(#screwg)" stroke="#231f20" stroke-width="1"/><path d="M716.8,300.2 L748.5,274.9 L748.5,354.1 L716.8,328.8Z" fill="url(#screwg)" stroke="#231f20" stroke-width="1"/><path d="M814.2,315.2 C820.3,307.2 836.5,293.2 856.9,286.8 C872.9,281.8 887.1,279.9 899.7,279.9 L1062.9,279.9 L1062.9,350.6 L899.7,350.6 C887.1,350.6 872.9,348.8 856.9,343.8 C836.5,337.2 820.3,323.2 814.2,315.2Z" fill="url(#bitg)" stroke="#231f20" stroke-width="1.3"/><path d="M816.6,312.8 C815.9,311.3 838.0,301.7 844.4,299.1 C850.7,296.4 865.5,291.5 869.4,290.4 C873.4,289.2 875.4,288.8 877.6,289.1 C879.9,289.4 885.9,291.7 888.3,292.9 C890.7,294.0 896.3,297.3 897.8,298.4 C899.2,299.6 900.4,301.3 900.2,302.1 C900.0,303.0 898.8,305.1 895.9,305.9 C892.9,306.6 881.1,307.8 875.7,308.4 C870.3,309.0 857.7,310.3 850.6,310.9 C843.5,311.4 817.4,314.2 816.6,312.8Z" fill="url(#flute)" stroke="#231f20" stroke-width="0.8"/><path d="M816.6,318.6 C817.4,316.9 843.5,319.7 850.6,320.1 C857.7,320.6 870.3,322.0 875.7,322.6 C881.1,323.3 892.9,325.0 895.9,325.8 C898.8,326.5 900.0,328.0 900.2,328.9 C900.4,329.8 899.2,332.1 897.8,333.2 C896.3,334.4 890.7,337.0 888.3,338.1 C885.9,339.3 879.9,342.4 877.6,342.9 C875.4,343.3 873.4,342.9 869.4,341.9 C865.5,341.0 850.7,337.8 844.4,335.1 C838.0,332.3 815.9,320.4 816.6,318.6Z" fill="url(#flute)" stroke="#231f20" stroke-width="0.8"/></g><g transform="translate(1607.5,1523.3)"><path d="M94.5,313.7 C100.5,307.7 109.5,300.7 117.5,299.7 L380.0,299.7 L380.0,327.7 L117.5,327.7 C109.5,326.7 100.5,319.7 94.5,313.7Z" fill="url(#screwg)" stroke="#231f20" stroke-width="1.1"/><path d="M114.5,297.7 C117.0,297.7 120.5,308.9 121.0,313.7 C121.5,320.1 123.5,329.7 125.5,329.7" fill="none" stroke="#231f20" stroke-width="5.2" stroke-linecap="round"/><path d="M114.5,297.7 C117.0,297.7 120.5,308.9 121.0,313.7 C121.5,320.1 123.5,329.7 125.5,329.7" fill="none" stroke="#e9e9ea" stroke-width="3.3" stroke-linecap="round"/><path d="M131.7,294.2 C134.2,294.2 137.7,307.8 138.2,313.7 C138.7,321.5 140.7,333.2 142.7,333.2" fill="none" stroke="#231f20" stroke-width="5.2" stroke-linecap="round"/><path d="M131.7,294.2 C134.2,294.2 137.7,307.8 138.2,313.7 C138.7,321.5 140.7,333.2 142.7,333.2" fill="none" stroke="#e9e9ea" stroke-width="3.3" stroke-linecap="round"/><path d="M148.9,294.2 C151.4,294.2 154.9,307.8 155.4,313.7 C155.9,321.5 157.9,333.2 159.9,333.2" fill="none" stroke="#231f20" stroke-width="5.2" stroke-linecap="round"/><path d="M148.9,294.2 C151.4,294.2 154.9,307.8 155.4,313.7 C155.9,321.5 157.9,333.2 159.9,333.2" fill="none" stroke="#e9e9ea" stroke-width="3.3" stroke-linecap="round"/><path d="M166.1,294.2 C168.6,294.2 172.1,307.8 172.6,313.7 C173.1,321.5 175.1,333.2 177.1,333.2" fill="none" stroke="#231f20" stroke-width="5.2" stroke-linecap="round"/><path d="M166.1,294.2 C168.6,294.2 172.1,307.8 172.6,313.7 C173.1,321.5 175.1,333.2 177.1,333.2" fill="none" stroke="#e9e9ea" stroke-width="3.3" stroke-linecap="round"/><path d="M183.3,294.2 C185.8,294.2 189.3,307.8 189.8,313.7 C190.3,321.5 192.3,333.2 194.3,333.2" fill="none" stroke="#231f20" stroke-width="5.2" stroke-linecap="round"/><path d="M183.3,294.2 C185.8,294.2 189.3,307.8 189.8,313.7 C190.3,321.5 192.3,333.2 194.3,333.2" fill="none" stroke="#e9e9ea" stroke-width="3.3" stroke-linecap="round"/><path d="M200.5,294.2 C203.0,294.2 206.5,307.8 207.0,313.7 C207.5,321.5 209.5,333.2 211.5,333.2" fill="none" stroke="#231f20" stroke-width="5.2" stroke-linecap="round"/><path d="M200.5,294.2 C203.0,294.2 206.5,307.8 207.0,313.7 C207.5,321.5 209.5,333.2 211.5,333.2" fill="none" stroke="#e9e9ea" stroke-width="3.3" stroke-linecap="round"/><path d="M217.7,294.2 C220.2,294.2 223.7,307.8 224.2,313.7 C224.7,321.5 226.7,333.2 228.7,333.2" fill="none" stroke="#231f20" stroke-width="5.2" stroke-linecap="round"/><path d="M217.7,294.2 C220.2,294.2 223.7,307.8 224.2,313.7 C224.7,321.5 226.7,333.2 228.7,333.2" fill="none" stroke="#e9e9ea" stroke-width="3.3" stroke-linecap="round"/><path d="M234.9,294.2 C237.4,294.2 240.9,307.8 241.4,313.7 C241.9,321.5 243.9,333.2 245.9,333.2" fill="none" stroke="#231f20" stroke-width="5.2" stroke-linecap="round"/><path d="M234.9,294.2 C237.4,294.2 240.9,307.8 241.4,313.7 C241.9,321.5 243.9,333.2 245.9,333.2" fill="none" stroke="#e9e9ea" stroke-width="3.3" stroke-linecap="round"/><path d="M252.1,294.2 C254.6,294.2 258.1,307.8 258.6,313.7 C259.1,321.5 261.1,333.2 263.1,333.2" fill="none" stroke="#231f20" stroke-width="5.2" stroke-linecap="round"/><path d="M252.1,294.2 C254.6,294.2 258.1,307.8 258.6,313.7 C259.1,321.5 261.1,333.2 263.1,333.2" fill="none" stroke="#e9e9ea" stroke-width="3.3" stroke-linecap="round"/><path d="M269.3,294.2 C271.8,294.2 275.3,307.8 275.8,313.7 C276.3,321.5 278.3,333.2 280.3,333.2" fill="none" stroke="#231f20" stroke-width="5.2" stroke-linecap="round"/><path d="M269.3,294.2 C271.8,294.2 275.3,307.8 275.8,313.7 C276.3,321.5 278.3,333.2 280.3,333.2" fill="none" stroke="#e9e9ea" stroke-width="3.3" stroke-linecap="round"/><path d="M286.5,294.2 C289.0,294.2 292.5,307.8 293.0,313.7 C293.5,321.5 295.5,333.2 297.5,333.2" fill="none" stroke="#231f20" stroke-width="5.2" stroke-linecap="round"/><path d="M286.5,294.2 C289.0,294.2 292.5,307.8 293.0,313.7 C293.5,321.5 295.5,333.2 297.5,333.2" fill="none" stroke="#e9e9ea" stroke-width="3.3" stroke-linecap="round"/><path d="M303.7,294.2 C306.2,294.2 309.7,307.8 310.2,313.7 C310.7,321.5 312.7,333.2 314.7,333.2" fill="none" stroke="#231f20" stroke-width="5.2" stroke-linecap="round"/><path d="M303.7,294.2 C306.2,294.2 309.7,307.8 310.2,313.7 C310.7,321.5 312.7,333.2 314.7,333.2" fill="none" stroke="#e9e9ea" stroke-width="3.3" stroke-linecap="round"/><path d="M320.9,294.2 C323.4,294.2 326.9,307.8 327.4,313.7 C327.9,321.5 329.9,333.2 331.9,333.2" fill="none" stroke="#231f20" stroke-width="5.2" stroke-linecap="round"/><path d="M320.9,294.2 C323.4,294.2 326.9,307.8 327.4,313.7 C327.9,321.5 329.9,333.2 331.9,333.2" fill="none" stroke="#e9e9ea" stroke-width="3.3" stroke-linecap="round"/><path d="M338.1,294.2 C340.6,294.2 344.1,307.8 344.6,313.7 C345.1,321.5 347.1,333.2 349.1,333.2" fill="none" stroke="#231f20" stroke-width="5.2" stroke-linecap="round"/><path d="M338.1,294.2 C340.6,294.2 344.1,307.8 344.6,313.7 C345.1,321.5 347.1,333.2 349.1,333.2" fill="none" stroke="#e9e9ea" stroke-width="3.3" stroke-linecap="round"/><path d="M523.9,281.7 C532.9,276.2 542.9,267.0 565.2,266.2 L648.5,266.2 L648.5,361.2 L565.2,361.2 C542.9,360.4 532.9,351.2 523.9,345.7 Z" fill="url(#plastH)"/><rect x="531.9" y="279.5" width="116.6" height="6.2" fill="url(#shadeDn)"/><rect x="531.9" y="341.2" width="116.6" height="6.2" fill="url(#shadeUp)"/><rect x="531.9" y="303.2" width="116.6" height="8.5" fill="url(#shadeDn)" opacity="0.6"/><rect x="531.9" y="315.6" width="116.6" height="8.5" fill="url(#shadeUp)" opacity="0.6"/><path d="M524.9,281.7 C532.9,283.3 547.9,285.3 567.9,285.3 L648.5,285.3 M530.9,307.2 C537.9,303.4 552.9,301.6 577.9,301.4 L648.5,301.5 M524.9,313.7 L648.5,313.7 M530.9,320.2 C537.9,324.0 552.9,325.4 577.9,325.5 L648.5,325.5 M524.9,345.7 C532.9,343.0 547.9,341.2 577.9,341.2 L648.5,341.2 M523.9,281.7 C531.9,287.7 532.9,302.9 524.9,313.7 C532.9,324.5 531.9,339.7 523.9,345.7" fill="none" stroke="#231f20" stroke-width="1.4"/><path d="M523.9,281.7 C532.9,276.2 542.9,267.0 565.2,266.2 L648.5,266.2 L648.5,361.2 L565.2,361.2 C542.9,360.4 532.9,351.2 523.9,345.7 Z" fill="none" stroke="#231f20" stroke-width="1.4"/><path d="M436.8,284.6 C438.8,280.4 444.4,281.0 447.3,276.8 C450.2,272.6 451.9,264.9 454.5,259.4 C457.1,253.9 459.1,247.0 463.1,243.6 C467.2,240.2 473.8,238.1 478.8,238.9 C483.8,239.7 489.2,246.5 493.1,248.3 C497.1,250.1 499.4,247.8 502.5,249.9 C505.6,252.0 509.9,255.7 512.0,261.0 C514.1,266.3 512.7,278.4 515.2,281.5 C517.7,284.6 524.8,275.4 527.2,279.9 C529.6,284.4 529.8,299.4 529.4,308.3 C529.0,317.2 527.2,327.0 524.6,333.6 C522.0,340.2 515.7,342.0 513.6,347.8 C511.5,353.6 513.3,362.2 512.0,368.3 C510.7,374.4 509.4,380.7 505.7,384.1 C502.0,387.5 495.2,388.8 489.9,388.9 C484.6,389.0 479.4,386.6 474.1,384.7 C468.8,382.8 462.5,381.0 458.3,377.8 C454.1,374.5 452.0,370.5 448.8,365.2 C445.6,359.9 441.6,353.1 439.4,346.2 C437.2,339.3 436.2,331.5 435.6,324.1 C435.0,316.7 435.4,308.6 435.6,302.0 C435.8,295.4 434.9,288.8 436.8,284.6Z" fill="#dcdddf" stroke="#231f20" stroke-width="1"/><path d="M454.0,251.7 L472.0,241.7 L500.0,379.7 L484.0,385.7Z" fill="#eeeff0" stroke="#231f20" stroke-width="0.9"/><path d="M466.6,255.7 L473.6,252.7 L475.6,264.7 L468.6,267.7Z" fill="#a9abae" stroke="#231f20" stroke-width="0.7"/><path d="M470.8,276.7 L477.8,273.7 L479.8,285.7 L472.8,288.7Z" fill="#a9abae" stroke="#231f20" stroke-width="0.7"/><path d="M475.0,297.7 L482.0,294.7 L484.0,306.7 L477.0,309.7Z" fill="#a9abae" stroke="#231f20" stroke-width="0.7"/><path d="M479.2,318.7 L486.2,315.7 L488.2,327.7 L481.2,330.7Z" fill="#a9abae" stroke="#231f20" stroke-width="0.7"/><path d="M483.4,339.7 L490.4,336.7 L492.4,348.7 L485.4,351.7Z" fill="#a9abae" stroke="#231f20" stroke-width="0.7"/><path d="M487.6,360.7 L494.6,357.7 L496.6,369.7 L489.6,372.7Z" fill="#a9abae" stroke="#231f20" stroke-width="0.7"/><path d="M476.0,251.7 L494.0,241.7 L522.0,379.7 L506.0,385.7Z" fill="#eeeff0" stroke="#231f20" stroke-width="0.9"/><path d="M488.6,255.7 L495.6,252.7 L497.6,264.7 L490.6,267.7Z" fill="#a9abae" stroke="#231f20" stroke-width="0.7"/><path d="M492.8,276.7 L499.8,273.7 L501.8,285.7 L494.8,288.7Z" fill="#a9abae" stroke="#231f20" stroke-width="0.7"/><path d="M497.0,297.7 L504.0,294.7 L506.0,306.7 L499.0,309.7Z" fill="#a9abae" stroke="#231f20" stroke-width="0.7"/><path d="M501.2,318.7 L508.2,315.7 L510.2,327.7 L503.2,330.7Z" fill="#a9abae" stroke="#231f20" stroke-width="0.7"/><path d="M505.4,339.7 L512.4,336.7 L514.4,348.7 L507.4,351.7Z" fill="#a9abae" stroke="#231f20" stroke-width="0.7"/><path d="M509.6,360.7 L516.6,357.7 L518.6,369.7 L511.6,372.7Z" fill="#a9abae" stroke="#231f20" stroke-width="0.7"/><rect x="421.7" y="283.7" width="12.6" height="60" fill="url(#plast)" stroke="#231f20" stroke-width="1"/><path d="M363.3,291.7 L375.9,279.7 L421.7,279.7 L421.7,347.7 L375.9,347.7 L363.3,335.7Z" fill="url(#plast)" stroke="#231f20" stroke-width="1"/><path d="M375.9,279.7 L375.9,347.7" stroke="#231f20" stroke-width="0.9"/><rect x="648.5" y="263.2" width="9.5" height="101" rx="4.7" fill="url(#flg)" stroke="#231f20" stroke-width="1.3"/><rect x="657.2" y="169" width="87.69999999999993" height="295.1" fill="#9d6321"/><path d="M675.3,170.5 C675.0,176.9 675.7,195.8 673.7,208.8 C671.7,221.9 666.0,239.4 663.3,249.0 C660.5,258.6 658.2,263.5 657.2,266.4" fill="none" stroke="#6a431c" stroke-width="1.4"/><path d="M693.7,170.5 C694.2,176.9 697.7,194.4 696.9,208.8 C696.1,223.2 691.7,241.9 688.9,256.9 C686.1,271.9 681.6,291.9 680.1,298.8" fill="none" stroke="#6a431c" stroke-width="1.4"/><path d="M715.3,170.5 C715.1,178.2 715.4,202.7 714.5,217.1 C713.5,231.5 709.7,243.3 709.7,256.9 C709.7,270.6 713.7,291.9 714.5,298.8" fill="none" stroke="#6a431c" stroke-width="1.4"/><path d="M731.3,170.5 C730.9,176.9 730.0,195.8 728.9,208.8 C727.7,221.9 724.1,237.9 724.1,249.0 C724.1,260.0 728.1,270.9 728.9,275.2" fill="none" stroke="#6a431c" stroke-width="1.4"/><path d="M657.2,357.9 C659.5,361.1 668.5,367.2 671.1,377.0 C673.7,386.9 673.8,402.5 672.8,416.9 C671.8,431.2 666.2,455.5 664.9,463.2" fill="none" stroke="#6a431c" stroke-width="1.4"/><path d="M685.7,334.3 C685.4,340.0 683.9,355.0 684.1,368.8 C684.4,382.6 687.0,401.1 687.3,416.9 C687.5,432.6 686.0,455.5 685.7,463.2" fill="none" stroke="#6a431c" stroke-width="1.4"/><path d="M701.7,463.2 C701.3,447.5 699.0,390.8 699.3,369.1 C699.6,347.4 701.6,337.1 703.3,333.1 C705.1,329.0 707.1,340.3 709.7,344.9 C712.4,349.5 713.4,356.7 719.3,360.8 C725.2,364.9 740.6,368.2 744.9,369.7" fill="none" stroke="#6a431c" stroke-width="1.4"/><path d="M714.5,463.2 C714.2,452.8 712.1,413.5 712.9,400.9 C713.7,388.4 716.6,388.5 719.3,388.0 C722.0,387.4 726.5,390.2 728.9,397.7 C731.3,405.2 731.0,424.2 733.7,432.8 C736.3,441.4 743.0,446.6 744.9,449.3" fill="none" stroke="#6a431c" stroke-width="1.4"/><rect x="657.2" y="169" width="87.69999999999993" height="295.1" fill="none" stroke="#231f20" stroke-width="1.4"/><path d="M658.0,293.9 L716.6,293.9 L744.9,267.6 L744.9,360.8 L716.6,334.5 L658.0,334.5Z" fill="#6b431a"/><rect x="658" y="299.9" width="58.6" height="28.6" fill="url(#screwg)" stroke="#231f20" stroke-width="1"/><path d="M716.6,299.9 L744.9,274.6 L744.9,353.8 L716.6,328.5Z" fill="url(#screwg)" stroke="#231f20" stroke-width="1"/><path d="M814.8,315.6 C821.0,307.6 837.4,293.6 858.2,287.1 C874.4,282.1 888.8,280.3 901.7,280.3 L1062.9,280.3 L1062.9,350.9 L901.7,350.9 C888.8,350.9 874.4,349.1 858.2,344.1 C837.4,337.6 821.0,323.6 814.8,315.6Z" fill="url(#bitg)" stroke="#231f20" stroke-width="1.3"/><path d="M817.3,313.1 C816.5,311.7 839.0,302.1 845.4,299.4 C851.9,296.7 866.9,291.9 871.0,290.7 C875.0,289.5 877.0,289.2 879.3,289.5 C881.6,289.8 887.6,292.1 890.1,293.2 C892.5,294.3 898.3,297.7 899.7,298.8 C901.2,299.9 902.4,301.6 902.2,302.5 C902.0,303.4 900.8,305.5 897.8,306.2 C894.8,306.9 882.8,308.1 877.3,308.7 C871.8,309.3 859.0,310.7 851.8,311.2 C844.6,311.7 818.0,314.5 817.3,313.1Z" fill="url(#flute)" stroke="#231f20" stroke-width="0.8"/><path d="M817.3,319.0 C818.0,317.2 844.6,320.0 851.8,320.5 C859.0,321.0 871.8,322.3 877.3,323.0 C882.8,323.7 894.8,325.4 897.8,326.1 C900.8,326.8 902.0,328.3 902.2,329.2 C902.4,330.1 901.2,332.5 899.7,333.6 C898.3,334.7 892.5,337.3 890.1,338.5 C887.6,339.7 881.6,342.7 879.3,343.2 C877.0,343.7 875.0,343.2 871.0,342.3 C866.9,341.4 851.9,338.2 845.4,335.4 C839.0,332.6 816.5,320.8 817.3,319.0Z" fill="url(#flute)" stroke="#231f20" stroke-width="0.8"/></g><rect x="354.9" y="115.95" width="88.9" height="84.9" fill="#ed1c24"/><path d="M381.1,139 L392.5,132.8 L402,132.8 L402,183 L391.7,183 L391.7,143 L383.1,147.2 Z" fill="#fff"/><ellipse cx="420.9" cy="177.1" rx="6" ry="6.6" fill="#fff"/><rect x="354.9" y="835.95" width="88.9" height="84.9" fill="#ed1c24"/><text transform="translate(381.17,903.00) scale(0.5755,0.7286)" x="0" y="0" font-family="Liberation Sans, sans-serif" font-weight="bold" font-size="100" fill="#fff">2</text><ellipse cx="424" cy="897.3" rx="6" ry="6.6" fill="#fff"/><rect x="354.9" y="1556.9" width="88" height="83.9" fill="#ed1c24"/><text transform="translate(377.90,1624.45) scale(0.5380,0.7350)" x="0" y="0" font-family="Liberation Sans, sans-serif" font-weight="bold" font-size="100" fill="#fff">3</text><ellipse cx="419.9" cy="1618.3" rx="6" ry="6.6" fill="#fff"/><rect x="354.9" y="2281" width="88" height="83.8" fill="#ed1c24"/><path d="M396.8,2297.8 L407.2,2297.8 L407.2,2327.8 L412.1,2327.8 L412.1,2335.9 L407.2,2335.9 L407.2,2348 L397.9,2348 L397.9,2335.9 L380.8,2335.9 L380.8,2327.8 Z M389.9,2327.8 L397.9,2327.8 L398.4,2311 Z" fill="#fff" fill-rule="evenodd"/><ellipse cx="423" cy="2341.8" rx="6" ry="6.6" fill="#fff"/><rect x="1642.1" y="112" width="88.8" height="84.8" fill="#ed1c24"/><path d="M1646.7,163.1 L1649.9,160.2 L1654.3,159.0 L1657.7,160.7 L1660.7,164.6 L1663.6,170.0 L1666.8,175.4 L1670.5,168.5 L1677.4,157.2 L1684.3,147.4 L1694.1,136.6 L1706.4,126.8 L1714.8,121.3 L1721.7,118.9 L1723.1,121.3 L1715.8,126.8 L1706.4,134.6 L1696.6,145.4 L1686.7,158.2 L1679.4,169.0 L1674.5,178.9 L1671.5,185.3 L1667.6,187.7 L1663.1,192.1 L1660.7,186.2 L1657.7,178.9 L1654.3,171.5 L1650.8,166.1Z" fill="#fff" stroke="#fff" stroke-width="0.4" stroke-linejoin="round"/><rect x="1642.1" y="840.1" width="88.8" height="84.8" fill="#ed1c24"/><path d="M1646.7,891.2 L1649.9,888.3 L1654.3,887.1 L1657.7,888.8 L1660.7,892.7 L1663.6,898.1 L1666.8,903.5 L1670.5,896.6 L1677.4,885.3 L1684.3,875.5 L1694.1,864.7 L1706.4,854.9 L1714.8,849.4 L1721.7,847.0 L1723.1,849.4 L1715.8,854.9 L1706.4,862.7 L1696.6,873.5 L1686.7,886.3 L1679.4,897.1 L1674.5,907.0 L1671.5,913.4 L1667.6,915.8 L1663.1,920.2 L1660.7,914.3 L1657.7,907.0 L1654.3,899.6 L1650.8,894.2Z" fill="#fff" stroke="#fff" stroke-width="0.4" stroke-linejoin="round"/><rect x="1642.1" y="1557.1" width="88.8" height="84.8" fill="#ed1c24"/><path d="M1646.7,1608.2 L1649.9,1605.3 L1654.3,1604.1 L1657.7,1605.8 L1660.7,1609.7 L1663.6,1615.1 L1666.8,1620.5 L1670.5,1613.6 L1677.4,1602.3 L1684.3,1592.5 L1694.1,1581.7 L1706.4,1571.9 L1714.8,1566.4 L1721.7,1564.0 L1723.1,1566.4 L1715.8,1571.9 L1706.4,1579.7 L1696.6,1590.5 L1686.7,1603.3 L1679.4,1614.1 L1674.5,1624.0 L1671.5,1630.4 L1667.6,1632.8 L1663.1,1637.2 L1660.7,1631.3 L1657.7,1624.0 L1654.3,1616.6 L1650.8,1611.2Z" fill="#fff" stroke="#fff" stroke-width="0.4" stroke-linejoin="round"/><rect x="331" y="83" width="1063" height="631" fill="none" stroke="#3a3a3a" stroke-width="1.7"/><rect x="331" y="1524" width="1063" height="631" fill="none" stroke="#3a3a3a" stroke-width="1.7"/><rect x="331" y="2246.6" width="1063" height="631.0" fill="none" stroke="#3a3a3a" stroke-width="1.7"/><rect x="1607.5" y="83.1" width="1062.9" height="630.9" fill="none" stroke="#3a3a3a" stroke-width="1.7"/><rect x="1607.5" y="799.5" width="1062.9" height="630.5" fill="none" stroke="#3a3a3a" stroke-width="1.7"/><rect x="1607.5" y="1523.3" width="1062.9" height="631.7" fill="none" stroke="#3a3a3a" stroke-width="1.7"/></svg></body></html>
